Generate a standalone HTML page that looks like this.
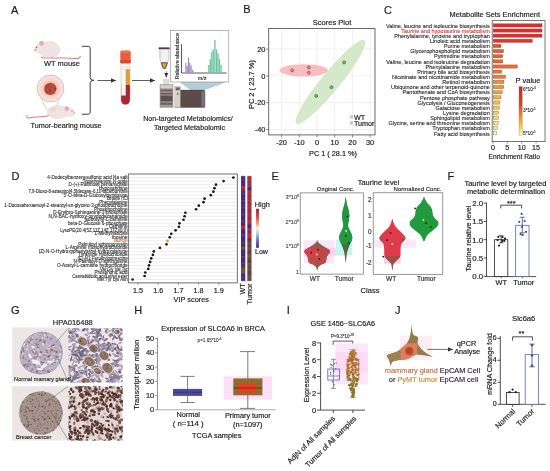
<!DOCTYPE html><html><head><meta charset="utf-8"><style>html,body{margin:0;padding:0;background:#fff;}svg{display:block;font-family:"Liberation Sans",sans-serif;filter:blur(0.3px);}</style></head><body>
<svg width="550" height="471" viewBox="0 0 550 471">
<defs><linearGradient id="pg" x1="0" y1="0" x2="0" y2="1"><stop offset="0" stop-color="#c42828"/><stop offset="0.35" stop-color="#d8402a"/><stop offset="0.6" stop-color="#e88a30"/><stop offset="0.82" stop-color="#f0d040"/><stop offset="1" stop-color="#f8f8d8"/></linearGradient><linearGradient id="hl" x1="0" y1="0" x2="0" y2="1"><stop offset="0" stop-color="#a01a2a"/><stop offset="0.2" stop-color="#d2403a"/><stop offset="0.38" stop-color="#f0a060"/><stop offset="0.5" stop-color="#f8f0d8"/><stop offset="0.62" stop-color="#a8d8e8"/><stop offset="0.8" stop-color="#6a70b8"/><stop offset="1" stop-color="#3a2a80"/></linearGradient><radialGradient id="tum" cx="0.5" cy="0.5" r="0.5"><stop offset="0.4" stop-color="#f2b8a8"/><stop offset="0.62" stop-color="#f6d2c8"/><stop offset="0.9" stop-color="#f8e4de"/><stop offset="1" stop-color="#f2dcd8"/></radialGradient><marker id="ah" markerWidth="6" markerHeight="6" refX="5" refY="3" orient="auto" markerUnits="userSpaceOnUse"><path d="M0,0.8 L5,3 L0,5.2 z" fill="#333"/></marker></defs>
<rect width="550" height="471" fill="#fff"/>
<g font-family='"Liberation Sans", sans-serif' opacity="0.995">
<text x="11.00" y="13.60" font-size="11" text-anchor="start" fill="#1a1a1a" stroke="#1a1a1a" stroke-width="0.18" >A</text>
<g>
<path d="M41,57.5 C52,59 66,57 74,58.5 C78,59 80,58 80.5,56" fill="none" stroke="#e07a84" stroke-width="1.1" />
<ellipse cx="49.5" cy="49.5" rx="10.5" ry="8" fill="#efe3e3" stroke="#e2cccc" stroke-width="0.4"/>
<ellipse cx="40" cy="48.5" rx="5.2" ry="4.6" fill="#f0e4e4" stroke="#e2cccc" stroke-width="0.4"/>
<circle cx="41.50" cy="43.30" r="2.40" fill="#e9a6ae" stroke="none" stroke-width="0.5" />
<circle cx="36.60" cy="47.50" r="0.70" fill="#8a4a50" stroke="none" stroke-width="0.5" />
<circle cx="35.30" cy="50.20" r="0.90" fill="#e58a96" stroke="none" stroke-width="0.5" />
<path d="M43,56 l-1,2.2 M52,56.5 l0,1.8" fill="none" stroke="#e8a0a8" stroke-width="0.8" />
</g>
<text x="44.00" y="66.00" font-size="7.4" text-anchor="start" fill="#1e1e1e" stroke="#1e1e1e" stroke-width="0.18" textLength="36.0" lengthAdjust="spacingAndGlyphs" >WT mouse</text>
<circle cx="50.50" cy="88.50" r="13.40" fill="url(#tum)" stroke="#c8a8a8" stroke-width="0.6" />
<circle cx="50.30" cy="88.90" r="6.10" fill="#b8483c" stroke="none" stroke-width="0.5" />
<circle cx="46.73" cy="90.00" r="1.05" fill="#c45a4c" stroke="none" stroke-width="0.5" />
<circle cx="45.89" cy="90.28" r="0.61" fill="#9a342c" stroke="none" stroke-width="0.5" />
<circle cx="46.43" cy="89.49" r="0.61" fill="#c45a4c" stroke="none" stroke-width="0.5" />
<circle cx="49.80" cy="90.32" r="0.99" fill="#9a342c" stroke="none" stroke-width="0.5" />
<circle cx="47.74" cy="86.01" r="0.74" fill="#c45a4c" stroke="none" stroke-width="0.5" />
<circle cx="48.07" cy="85.67" r="0.59" fill="#a03a30" stroke="none" stroke-width="0.5" />
<circle cx="50.92" cy="87.81" r="0.52" fill="#a03a30" stroke="none" stroke-width="0.5" />
<circle cx="46.73" cy="86.32" r="0.70" fill="#9a342c" stroke="none" stroke-width="0.5" />
<circle cx="52.28" cy="85.89" r="0.88" fill="#c45a4c" stroke="none" stroke-width="0.5" />
<circle cx="51.76" cy="88.94" r="0.89" fill="#c45a4c" stroke="none" stroke-width="0.5" />
<circle cx="55.29" cy="88.83" r="1.00" fill="#9a342c" stroke="none" stroke-width="0.5" />
<circle cx="50.19" cy="93.25" r="0.81" fill="#a03a30" stroke="none" stroke-width="0.5" />
<circle cx="54.26" cy="90.77" r="0.74" fill="#c45a4c" stroke="none" stroke-width="0.5" />
<circle cx="46.60" cy="92.10" r="1.01" fill="#a03a30" stroke="none" stroke-width="0.5" />
<path d="M41.3,98.5 L47,109.5 M59.3,98.3 L56.5,107" fill="none" stroke="#c8b0b0" stroke-width="0.6" />
<path d="M49,115.5 C42,117.5 35,116.5 30,117.8 C27.5,118.5 26.5,117.5 26.8,115.2" fill="none" stroke="#e07a84" stroke-width="1.1" />
<ellipse cx="58" cy="112" rx="11" ry="6.5" fill="#efe3e3" stroke="#e2cccc" stroke-width="0.4"/>
<ellipse cx="69.5" cy="112.3" rx="5" ry="4.2" fill="#f0e4e4" stroke="#e2cccc" stroke-width="0.4"/>
<circle cx="66.80" cy="108.50" r="2.20" fill="#e9a6ae" stroke="none" stroke-width="0.5" />
<circle cx="72.00" cy="111.00" r="0.60" fill="#8a4a50" stroke="none" stroke-width="0.5" />
<circle cx="74.50" cy="113.00" r="0.80" fill="#e58a96" stroke="none" stroke-width="0.5" />
<ellipse cx="53.5" cy="109.5" rx="3" ry="2.2" fill="#f3d2d0"/>
<text x="30.60" y="128.20" font-size="7.4" text-anchor="start" fill="#1e1e1e" stroke="#1e1e1e" stroke-width="0.18" textLength="71.0" lengthAdjust="spacingAndGlyphs" >Tumor-bearing mouse</text>
<path d="M82,46.3 L88.3,46.3 Q90.2,46.3 90.2,48.3 L90.2,77.8 Q90.2,80.3 93.8,80.3 Q90.2,80.3 90.2,82.8 L90.2,112.2 Q90.2,114.2 88.3,114.2 L82,114.2" fill="none" stroke="#3a3a3a" stroke-width="1.0" />
<line x1="97.50" y1="80.50" x2="116.00" y2="80.50" stroke="#333" stroke-width="0.8" marker-end="url(#ah)"/>
<line x1="132.00" y1="80.50" x2="155.00" y2="80.50" stroke="#333" stroke-width="0.8" marker-end="url(#ah)"/>
<rect x="120.80" y="62.00" width="9.40" height="42.60" fill="#f2eeea" stroke="#c8c0bc" stroke-width="0.4" rx="4.5"/>
<rect x="121.10" y="84.80" width="8.80" height="19.60" fill="#a82830" stroke="none" stroke-width="0.8" rx="4.3"/>
<rect x="121.10" y="84.80" width="8.80" height="8.00" fill="#a82830" stroke="none" stroke-width="0.8" />
<rect x="125.60" y="69.20" width="4.30" height="15.80" fill="#d8a032" stroke="none" stroke-width="0.8" />
<rect x="121.30" y="69.20" width="4.40" height="26.20" fill="#f8f6f4" stroke="#d8d0cc" stroke-width="0.3" />
<rect x="120.30" y="50.50" width="10.40" height="12.80" fill="#e85a3a" stroke="none" stroke-width="0.8" rx="1.5"/>
<rect x="120.30" y="60.20" width="10.40" height="3.10" fill="#d4482e" stroke="none" stroke-width="0.8" />
<rect x="121.00" y="51.00" width="9.00" height="2.50" fill="#ee7050" stroke="none" stroke-width="0.8" rx="1"/>
<rect x="158.60" y="47.40" width="11.00" height="1.90" fill="#3a3a3a" stroke="none" stroke-width="0.8" />
<path d="M159.8,49.3 L168.9,49.3 L168.9,58.5 L165.5,68.6 L163.2,68.6 L159.8,58.5 Z" fill="#f2f2f2" stroke="#9a9a9a" stroke-width="0.5" />
<path d="M161.3,62.8 L167.4,62.8 L165.3,68.3 L163.4,68.3 Z" fill="#eca040" stroke="#333" stroke-width="0.8" />
<line x1="161.00" y1="52.00" x2="161.00" y2="58.00" stroke="#bbb" stroke-width="0.4" />
<line x1="166.30" y1="71.20" x2="166.30" y2="77.50" stroke="#555" stroke-width="0.7" marker-end="url(#ah)"/>
<path d="M179.5,82 L226.5,82 L204.5,90.3 L190.5,90.3 Z" fill="#b2ccd8" stroke="none" stroke-width="0.8" />
<rect x="163.60" y="79.50" width="5.30" height="4.70" fill="#cfe2dc" stroke="#a8b4b0" stroke-width="0.3" />
<rect x="160.00" y="84.80" width="13.00" height="22.50" fill="#a29896" stroke="#6a605e" stroke-width="0.35" />
<rect x="160.40" y="85.20" width="12.20" height="3.20" fill="#d8d0cc" stroke="none" stroke-width="0.8" />
<rect x="160.60" y="89.60" width="11.80" height="1.80" fill="#6a605e" stroke="none" stroke-width="0.8" />
<rect x="160.60" y="92.80" width="11.80" height="1.80" fill="#6a605e" stroke="none" stroke-width="0.8" />
<rect x="160.60" y="95.60" width="11.80" height="5.80" fill="#5a504e" stroke="none" stroke-width="0.8" />
<rect x="160.60" y="102.60" width="11.80" height="2.20" fill="#6a605e" stroke="none" stroke-width="0.8" />
<rect x="174.80" y="86.60" width="5.90" height="19.60" fill="#d8d0cc" stroke="#8a8280" stroke-width="0.3" />
<rect x="175.70" y="87.40" width="4.10" height="2.80" fill="#6a6260" stroke="none" stroke-width="0.8" />
<path d="M177.75,92.4 l1.2,2.2 l-2.4,0 z" fill="#5a5452" stroke="none" stroke-width="0.8" />
<path d="M180.7,90.1 L203.3,90.1 Q205.0,90.1 205.0,92.1 L205.0,105.4 Q205.0,107.3 203.3,107.3 L180.7,107.3 Z" fill="#5c4a48" stroke="#3e3432" stroke-width="0.35" />
<path d="M201.5,90.4 L204.8,92 L204.8,106 L201.5,107 Z" fill="#727286" stroke="none" stroke-width="0.8" />
<line x1="174.50" y1="107.40" x2="205.20" y2="107.40" stroke="#6a605e" stroke-width="0.6" />
<rect x="170.60" y="30.40" width="58.20" height="51.60" fill="#ffffff" stroke="#8a8a8a" stroke-width="0.6" />
<text transform="translate(179.20,56.20) rotate(-90)" font-size="4.9" text-anchor="middle" fill="#1e1e1e" stroke="#1e1e1e" stroke-width="0.12" textLength="46.0" lengthAdjust="spacingAndGlyphs">Relative abundance</text>
<line x1="181.50" y1="44.20" x2="181.50" y2="73.00" stroke="#333" stroke-width="0.8" />
<line x1="181.50" y1="73.00" x2="226.70" y2="73.00" stroke="#333" stroke-width="0.8" />
<rect x="185.30" y="62.80" width="1.20" height="9.80" fill="#a088c4" stroke="none" stroke-width="0.8" />
<rect x="186.60" y="66.00" width="1.20" height="6.60" fill="#a088c4" stroke="none" stroke-width="0.8" />
<rect x="187.90" y="57.50" width="1.20" height="15.10" fill="#a088c4" stroke="none" stroke-width="0.8" />
<rect x="189.20" y="62.80" width="1.20" height="9.80" fill="#a088c4" stroke="none" stroke-width="0.8" />
<rect x="190.50" y="65.40" width="1.20" height="7.20" fill="#a088c4" stroke="none" stroke-width="0.8" />
<rect x="192.10" y="69.70" width="1.20" height="2.90" fill="#a088c4" stroke="none" stroke-width="0.8" />
<rect x="208.15" y="64.90" width="1.30" height="7.70" fill="#6cc49e" stroke="none" stroke-width="0.8" />
<rect x="209.65" y="59.10" width="1.30" height="13.50" fill="#6cc49e" stroke="none" stroke-width="0.8" />
<rect x="211.15" y="52.00" width="1.30" height="20.60" fill="#6cc49e" stroke="none" stroke-width="0.8" />
<rect x="212.55" y="49.50" width="1.30" height="23.10" fill="#6cc49e" stroke="none" stroke-width="0.8" />
<rect x="214.25" y="40.00" width="1.30" height="32.60" fill="#6cc49e" stroke="none" stroke-width="0.8" />
<rect x="215.95" y="49.50" width="1.30" height="23.10" fill="#6cc49e" stroke="none" stroke-width="0.8" />
<rect x="217.35" y="53.20" width="1.30" height="19.40" fill="#6cc49e" stroke="none" stroke-width="0.8" />
<rect x="218.85" y="59.10" width="1.30" height="13.50" fill="#6cc49e" stroke="none" stroke-width="0.8" />
<rect x="220.45" y="64.90" width="1.30" height="7.70" fill="#6cc49e" stroke="none" stroke-width="0.8" />
<text x="202.00" y="80.00" font-size="5.4" text-anchor="middle" fill="#1e1e1e" stroke="#1e1e1e" stroke-width="0.12" >m/z</text>
<text x="143.20" y="121.20" font-size="7.2" text-anchor="start" fill="#1e1e1e" stroke="#1e1e1e" stroke-width="0.18" textLength="89.5" lengthAdjust="spacingAndGlyphs" >Non-targeted Metabolomics/</text>
<text x="154.00" y="129.60" font-size="7.2" text-anchor="start" fill="#1e1e1e" stroke="#1e1e1e" stroke-width="0.18" textLength="71.0" lengthAdjust="spacingAndGlyphs" >Targeted Metabolomic</text>
<text x="243.20" y="13.40" font-size="11" text-anchor="start" fill="#1a1a1a" stroke="#1a1a1a" stroke-width="0.18" >B</text>
<text x="332.00" y="25.00" font-size="7.6" text-anchor="middle" fill="#1e1e1e" stroke="#1e1e1e" stroke-width="0.18" textLength="38.7" lengthAdjust="spacingAndGlyphs" >Scores Plot</text>
<rect x="268.70" y="28.50" width="106.30" height="106.40" fill="#fff" stroke="none" stroke-width="0.8" />
<line x1="281.60" y1="28.80" x2="281.60" y2="134.60" stroke="#e6e6e6" stroke-width="0.6" />
<line x1="299.30" y1="28.80" x2="299.30" y2="134.60" stroke="#e6e6e6" stroke-width="0.6" />
<line x1="317.00" y1="28.80" x2="317.00" y2="134.60" stroke="#e6e6e6" stroke-width="0.6" />
<line x1="334.70" y1="28.80" x2="334.70" y2="134.60" stroke="#e6e6e6" stroke-width="0.6" />
<line x1="352.40" y1="28.80" x2="352.40" y2="134.60" stroke="#e6e6e6" stroke-width="0.6" />
<line x1="370.10" y1="28.80" x2="370.10" y2="134.60" stroke="#e6e6e6" stroke-width="0.6" />
<line x1="268.90" y1="49.10" x2="374.80" y2="49.10" stroke="#e6e6e6" stroke-width="0.6" />
<line x1="268.90" y1="75.90" x2="374.80" y2="75.90" stroke="#e6e6e6" stroke-width="0.6" />
<line x1="268.90" y1="102.70" x2="374.80" y2="102.70" stroke="#e6e6e6" stroke-width="0.6" />
<line x1="268.90" y1="129.50" x2="374.80" y2="129.50" stroke="#e6e6e6" stroke-width="0.6" />
<ellipse cx="303.8" cy="70.4" rx="24.3" ry="6.2" fill="#f5bcbc" opacity="0.95"/>
<ellipse cx="330.5" cy="81.9" rx="53.8" ry="9.4" fill="#cfe6c4" opacity="0.9" transform="rotate(-50.7 330.5 81.9)"/>
<circle cx="292.10" cy="70.40" r="1.50" fill="#e58a8a" stroke="#7a3a3a" stroke-width="0.6" />
<circle cx="308.80" cy="67.40" r="1.50" fill="#e58a8a" stroke="#7a3a3a" stroke-width="0.6" />
<circle cx="308.80" cy="72.70" r="1.50" fill="#e58a8a" stroke="#7a3a3a" stroke-width="0.6" />
<circle cx="344.10" cy="62.40" r="1.50" fill="#8ab88a" stroke="#2e4a2e" stroke-width="0.6" />
<circle cx="331.50" cy="87.20" r="1.50" fill="#8ab88a" stroke="#2e4a2e" stroke-width="0.6" />
<circle cx="316.20" cy="95.90" r="1.50" fill="#8ab88a" stroke="#2e4a2e" stroke-width="0.6" />
<rect x="268.70" y="28.50" width="106.30" height="106.40" fill="none" stroke="#5a5a5a" stroke-width="0.9" />
<line x1="266.20" y1="49.10" x2="268.70" y2="49.10" stroke="#555" stroke-width="0.7" />
<text x="265.40" y="51.70" font-size="7.4" text-anchor="end" fill="#1e1e1e" stroke="#1e1e1e" stroke-width="0.18" >20</text>
<line x1="266.20" y1="75.90" x2="268.70" y2="75.90" stroke="#555" stroke-width="0.7" />
<text x="265.40" y="78.50" font-size="7.4" text-anchor="end" fill="#1e1e1e" stroke="#1e1e1e" stroke-width="0.18" >0</text>
<line x1="266.20" y1="102.70" x2="268.70" y2="102.70" stroke="#555" stroke-width="0.7" />
<text x="265.40" y="105.30" font-size="7.4" text-anchor="end" fill="#1e1e1e" stroke="#1e1e1e" stroke-width="0.18" >-20</text>
<line x1="266.20" y1="129.50" x2="268.70" y2="129.50" stroke="#555" stroke-width="0.7" />
<text x="265.40" y="132.10" font-size="7.4" text-anchor="end" fill="#1e1e1e" stroke="#1e1e1e" stroke-width="0.18" >-40</text>
<line x1="281.60" y1="134.90" x2="281.60" y2="137.40" stroke="#555" stroke-width="0.7" />
<text x="281.60" y="144.80" font-size="7.4" text-anchor="middle" fill="#1e1e1e" stroke="#1e1e1e" stroke-width="0.18" >-20</text>
<line x1="299.30" y1="134.90" x2="299.30" y2="137.40" stroke="#555" stroke-width="0.7" />
<text x="299.30" y="144.80" font-size="7.4" text-anchor="middle" fill="#1e1e1e" stroke="#1e1e1e" stroke-width="0.18" >-10</text>
<line x1="317.00" y1="134.90" x2="317.00" y2="137.40" stroke="#555" stroke-width="0.7" />
<text x="317.00" y="144.80" font-size="7.4" text-anchor="middle" fill="#1e1e1e" stroke="#1e1e1e" stroke-width="0.18" >0</text>
<line x1="334.70" y1="134.90" x2="334.70" y2="137.40" stroke="#555" stroke-width="0.7" />
<text x="334.70" y="144.80" font-size="7.4" text-anchor="middle" fill="#1e1e1e" stroke="#1e1e1e" stroke-width="0.18" >10</text>
<line x1="352.40" y1="134.90" x2="352.40" y2="137.40" stroke="#555" stroke-width="0.7" />
<text x="352.40" y="144.80" font-size="7.4" text-anchor="middle" fill="#1e1e1e" stroke="#1e1e1e" stroke-width="0.18" >20</text>
<line x1="370.10" y1="134.90" x2="370.10" y2="137.40" stroke="#555" stroke-width="0.7" />
<text x="370.10" y="144.80" font-size="7.4" text-anchor="middle" fill="#1e1e1e" stroke="#1e1e1e" stroke-width="0.18" >30</text>
<text x="333.00" y="156.20" font-size="7.4" text-anchor="middle" fill="#1e1e1e" stroke="#1e1e1e" stroke-width="0.18" textLength="48.0" lengthAdjust="spacingAndGlyphs" >PC 1 ( 28.1 %)</text>
<text transform="translate(254.30,84.60) rotate(-90)" font-size="7.4" text-anchor="middle" fill="#1e1e1e" stroke="#1e1e1e" stroke-width="0.18" textLength="49.0" lengthAdjust="spacingAndGlyphs">PC 2 ( 23.7 %)</text>
<rect x="349.80" y="115.30" width="3.20" height="3.20" fill="#f4b4b4" stroke="none" stroke-width="0.8" />
<rect x="349.80" y="121.50" width="3.20" height="3.20" fill="#a8d8b8" stroke="none" stroke-width="0.8" />
<text x="354.00" y="119.60" font-size="7.2" text-anchor="start" fill="#1e1e1e" stroke="#1e1e1e" stroke-width="0.18" >WT</text>
<text x="354.00" y="126.20" font-size="7.2" text-anchor="start" fill="#1e1e1e" stroke="#1e1e1e" stroke-width="0.18" >Tumor</text>
<text x="383.90" y="13.50" font-size="11" text-anchor="start" fill="#1a1a1a" stroke="#1a1a1a" stroke-width="0.18" >C</text>
<text x="494.80" y="17.20" font-size="7.4" text-anchor="middle" fill="#1e1e1e" stroke="#1e1e1e" stroke-width="0.18" textLength="90.4" lengthAdjust="spacingAndGlyphs" >Metabolite Sets Enrichment</text>
<rect x="492.20" y="20.60" width="52.80" height="121.00" fill="#fff" stroke="#555" stroke-width="0.8" />
<text x="489.80" y="27.60" font-size="5.5" text-anchor="end" fill="#1e1e1e" stroke="#1e1e1e" stroke-width="0.1" textLength="103.9" lengthAdjust="spacingAndGlyphs" >Valine, leucine and isoleucine biosynthesis</text>
<rect x="493.20" y="23.80" width="48.80" height="3.20" fill="#e8282a" stroke="#5a3a2a" stroke-width="0.3" />
<text x="489.80" y="32.74" font-size="5.5" text-anchor="end" fill="#e03434" stroke="#e03434" stroke-width="0.1" textLength="88.5" lengthAdjust="spacingAndGlyphs" >Taurine and hypotaurine metabolism</text>
<rect x="493.20" y="28.94" width="48.80" height="3.20" fill="#e8282a" stroke="#5a3a2a" stroke-width="0.3" />
<text x="489.80" y="37.88" font-size="5.5" text-anchor="end" fill="#1e1e1e" stroke="#1e1e1e" stroke-width="0.1" textLength="95.6" lengthAdjust="spacingAndGlyphs" >Phenylalanine, tyrosine and tryptophan</text>
<rect x="493.20" y="34.08" width="48.80" height="3.20" fill="#e8282a" stroke="#5a3a2a" stroke-width="0.3" />
<text x="489.80" y="43.02" font-size="5.5" text-anchor="end" fill="#1e1e1e" stroke="#1e1e1e" stroke-width="0.1" textLength="60.0" lengthAdjust="spacingAndGlyphs" >Linoleic acid metabolism</text>
<rect x="493.20" y="39.22" width="39.20" height="3.20" fill="#e8302a" stroke="#5a3a2a" stroke-width="0.3" />
<text x="489.80" y="48.16" font-size="5.5" text-anchor="end" fill="#1e1e1e" stroke="#1e1e1e" stroke-width="0.1" textLength="46.0" lengthAdjust="spacingAndGlyphs" >Purine metabolism</text>
<rect x="493.20" y="44.36" width="7.80" height="3.20" fill="#ea4a2a" stroke="#5a3a2a" stroke-width="0.3" />
<text x="489.80" y="53.30" font-size="5.5" text-anchor="end" fill="#1e1e1e" stroke="#1e1e1e" stroke-width="0.1" textLength="79.5" lengthAdjust="spacingAndGlyphs" >Glycerophospholipid metabolism</text>
<rect x="493.20" y="49.50" width="10.40" height="3.20" fill="#ec5a2c" stroke="#5a3a2a" stroke-width="0.3" />
<text x="489.80" y="58.44" font-size="5.5" text-anchor="end" fill="#1e1e1e" stroke="#1e1e1e" stroke-width="0.1" textLength="55.8" lengthAdjust="spacingAndGlyphs" >Pyrimidine metabolism</text>
<rect x="493.20" y="54.64" width="9.60" height="3.20" fill="#ec5e2c" stroke="#5a3a2a" stroke-width="0.3" />
<text x="489.80" y="63.58" font-size="5.5" text-anchor="end" fill="#1e1e1e" stroke="#1e1e1e" stroke-width="0.1" textLength="103.5" lengthAdjust="spacingAndGlyphs" >Valine, leucine and isoleucine degradation</text>
<rect x="493.20" y="59.78" width="9.60" height="3.20" fill="#ec602c" stroke="#5a3a2a" stroke-width="0.3" />
<text x="489.80" y="68.72" font-size="5.5" text-anchor="end" fill="#1e1e1e" stroke="#1e1e1e" stroke-width="0.1" textLength="64.2" lengthAdjust="spacingAndGlyphs" >Phenylalanine metabolism</text>
<rect x="493.20" y="64.92" width="24.10" height="3.20" fill="#ee6a2e" stroke="#5a3a2a" stroke-width="0.3" />
<text x="489.80" y="73.86" font-size="5.5" text-anchor="end" fill="#1e1e1e" stroke="#1e1e1e" stroke-width="0.1" textLength="72.6" lengthAdjust="spacingAndGlyphs" >Primary bile acid biosynthesis</text>
<rect x="493.20" y="70.06" width="8.40" height="3.20" fill="#ee702e" stroke="#5a3a2a" stroke-width="0.3" />
<text x="489.80" y="79.00" font-size="5.5" text-anchor="end" fill="#1e1e1e" stroke="#1e1e1e" stroke-width="0.1" textLength="97.7" lengthAdjust="spacingAndGlyphs" >Nicotinate and nicotinamide metabolism</text>
<rect x="493.20" y="75.20" width="12.40" height="3.20" fill="#f07c30" stroke="#5a3a2a" stroke-width="0.3" />
<text x="489.80" y="84.14" font-size="5.5" text-anchor="end" fill="#1e1e1e" stroke="#1e1e1e" stroke-width="0.1" textLength="47.5" lengthAdjust="spacingAndGlyphs" >Retinol metabolism</text>
<rect x="493.20" y="80.34" width="10.80" height="3.20" fill="#f08a34" stroke="#5a3a2a" stroke-width="0.3" />
<text x="489.80" y="89.28" font-size="5.5" text-anchor="end" fill="#1e1e1e" stroke="#1e1e1e" stroke-width="0.1" textLength="98.9" lengthAdjust="spacingAndGlyphs" >Ubiquinone and other terpenoid-quinone</text>
<rect x="493.20" y="85.48" width="10.50" height="3.20" fill="#f09638" stroke="#5a3a2a" stroke-width="0.3" />
<text x="489.80" y="94.42" font-size="5.5" text-anchor="end" fill="#1e1e1e" stroke="#1e1e1e" stroke-width="0.1" textLength="87.2" lengthAdjust="spacingAndGlyphs" >Pantothenate and CoA biosynthesis</text>
<rect x="493.20" y="90.62" width="9.20" height="3.20" fill="#f0a23c" stroke="#5a3a2a" stroke-width="0.3" />
<text x="489.80" y="99.56" font-size="5.5" text-anchor="end" fill="#1e1e1e" stroke="#1e1e1e" stroke-width="0.1" textLength="69.7" lengthAdjust="spacingAndGlyphs" >Pentose phosphate pathway</text>
<rect x="493.20" y="95.76" width="7.80" height="3.20" fill="#f2b040" stroke="#5a3a2a" stroke-width="0.3" />
<text x="489.80" y="104.70" font-size="5.5" text-anchor="end" fill="#1e1e1e" stroke="#1e1e1e" stroke-width="0.1" textLength="72.2" lengthAdjust="spacingAndGlyphs" >Glycolysis / Gluconeogenesis</text>
<rect x="493.20" y="100.90" width="6.80" height="3.20" fill="#f2bc46" stroke="#5a3a2a" stroke-width="0.3" />
<text x="489.80" y="109.84" font-size="5.5" text-anchor="end" fill="#1e1e1e" stroke="#1e1e1e" stroke-width="0.1" textLength="54.4" lengthAdjust="spacingAndGlyphs" >Galactose metabolism</text>
<rect x="493.20" y="106.04" width="6.20" height="3.20" fill="#f4c84c" stroke="#5a3a2a" stroke-width="0.3" />
<text x="489.80" y="114.98" font-size="5.5" text-anchor="end" fill="#1e1e1e" stroke="#1e1e1e" stroke-width="0.1" textLength="46.7" lengthAdjust="spacingAndGlyphs" >Lysine degradation</text>
<rect x="493.20" y="111.18" width="5.40" height="3.20" fill="#f4d456" stroke="#5a3a2a" stroke-width="0.3" />
<text x="489.80" y="120.12" font-size="5.5" text-anchor="end" fill="#1e1e1e" stroke="#1e1e1e" stroke-width="0.1" textLength="59.6" lengthAdjust="spacingAndGlyphs" >Sphingolipid metabolism</text>
<rect x="493.20" y="116.32" width="5.40" height="3.20" fill="#f5dc64" stroke="#5a3a2a" stroke-width="0.3" />
<text x="489.80" y="125.26" font-size="5.5" text-anchor="end" fill="#1e1e1e" stroke="#1e1e1e" stroke-width="0.1" textLength="101.4" lengthAdjust="spacingAndGlyphs" >Glycine, serine and threonine metabolism</text>
<rect x="493.20" y="121.46" width="5.00" height="3.20" fill="#f6e47c" stroke="#5a3a2a" stroke-width="0.3" />
<text x="489.80" y="130.40" font-size="5.5" text-anchor="end" fill="#1e1e1e" stroke="#1e1e1e" stroke-width="0.1" textLength="57.5" lengthAdjust="spacingAndGlyphs" >Tryptophan metabolism</text>
<rect x="493.20" y="126.60" width="4.10" height="3.20" fill="#f8ec9c" stroke="#5a3a2a" stroke-width="0.3" />
<text x="489.80" y="135.54" font-size="5.5" text-anchor="end" fill="#1e1e1e" stroke="#1e1e1e" stroke-width="0.1" textLength="55.8" lengthAdjust="spacingAndGlyphs" >Fatty acid biosynthesis</text>
<rect x="493.20" y="131.74" width="3.50" height="3.20" fill="#faf4c8" stroke="#5a3a2a" stroke-width="0.3" />
<line x1="493.00" y1="141.60" x2="493.00" y2="143.60" stroke="#555" stroke-width="0.6" />
<text x="493.00" y="150.10" font-size="7.2" text-anchor="middle" fill="#1e1e1e" stroke="#1e1e1e" stroke-width="0.18" >0</text>
<line x1="507.35" y1="141.60" x2="507.35" y2="143.60" stroke="#555" stroke-width="0.6" />
<text x="507.35" y="150.10" font-size="7.2" text-anchor="middle" fill="#1e1e1e" stroke="#1e1e1e" stroke-width="0.18" >5</text>
<line x1="521.70" y1="141.60" x2="521.70" y2="143.60" stroke="#555" stroke-width="0.6" />
<text x="521.70" y="150.10" font-size="7.2" text-anchor="middle" fill="#1e1e1e" stroke="#1e1e1e" stroke-width="0.18" >10</text>
<line x1="536.05" y1="141.60" x2="536.05" y2="143.60" stroke="#555" stroke-width="0.6" />
<text x="536.05" y="150.10" font-size="7.2" text-anchor="middle" fill="#1e1e1e" stroke="#1e1e1e" stroke-width="0.18" >15</text>
<text x="514.20" y="159.00" font-size="7.0" text-anchor="middle" fill="#1e1e1e" stroke="#1e1e1e" stroke-width="0.18" textLength="51.5" lengthAdjust="spacingAndGlyphs" >Enrichment Ratio</text>
<text x="528.00" y="83.00" font-size="7.8" text-anchor="middle" fill="#1e1e1e" stroke="#1e1e1e" stroke-width="0.18" textLength="25.0" lengthAdjust="spacingAndGlyphs" >P value</text>
<rect x="519.00" y="86.60" width="3.20" height="48.60" fill="url(#pg)" stroke="#777" stroke-width="0.3" />
<text x="523.00" y="90.60" font-size="4.8" text-anchor="start" fill="#1e1e1e" stroke="#1e1e1e" stroke-width="0.12" >6*10<tspan font-size="3.2" dy="-1.82">-3</tspan></text>
<text x="523.00" y="111.60" font-size="4.8" text-anchor="start" fill="#1e1e1e" stroke="#1e1e1e" stroke-width="0.12" >3*10<tspan font-size="3.2" dy="-1.82">-1</tspan></text>
<text x="523.00" y="134.60" font-size="4.8" text-anchor="start" fill="#1e1e1e" stroke="#1e1e1e" stroke-width="0.12" >5*10<tspan font-size="3.2" dy="-1.82">-1</tspan></text>
<text x="11.60" y="180.00" font-size="11" text-anchor="start" fill="#1a1a1a" stroke="#1a1a1a" stroke-width="0.18" >D</text>
<rect x="128.30" y="174.00" width="109.00" height="108.90" fill="#fff" stroke="none" stroke-width="0.8" />
<line x1="128.60" y1="177.60" x2="237.00" y2="177.60" stroke="#d8d8d8" stroke-width="0.5" />
<line x1="128.60" y1="181.11" x2="237.00" y2="181.11" stroke="#d8d8d8" stroke-width="0.5" />
<line x1="128.60" y1="184.63" x2="237.00" y2="184.63" stroke="#d8d8d8" stroke-width="0.5" />
<line x1="128.60" y1="188.14" x2="237.00" y2="188.14" stroke="#d8d8d8" stroke-width="0.5" />
<line x1="128.60" y1="191.66" x2="237.00" y2="191.66" stroke="#d8d8d8" stroke-width="0.5" />
<line x1="128.60" y1="195.17" x2="237.00" y2="195.17" stroke="#d8d8d8" stroke-width="0.5" />
<line x1="128.60" y1="198.68" x2="237.00" y2="198.68" stroke="#d8d8d8" stroke-width="0.5" />
<line x1="128.60" y1="202.20" x2="237.00" y2="202.20" stroke="#d8d8d8" stroke-width="0.5" />
<line x1="128.60" y1="205.71" x2="237.00" y2="205.71" stroke="#d8d8d8" stroke-width="0.5" />
<line x1="128.60" y1="209.23" x2="237.00" y2="209.23" stroke="#d8d8d8" stroke-width="0.5" />
<line x1="128.60" y1="212.74" x2="237.00" y2="212.74" stroke="#d8d8d8" stroke-width="0.5" />
<line x1="128.60" y1="216.25" x2="237.00" y2="216.25" stroke="#d8d8d8" stroke-width="0.5" />
<line x1="128.60" y1="219.77" x2="237.00" y2="219.77" stroke="#d8d8d8" stroke-width="0.5" />
<line x1="128.60" y1="223.28" x2="237.00" y2="223.28" stroke="#d8d8d8" stroke-width="0.5" />
<line x1="128.60" y1="226.80" x2="237.00" y2="226.80" stroke="#d8d8d8" stroke-width="0.5" />
<line x1="128.60" y1="230.31" x2="237.00" y2="230.31" stroke="#d8d8d8" stroke-width="0.5" />
<line x1="128.60" y1="233.82" x2="237.00" y2="233.82" stroke="#d8d8d8" stroke-width="0.5" />
<line x1="128.60" y1="237.34" x2="237.00" y2="237.34" stroke="#d8d8d8" stroke-width="0.5" />
<line x1="128.60" y1="240.85" x2="237.00" y2="240.85" stroke="#d8d8d8" stroke-width="0.5" />
<line x1="128.60" y1="244.37" x2="237.00" y2="244.37" stroke="#d8d8d8" stroke-width="0.5" />
<line x1="128.60" y1="247.88" x2="237.00" y2="247.88" stroke="#d8d8d8" stroke-width="0.5" />
<line x1="128.60" y1="251.39" x2="237.00" y2="251.39" stroke="#d8d8d8" stroke-width="0.5" />
<line x1="128.60" y1="254.91" x2="237.00" y2="254.91" stroke="#d8d8d8" stroke-width="0.5" />
<line x1="128.60" y1="258.42" x2="237.00" y2="258.42" stroke="#d8d8d8" stroke-width="0.5" />
<line x1="128.60" y1="261.94" x2="237.00" y2="261.94" stroke="#d8d8d8" stroke-width="0.5" />
<line x1="128.60" y1="265.45" x2="237.00" y2="265.45" stroke="#d8d8d8" stroke-width="0.5" />
<line x1="128.60" y1="268.96" x2="237.00" y2="268.96" stroke="#d8d8d8" stroke-width="0.5" />
<line x1="128.60" y1="272.48" x2="237.00" y2="272.48" stroke="#d8d8d8" stroke-width="0.5" />
<line x1="128.60" y1="275.99" x2="237.00" y2="275.99" stroke="#d8d8d8" stroke-width="0.5" />
<line x1="128.60" y1="279.51" x2="237.00" y2="279.51" stroke="#d8d8d8" stroke-width="0.5" />
<rect x="128.30" y="174.00" width="109.00" height="108.90" fill="none" stroke="#4a4a4a" stroke-width="0.8" />
<text x="127.60" y="179.15" font-size="4.5" text-anchor="end" fill="#2a2a2a" stroke="#2a2a2a" stroke-width="0.1" textLength="80.3" lengthAdjust="spacingAndGlyphs" >4-Dodecylbenzenesulfonic acid Na salt</text>
<circle cx="233.40" cy="177.60" r="1.35" fill="#1a1a1a" stroke="none" stroke-width="0.5" />
<text x="127.60" y="182.66" font-size="4.5" text-anchor="end" fill="#2a2a2a" stroke="#2a2a2a" stroke-width="0.1" textLength="44.9" lengthAdjust="spacingAndGlyphs" >Trimethylamine N-oxide</text>
<circle cx="223.60" cy="181.11" r="1.35" fill="#1a1a1a" stroke="none" stroke-width="0.5" />
<text x="127.60" y="186.18" font-size="4.5" text-anchor="end" fill="#2a2a2a" stroke="#2a2a2a" stroke-width="0.1" textLength="59.0" lengthAdjust="spacingAndGlyphs" >D-(+)-Raffinose pentahydrate</text>
<circle cx="216.00" cy="184.63" r="1.35" fill="#1a1a1a" stroke="none" stroke-width="0.5" />
<text x="127.60" y="189.69" font-size="4.5" text-anchor="end" fill="#2a2a2a" stroke="#2a2a2a" stroke-width="0.1" textLength="28.9" lengthAdjust="spacingAndGlyphs" >Hypoxanthine</text>
<circle cx="214.50" cy="188.14" r="1.35" fill="#1a1a1a" stroke="none" stroke-width="0.5" />
<text x="127.60" y="193.21" font-size="4.5" text-anchor="end" fill="#2a2a2a" stroke="#2a2a2a" stroke-width="0.1" textLength="99.2" lengthAdjust="spacingAndGlyphs" >7,9-Dioxo-8-azaspiro[4.5]decane-6,10-dicarbonitrile</text>
<circle cx="213.40" cy="191.66" r="1.35" fill="#1a1a1a" stroke="none" stroke-width="0.5" />
<text x="127.60" y="196.72" font-size="4.5" text-anchor="end" fill="#2a2a2a" stroke="#2a2a2a" stroke-width="0.1" textLength="64.2" lengthAdjust="spacingAndGlyphs" >5'-O-beta-D-Glucosylpyridoxine</text>
<circle cx="210.80" cy="195.17" r="1.35" fill="#1a1a1a" stroke="none" stroke-width="0.5" />
<text x="127.60" y="200.23" font-size="4.5" text-anchor="end" fill="#2a2a2a" stroke="#2a2a2a" stroke-width="0.1" textLength="20.6" lengthAdjust="spacingAndGlyphs" >Betaine HCl</text>
<circle cx="204.60" cy="198.68" r="1.35" fill="#1a1a1a" stroke="none" stroke-width="0.5" />
<text x="127.60" y="203.75" font-size="4.5" text-anchor="end" fill="#2a2a2a" stroke="#2a2a2a" stroke-width="0.1" textLength="28.3" lengthAdjust="spacingAndGlyphs" >Phenylalanine</text>
<circle cx="203.50" cy="202.20" r="1.35" fill="#1a1a1a" stroke="none" stroke-width="0.5" />
<text x="127.60" y="207.26" font-size="4.5" text-anchor="end" fill="#2a2a2a" stroke="#2a2a2a" stroke-width="0.1" textLength="123.3" lengthAdjust="spacingAndGlyphs" >1-Docosahexaenoyl-2-stearoyl-sn-glycero-3-phosphocholine</text>
<circle cx="198.80" cy="205.71" r="1.35" fill="#1a1a1a" stroke="none" stroke-width="0.5" />
<text x="127.60" y="210.78" font-size="4.5" text-anchor="end" fill="#2a2a2a" stroke="#2a2a2a" stroke-width="0.1" textLength="33.6" lengthAdjust="spacingAndGlyphs" >Phosphocholine</text>
<circle cx="196.10" cy="209.23" r="1.35" fill="#1a1a1a" stroke="none" stroke-width="0.5" />
<text x="127.60" y="214.29" font-size="4.5" text-anchor="end" fill="#2a2a2a" stroke="#2a2a2a" stroke-width="0.1" textLength="74.4" lengthAdjust="spacingAndGlyphs" >D-Erythro-Sphinganine-1-phosphate</text>
<circle cx="185.40" cy="212.74" r="1.35" fill="#1a1a1a" stroke="none" stroke-width="0.5" />
<text x="127.60" y="217.80" font-size="4.5" text-anchor="end" fill="#2a2a2a" stroke="#2a2a2a" stroke-width="0.1" textLength="79.1" lengthAdjust="spacingAndGlyphs" >N,N-BAC-hydroxy-oxydodecanamide</text>
<circle cx="184.60" cy="216.25" r="1.35" fill="#1a1a1a" stroke="none" stroke-width="0.5" />
<text x="127.60" y="221.32" font-size="4.5" text-anchor="end" fill="#2a2a2a" stroke="#2a2a2a" stroke-width="0.1" textLength="43.1" lengthAdjust="spacingAndGlyphs" >Isobutyryl-L-carnitine</text>
<circle cx="183.50" cy="219.77" r="1.35" fill="#1a1a1a" stroke="none" stroke-width="0.5" />
<text x="127.60" y="224.83" font-size="4.5" text-anchor="end" fill="#2a2a2a" stroke="#2a2a2a" stroke-width="0.1" textLength="59.6" lengthAdjust="spacingAndGlyphs" >beta-D-Glucose 6-phosphate</text>
<circle cx="179.50" cy="223.28" r="1.35" fill="#1a1a1a" stroke="none" stroke-width="0.5" />
<text x="127.60" y="228.35" font-size="4.5" text-anchor="end" fill="#2a2a2a" stroke="#2a2a2a" stroke-width="0.1" textLength="18.9" lengthAdjust="spacingAndGlyphs" >Carnitine</text>
<circle cx="178.90" cy="226.80" r="1.35" fill="#1a1a1a" stroke="none" stroke-width="0.5" />
<text x="127.60" y="231.86" font-size="4.5" text-anchor="end" fill="#2a2a2a" stroke="#2a2a2a" stroke-width="0.1" textLength="67.3" lengthAdjust="spacingAndGlyphs" >LysoPE(20:4(5Z,11Z,14Z,17Z)/0:0)</text>
<circle cx="175.60" cy="230.31" r="1.35" fill="#1a1a1a" stroke="none" stroke-width="0.5" />
<text x="127.60" y="235.37" font-size="4.5" text-anchor="end" fill="#2a2a2a" stroke="#2a2a2a" stroke-width="0.1" textLength="33.1" lengthAdjust="spacingAndGlyphs" >1-Methylhistidine</text>
<circle cx="171.30" cy="233.82" r="1.35" fill="#1a1a1a" stroke="none" stroke-width="0.5" />
<text x="127.60" y="238.89" font-size="4.5" text-anchor="end" fill="#2a2a2a" stroke="#2a2a2a" stroke-width="0.1" textLength="15.9" lengthAdjust="spacingAndGlyphs" >Inosine</text>
<circle cx="169.70" cy="237.34" r="1.35" fill="#1a1a1a" stroke="none" stroke-width="0.5" />
<text x="127.60" y="242.40" font-size="4.5" text-anchor="end" fill="#c8703a" stroke="#c8703a" stroke-width="0.1" textLength="14.7" lengthAdjust="spacingAndGlyphs" >Taurine</text>
<circle cx="167.50" cy="240.85" r="1.35" fill="#c8a030" stroke="none" stroke-width="0.5" />
<text x="127.60" y="245.92" font-size="4.5" text-anchor="end" fill="#2a2a2a" stroke="#2a2a2a" stroke-width="0.1" textLength="49.4" lengthAdjust="spacingAndGlyphs" >Palmitoyl sphingomyelin</text>
<circle cx="166.50" cy="244.37" r="1.35" fill="#1a1a1a" stroke="none" stroke-width="0.5" />
<text x="127.60" y="249.43" font-size="4.5" text-anchor="end" fill="#2a2a2a" stroke="#2a2a2a" stroke-width="0.1" textLength="62.1" lengthAdjust="spacingAndGlyphs" >L-Arginine monohydrochloride</text>
<circle cx="159.90" cy="247.88" r="1.35" fill="#1a1a1a" stroke="none" stroke-width="0.5" />
<text x="127.60" y="252.94" font-size="4.5" text-anchor="end" fill="#2a2a2a" stroke="#2a2a2a" stroke-width="0.1" textLength="88.9" lengthAdjust="spacingAndGlyphs" >(Z)-N-O-Hydroxyphenylethyl-hydroxylamine</text>
<circle cx="153.80" cy="251.39" r="1.35" fill="#1a1a1a" stroke="none" stroke-width="0.5" />
<text x="127.60" y="256.46" font-size="4.5" text-anchor="end" fill="#2a2a2a" stroke="#2a2a2a" stroke-width="0.1" textLength="49.4" lengthAdjust="spacingAndGlyphs" >Tyramine hydrochloride</text>
<circle cx="152.90" cy="254.91" r="1.35" fill="#1a1a1a" stroke="none" stroke-width="0.5" />
<text x="127.60" y="259.97" font-size="4.5" text-anchor="end" fill="#2a2a2a" stroke="#2a2a2a" stroke-width="0.1" textLength="50.0" lengthAdjust="spacingAndGlyphs" >(E)-N1-Feruloylputrescine</text>
<circle cx="151.20" cy="258.42" r="1.35" fill="#1a1a1a" stroke="none" stroke-width="0.5" />
<text x="127.60" y="263.49" font-size="4.5" text-anchor="end" fill="#2a2a2a" stroke="#2a2a2a" stroke-width="0.1" textLength="54.0" lengthAdjust="spacingAndGlyphs" >N-Palmitoyl-D-sphingosine</text>
<circle cx="150.10" cy="261.94" r="1.35" fill="#1a1a1a" stroke="none" stroke-width="0.5" />
<text x="127.60" y="267.00" font-size="4.5" text-anchor="end" fill="#2a2a2a" stroke="#2a2a2a" stroke-width="0.1" textLength="70.7" lengthAdjust="spacingAndGlyphs" >O-Acetyl-L-carnitine hydrochloride</text>
<circle cx="149.00" cy="265.45" r="1.35" fill="#1a1a1a" stroke="none" stroke-width="0.5" />
<text x="127.60" y="270.51" font-size="4.5" text-anchor="end" fill="#2a2a2a" stroke="#2a2a2a" stroke-width="0.1" textLength="27.6" lengthAdjust="spacingAndGlyphs" >Val Gly Val Tyr</text>
<circle cx="148.30" cy="268.96" r="1.35" fill="#1a1a1a" stroke="none" stroke-width="0.5" />
<text x="127.60" y="274.03" font-size="4.5" text-anchor="end" fill="#2a2a2a" stroke="#2a2a2a" stroke-width="0.1" textLength="33.1" lengthAdjust="spacingAndGlyphs" >Phosphonic acid</text>
<circle cx="145.30" cy="272.48" r="1.35" fill="#1a1a1a" stroke="none" stroke-width="0.5" />
<text x="127.60" y="277.54" font-size="4.5" text-anchor="end" fill="#2a2a2a" stroke="#2a2a2a" stroke-width="0.1" textLength="55.4" lengthAdjust="spacingAndGlyphs" >Cannabidiolic acid ethyl ester</text>
<circle cx="144.60" cy="275.99" r="1.35" fill="#1a1a1a" stroke="none" stroke-width="0.5" />
<text x="127.60" y="281.06" font-size="4.5" text-anchor="end" fill="#2a2a2a" stroke="#2a2a2a" stroke-width="0.1" textLength="30.3" lengthAdjust="spacingAndGlyphs" >Met Tyr Lys Asn</text>
<circle cx="132.60" cy="279.51" r="1.35" fill="#1a1a1a" stroke="none" stroke-width="0.5" />
<line x1="138.00" y1="282.90" x2="138.00" y2="284.80" stroke="#555" stroke-width="0.6" />
<text x="138.00" y="292.60" font-size="7.2" text-anchor="middle" fill="#1e1e1e" stroke="#1e1e1e" stroke-width="0.18" >1.5</text>
<line x1="158.20" y1="282.90" x2="158.20" y2="284.80" stroke="#555" stroke-width="0.6" />
<text x="158.20" y="292.60" font-size="7.2" text-anchor="middle" fill="#1e1e1e" stroke="#1e1e1e" stroke-width="0.18" >1.6</text>
<line x1="178.40" y1="282.90" x2="178.40" y2="284.80" stroke="#555" stroke-width="0.6" />
<text x="178.40" y="292.60" font-size="7.2" text-anchor="middle" fill="#1e1e1e" stroke="#1e1e1e" stroke-width="0.18" >1.7</text>
<line x1="198.60" y1="282.90" x2="198.60" y2="284.80" stroke="#555" stroke-width="0.6" />
<text x="198.60" y="292.60" font-size="7.2" text-anchor="middle" fill="#1e1e1e" stroke="#1e1e1e" stroke-width="0.18" >1.8</text>
<line x1="218.80" y1="282.90" x2="218.80" y2="284.80" stroke="#555" stroke-width="0.6" />
<text x="218.80" y="292.60" font-size="7.2" text-anchor="middle" fill="#1e1e1e" stroke="#1e1e1e" stroke-width="0.18" >1.9</text>
<text x="191.30" y="302.00" font-size="7.4" text-anchor="middle" fill="#1e1e1e" stroke="#1e1e1e" stroke-width="0.18" textLength="35.5" lengthAdjust="spacingAndGlyphs" >VIP scores</text>
<rect x="241.00" y="176.20" width="4.30" height="3.54" fill="#48288a" stroke="none" stroke-width="0.8" />
<rect x="247.30" y="176.20" width="4.20" height="3.54" fill="#b22a3a" stroke="none" stroke-width="0.8" />
<rect x="241.00" y="179.69" width="4.30" height="3.54" fill="#48288a" stroke="none" stroke-width="0.8" />
<rect x="247.30" y="179.69" width="4.20" height="3.54" fill="#b22a3a" stroke="none" stroke-width="0.8" />
<rect x="241.00" y="183.17" width="4.30" height="3.54" fill="#48288a" stroke="none" stroke-width="0.8" />
<rect x="247.30" y="183.17" width="4.20" height="3.54" fill="#b22a3a" stroke="none" stroke-width="0.8" />
<rect x="241.00" y="186.66" width="4.30" height="3.54" fill="#b22a3a" stroke="none" stroke-width="0.8" />
<rect x="247.30" y="186.66" width="4.20" height="3.54" fill="#48288a" stroke="none" stroke-width="0.8" />
<rect x="241.00" y="190.15" width="4.30" height="3.54" fill="#48288a" stroke="none" stroke-width="0.8" />
<rect x="247.30" y="190.15" width="4.20" height="3.54" fill="#b22a3a" stroke="none" stroke-width="0.8" />
<rect x="241.00" y="193.63" width="4.30" height="3.54" fill="#48288a" stroke="none" stroke-width="0.8" />
<rect x="247.30" y="193.63" width="4.20" height="3.54" fill="#b22a3a" stroke="none" stroke-width="0.8" />
<rect x="241.00" y="197.12" width="4.30" height="3.54" fill="#48288a" stroke="none" stroke-width="0.8" />
<rect x="247.30" y="197.12" width="4.20" height="3.54" fill="#b22a3a" stroke="none" stroke-width="0.8" />
<rect x="241.00" y="200.61" width="4.30" height="3.54" fill="#48288a" stroke="none" stroke-width="0.8" />
<rect x="247.30" y="200.61" width="4.20" height="3.54" fill="#b22a3a" stroke="none" stroke-width="0.8" />
<rect x="241.00" y="204.09" width="4.30" height="3.54" fill="#48288a" stroke="none" stroke-width="0.8" />
<rect x="247.30" y="204.09" width="4.20" height="3.54" fill="#b22a3a" stroke="none" stroke-width="0.8" />
<rect x="241.00" y="207.58" width="4.30" height="3.54" fill="#48288a" stroke="none" stroke-width="0.8" />
<rect x="247.30" y="207.58" width="4.20" height="3.54" fill="#b22a3a" stroke="none" stroke-width="0.8" />
<rect x="241.00" y="211.07" width="4.30" height="3.54" fill="#48288a" stroke="none" stroke-width="0.8" />
<rect x="247.30" y="211.07" width="4.20" height="3.54" fill="#b22a3a" stroke="none" stroke-width="0.8" />
<rect x="241.00" y="214.55" width="4.30" height="3.54" fill="#48288a" stroke="none" stroke-width="0.8" />
<rect x="247.30" y="214.55" width="4.20" height="3.54" fill="#b22a3a" stroke="none" stroke-width="0.8" />
<rect x="241.00" y="218.04" width="4.30" height="3.54" fill="#48288a" stroke="none" stroke-width="0.8" />
<rect x="247.30" y="218.04" width="4.20" height="3.54" fill="#b22a3a" stroke="none" stroke-width="0.8" />
<rect x="241.00" y="221.53" width="4.30" height="3.54" fill="#48288a" stroke="none" stroke-width="0.8" />
<rect x="247.30" y="221.53" width="4.20" height="3.54" fill="#b22a3a" stroke="none" stroke-width="0.8" />
<rect x="241.00" y="225.01" width="4.30" height="3.54" fill="#b22a3a" stroke="none" stroke-width="0.8" />
<rect x="247.30" y="225.01" width="4.20" height="3.54" fill="#48288a" stroke="none" stroke-width="0.8" />
<rect x="241.00" y="228.50" width="4.30" height="3.54" fill="#48288a" stroke="none" stroke-width="0.8" />
<rect x="247.30" y="228.50" width="4.20" height="3.54" fill="#b22a3a" stroke="none" stroke-width="0.8" />
<rect x="241.00" y="231.99" width="4.30" height="3.54" fill="#48288a" stroke="none" stroke-width="0.8" />
<rect x="247.30" y="231.99" width="4.20" height="3.54" fill="#b22a3a" stroke="none" stroke-width="0.8" />
<rect x="241.00" y="235.47" width="4.30" height="3.54" fill="#48288a" stroke="none" stroke-width="0.8" />
<rect x="247.30" y="235.47" width="4.20" height="3.54" fill="#b22a3a" stroke="none" stroke-width="0.8" />
<rect x="241.00" y="238.96" width="4.30" height="3.54" fill="#48288a" stroke="none" stroke-width="0.8" />
<rect x="247.30" y="238.96" width="4.20" height="3.54" fill="#5a3a5a" stroke="none" stroke-width="0.8" />
<rect x="241.00" y="242.45" width="4.30" height="3.54" fill="#48288a" stroke="none" stroke-width="0.8" />
<rect x="247.30" y="242.45" width="4.20" height="3.54" fill="#6e4c2e" stroke="none" stroke-width="0.8" />
<rect x="241.00" y="245.93" width="4.30" height="3.54" fill="#6e4c2e" stroke="none" stroke-width="0.8" />
<rect x="247.30" y="245.93" width="4.20" height="3.54" fill="#6e4c2e" stroke="none" stroke-width="0.8" />
<rect x="241.00" y="249.42" width="4.30" height="3.54" fill="#48288a" stroke="none" stroke-width="0.8" />
<rect x="247.30" y="249.42" width="4.20" height="3.54" fill="#5a3a5a" stroke="none" stroke-width="0.8" />
<rect x="241.00" y="252.91" width="4.30" height="3.54" fill="#48288a" stroke="none" stroke-width="0.8" />
<rect x="247.30" y="252.91" width="4.20" height="3.54" fill="#6e4c2e" stroke="none" stroke-width="0.8" />
<rect x="241.00" y="256.39" width="4.30" height="3.54" fill="#48288a" stroke="none" stroke-width="0.8" />
<rect x="247.30" y="256.39" width="4.20" height="3.54" fill="#6e4c2e" stroke="none" stroke-width="0.8" />
<rect x="241.00" y="259.88" width="4.30" height="3.54" fill="#48288a" stroke="none" stroke-width="0.8" />
<rect x="247.30" y="259.88" width="4.20" height="3.54" fill="#5a3a5a" stroke="none" stroke-width="0.8" />
<rect x="241.00" y="263.37" width="4.30" height="3.54" fill="#48288a" stroke="none" stroke-width="0.8" />
<rect x="247.30" y="263.37" width="4.20" height="3.54" fill="#6e4c2e" stroke="none" stroke-width="0.8" />
<rect x="241.00" y="266.85" width="4.30" height="3.54" fill="#6e4c2e" stroke="none" stroke-width="0.8" />
<rect x="247.30" y="266.85" width="4.20" height="3.54" fill="#6e4c2e" stroke="none" stroke-width="0.8" />
<rect x="241.00" y="270.34" width="4.30" height="3.54" fill="#6e4c2e" stroke="none" stroke-width="0.8" />
<rect x="247.30" y="270.34" width="4.20" height="3.54" fill="#5a3a5a" stroke="none" stroke-width="0.8" />
<rect x="241.00" y="273.83" width="4.30" height="3.54" fill="#48288a" stroke="none" stroke-width="0.8" />
<rect x="247.30" y="273.83" width="4.20" height="3.54" fill="#6e4c2e" stroke="none" stroke-width="0.8" />
<rect x="241.00" y="277.31" width="4.30" height="3.54" fill="#48288a" stroke="none" stroke-width="0.8" />
<rect x="247.30" y="277.31" width="4.20" height="3.54" fill="#6e4c2e" stroke="none" stroke-width="0.8" />
<line x1="241.00" y1="176.20" x2="245.30" y2="176.20" stroke="#26143a" stroke-width="0.45" opacity="0.7"/>
<line x1="247.30" y1="176.20" x2="251.50" y2="176.20" stroke="#26143a" stroke-width="0.45" opacity="0.7"/>
<line x1="241.00" y1="179.69" x2="245.30" y2="179.69" stroke="#26143a" stroke-width="0.45" opacity="0.7"/>
<line x1="247.30" y1="179.69" x2="251.50" y2="179.69" stroke="#26143a" stroke-width="0.45" opacity="0.7"/>
<line x1="241.00" y1="183.17" x2="245.30" y2="183.17" stroke="#26143a" stroke-width="0.45" opacity="0.7"/>
<line x1="247.30" y1="183.17" x2="251.50" y2="183.17" stroke="#26143a" stroke-width="0.45" opacity="0.7"/>
<line x1="241.00" y1="186.66" x2="245.30" y2="186.66" stroke="#26143a" stroke-width="0.45" opacity="0.7"/>
<line x1="247.30" y1="186.66" x2="251.50" y2="186.66" stroke="#26143a" stroke-width="0.45" opacity="0.7"/>
<line x1="241.00" y1="190.15" x2="245.30" y2="190.15" stroke="#26143a" stroke-width="0.45" opacity="0.7"/>
<line x1="247.30" y1="190.15" x2="251.50" y2="190.15" stroke="#26143a" stroke-width="0.45" opacity="0.7"/>
<line x1="241.00" y1="193.63" x2="245.30" y2="193.63" stroke="#26143a" stroke-width="0.45" opacity="0.7"/>
<line x1="247.30" y1="193.63" x2="251.50" y2="193.63" stroke="#26143a" stroke-width="0.45" opacity="0.7"/>
<line x1="241.00" y1="197.12" x2="245.30" y2="197.12" stroke="#26143a" stroke-width="0.45" opacity="0.7"/>
<line x1="247.30" y1="197.12" x2="251.50" y2="197.12" stroke="#26143a" stroke-width="0.45" opacity="0.7"/>
<line x1="241.00" y1="200.61" x2="245.30" y2="200.61" stroke="#26143a" stroke-width="0.45" opacity="0.7"/>
<line x1="247.30" y1="200.61" x2="251.50" y2="200.61" stroke="#26143a" stroke-width="0.45" opacity="0.7"/>
<line x1="241.00" y1="204.09" x2="245.30" y2="204.09" stroke="#26143a" stroke-width="0.45" opacity="0.7"/>
<line x1="247.30" y1="204.09" x2="251.50" y2="204.09" stroke="#26143a" stroke-width="0.45" opacity="0.7"/>
<line x1="241.00" y1="207.58" x2="245.30" y2="207.58" stroke="#26143a" stroke-width="0.45" opacity="0.7"/>
<line x1="247.30" y1="207.58" x2="251.50" y2="207.58" stroke="#26143a" stroke-width="0.45" opacity="0.7"/>
<line x1="241.00" y1="211.07" x2="245.30" y2="211.07" stroke="#26143a" stroke-width="0.45" opacity="0.7"/>
<line x1="247.30" y1="211.07" x2="251.50" y2="211.07" stroke="#26143a" stroke-width="0.45" opacity="0.7"/>
<line x1="241.00" y1="214.55" x2="245.30" y2="214.55" stroke="#26143a" stroke-width="0.45" opacity="0.7"/>
<line x1="247.30" y1="214.55" x2="251.50" y2="214.55" stroke="#26143a" stroke-width="0.45" opacity="0.7"/>
<line x1="241.00" y1="218.04" x2="245.30" y2="218.04" stroke="#26143a" stroke-width="0.45" opacity="0.7"/>
<line x1="247.30" y1="218.04" x2="251.50" y2="218.04" stroke="#26143a" stroke-width="0.45" opacity="0.7"/>
<line x1="241.00" y1="221.53" x2="245.30" y2="221.53" stroke="#26143a" stroke-width="0.45" opacity="0.7"/>
<line x1="247.30" y1="221.53" x2="251.50" y2="221.53" stroke="#26143a" stroke-width="0.45" opacity="0.7"/>
<line x1="241.00" y1="225.01" x2="245.30" y2="225.01" stroke="#26143a" stroke-width="0.45" opacity="0.7"/>
<line x1="247.30" y1="225.01" x2="251.50" y2="225.01" stroke="#26143a" stroke-width="0.45" opacity="0.7"/>
<line x1="241.00" y1="228.50" x2="245.30" y2="228.50" stroke="#26143a" stroke-width="0.45" opacity="0.7"/>
<line x1="247.30" y1="228.50" x2="251.50" y2="228.50" stroke="#26143a" stroke-width="0.45" opacity="0.7"/>
<line x1="241.00" y1="231.99" x2="245.30" y2="231.99" stroke="#26143a" stroke-width="0.45" opacity="0.7"/>
<line x1="247.30" y1="231.99" x2="251.50" y2="231.99" stroke="#26143a" stroke-width="0.45" opacity="0.7"/>
<line x1="241.00" y1="235.47" x2="245.30" y2="235.47" stroke="#26143a" stroke-width="0.45" opacity="0.7"/>
<line x1="247.30" y1="235.47" x2="251.50" y2="235.47" stroke="#26143a" stroke-width="0.45" opacity="0.7"/>
<line x1="241.00" y1="238.96" x2="245.30" y2="238.96" stroke="#26143a" stroke-width="0.45" opacity="0.7"/>
<line x1="247.30" y1="238.96" x2="251.50" y2="238.96" stroke="#26143a" stroke-width="0.45" opacity="0.7"/>
<line x1="241.00" y1="242.45" x2="245.30" y2="242.45" stroke="#26143a" stroke-width="0.45" opacity="0.7"/>
<line x1="247.30" y1="242.45" x2="251.50" y2="242.45" stroke="#26143a" stroke-width="0.45" opacity="0.7"/>
<line x1="241.00" y1="245.93" x2="245.30" y2="245.93" stroke="#26143a" stroke-width="0.45" opacity="0.7"/>
<line x1="247.30" y1="245.93" x2="251.50" y2="245.93" stroke="#26143a" stroke-width="0.45" opacity="0.7"/>
<line x1="241.00" y1="249.42" x2="245.30" y2="249.42" stroke="#26143a" stroke-width="0.45" opacity="0.7"/>
<line x1="247.30" y1="249.42" x2="251.50" y2="249.42" stroke="#26143a" stroke-width="0.45" opacity="0.7"/>
<line x1="241.00" y1="252.91" x2="245.30" y2="252.91" stroke="#26143a" stroke-width="0.45" opacity="0.7"/>
<line x1="247.30" y1="252.91" x2="251.50" y2="252.91" stroke="#26143a" stroke-width="0.45" opacity="0.7"/>
<line x1="241.00" y1="256.39" x2="245.30" y2="256.39" stroke="#26143a" stroke-width="0.45" opacity="0.7"/>
<line x1="247.30" y1="256.39" x2="251.50" y2="256.39" stroke="#26143a" stroke-width="0.45" opacity="0.7"/>
<line x1="241.00" y1="259.88" x2="245.30" y2="259.88" stroke="#26143a" stroke-width="0.45" opacity="0.7"/>
<line x1="247.30" y1="259.88" x2="251.50" y2="259.88" stroke="#26143a" stroke-width="0.45" opacity="0.7"/>
<line x1="241.00" y1="263.37" x2="245.30" y2="263.37" stroke="#26143a" stroke-width="0.45" opacity="0.7"/>
<line x1="247.30" y1="263.37" x2="251.50" y2="263.37" stroke="#26143a" stroke-width="0.45" opacity="0.7"/>
<line x1="241.00" y1="266.85" x2="245.30" y2="266.85" stroke="#26143a" stroke-width="0.45" opacity="0.7"/>
<line x1="247.30" y1="266.85" x2="251.50" y2="266.85" stroke="#26143a" stroke-width="0.45" opacity="0.7"/>
<line x1="241.00" y1="270.34" x2="245.30" y2="270.34" stroke="#26143a" stroke-width="0.45" opacity="0.7"/>
<line x1="247.30" y1="270.34" x2="251.50" y2="270.34" stroke="#26143a" stroke-width="0.45" opacity="0.7"/>
<line x1="241.00" y1="273.83" x2="245.30" y2="273.83" stroke="#26143a" stroke-width="0.45" opacity="0.7"/>
<line x1="247.30" y1="273.83" x2="251.50" y2="273.83" stroke="#26143a" stroke-width="0.45" opacity="0.7"/>
<line x1="241.00" y1="277.31" x2="245.30" y2="277.31" stroke="#26143a" stroke-width="0.45" opacity="0.7"/>
<line x1="247.30" y1="277.31" x2="251.50" y2="277.31" stroke="#26143a" stroke-width="0.45" opacity="0.7"/>
<line x1="241.00" y1="280.80" x2="245.30" y2="280.80" stroke="#26143a" stroke-width="0.45" opacity="0.7"/>
<line x1="247.30" y1="280.80" x2="251.50" y2="280.80" stroke="#26143a" stroke-width="0.45" opacity="0.7"/>
<text transform="translate(245.20,289.00) rotate(-90)" font-size="6.8" text-anchor="middle" fill="#1e1e1e" stroke="#1e1e1e" stroke-width="0.18" textLength="11.0" lengthAdjust="spacingAndGlyphs">WT</text>
<text transform="translate(251.60,294.00) rotate(-90)" font-size="6.8" text-anchor="middle" fill="#1e1e1e" stroke="#1e1e1e" stroke-width="0.18" textLength="21.0" lengthAdjust="spacingAndGlyphs">Tumor</text>
<text x="254.80" y="206.60" font-size="6.6" text-anchor="start" fill="#1e1e1e" stroke="#1e1e1e" stroke-width="0.18" textLength="14.9" lengthAdjust="spacingAndGlyphs" >High</text>
<rect x="256.10" y="208.80" width="2.80" height="39.00" fill="url(#hl)" stroke="none" stroke-width="0.8" />
<text x="255.00" y="254.00" font-size="6.6" text-anchor="start" fill="#1e1e1e" stroke="#1e1e1e" stroke-width="0.18" textLength="13.0" lengthAdjust="spacingAndGlyphs" >Low</text>
<text x="271.40" y="180.10" font-size="11" text-anchor="start" fill="#1a1a1a" stroke="#1a1a1a" stroke-width="0.18" >E</text>
<text x="378.60" y="184.90" font-size="7.4" text-anchor="middle" fill="#1e1e1e" stroke="#1e1e1e" stroke-width="0.18" textLength="41.6" lengthAdjust="spacingAndGlyphs" >Taurine level</text>
<text x="335.60" y="190.80" font-size="5.9" text-anchor="middle" fill="#1e1e1e" stroke="#1e1e1e" stroke-width="0.12" textLength="37.7" lengthAdjust="spacingAndGlyphs" >Original Conc.</text>
<text x="417.50" y="191.20" font-size="5.9" text-anchor="middle" fill="#1e1e1e" stroke="#1e1e1e" stroke-width="0.12" textLength="47.9" lengthAdjust="spacingAndGlyphs" >Normalized Conc.</text>
<text x="299.00" y="198.90" font-size="5.6" text-anchor="end" fill="#444" stroke="#444" stroke-width="0.12" >3*10<tspan font-size="3.47" dy="-2.13">8</tspan></text>
<text x="299.00" y="223.80" font-size="5.6" text-anchor="end" fill="#444" stroke="#444" stroke-width="0.12" >2*10<tspan font-size="3.47" dy="-2.13">8</tspan></text>
<text x="299.00" y="248.30" font-size="5.6" text-anchor="end" fill="#444" stroke="#444" stroke-width="0.12" >1*10<tspan font-size="3.47" dy="-2.13">8</tspan></text>
<text x="299.00" y="273.90" font-size="5.6" text-anchor="end" fill="#444" stroke="#444" stroke-width="0.12" >1</text>
<text x="371.60" y="202.30" font-size="6.4" text-anchor="end" fill="#333" stroke="#333" stroke-width="0.18" >2</text>
<text x="371.60" y="218.00" font-size="6.4" text-anchor="end" fill="#333" stroke="#333" stroke-width="0.18" >1</text>
<text x="371.60" y="233.90" font-size="6.4" text-anchor="end" fill="#333" stroke="#333" stroke-width="0.18" >0</text>
<text x="371.60" y="248.40" font-size="6.4" text-anchor="end" fill="#333" stroke="#333" stroke-width="0.18" >-1</text>
<text x="371.60" y="264.80" font-size="6.4" text-anchor="end" fill="#333" stroke="#333" stroke-width="0.18" >-2</text>
<rect x="303.80" y="240.20" width="30.80" height="23.20" fill="#fde6f8" stroke="none" stroke-width="0.8" />
<rect x="303.80" y="247.80" width="32.00" height="8.10" fill="#fbd2f2" stroke="none" stroke-width="0.8" />
<rect x="336.00" y="240.00" width="16.00" height="15.50" fill="#c6f6f0" stroke="none" stroke-width="0.8" />
<rect x="373.70" y="239.50" width="42.30" height="8.20" fill="#fde6f8" stroke="none" stroke-width="0.8" />
<rect x="384.10" y="256.70" width="16.50" height="7.00" fill="#f8ccf0" stroke="none" stroke-width="0.8" />
<clipPath id="cwl"><path d="M317.21,239.80 C317.48,239.80 317.40,241.22 318.00,242.00 C318.60,242.78 319.55,243.60 320.80,244.50 C322.05,245.40 324.17,246.55 325.50,247.40 C326.83,248.25 328.02,248.93 328.80,249.60 C329.58,250.27 330.13,250.73 330.20,251.40 C330.27,252.07 329.70,252.85 329.20,253.60 C328.70,254.35 327.67,255.08 327.20,255.90 C326.73,256.72 326.57,257.68 326.40,258.50 C326.23,259.32 326.43,260.05 326.20,260.80 C325.97,261.55 325.90,262.30 325.00,263.00 C324.10,263.70 321.93,264.25 320.80,265.00 C319.67,265.75 318.80,266.57 318.20,267.50 C317.60,268.43 317.54,270.60 317.21,270.60 C316.88,270.60 316.80,268.43 316.20,267.50 C315.60,266.57 314.73,265.75 313.60,265.00 C312.47,264.25 310.30,263.70 309.40,263.00 C308.50,262.30 308.43,261.55 308.20,260.80 C307.97,260.05 308.17,259.32 308.00,258.50 C307.83,257.68 307.67,256.72 307.20,255.90 C306.73,255.08 305.70,254.35 305.20,253.60 C304.70,252.85 304.13,252.07 304.20,251.40 C304.27,250.73 304.82,250.27 305.60,249.60 C306.38,248.93 307.57,248.25 308.90,247.40 C310.23,246.55 312.35,245.40 313.60,244.50 C314.85,243.60 315.80,242.78 316.40,242.00 C317.00,241.22 316.94,239.80 317.21,239.80 Z"/></clipPath>
<path d="M317.21,239.80 C317.48,239.80 317.40,241.22 318.00,242.00 C318.60,242.78 319.55,243.60 320.80,244.50 C322.05,245.40 324.17,246.55 325.50,247.40 C326.83,248.25 328.02,248.93 328.80,249.60 C329.58,250.27 330.13,250.73 330.20,251.40 C330.27,252.07 329.70,252.85 329.20,253.60 C328.70,254.35 327.67,255.08 327.20,255.90 C326.73,256.72 326.57,257.68 326.40,258.50 C326.23,259.32 326.43,260.05 326.20,260.80 C325.97,261.55 325.90,262.30 325.00,263.00 C324.10,263.70 321.93,264.25 320.80,265.00 C319.67,265.75 318.80,266.57 318.20,267.50 C317.60,268.43 317.54,270.60 317.21,270.60 C316.88,270.60 316.80,268.43 316.20,267.50 C315.60,266.57 314.73,265.75 313.60,265.00 C312.47,264.25 310.30,263.70 309.40,263.00 C308.50,262.30 308.43,261.55 308.20,260.80 C307.97,260.05 308.17,259.32 308.00,258.50 C307.83,257.68 307.67,256.72 307.20,255.90 C306.73,255.08 305.70,254.35 305.20,253.60 C304.70,252.85 304.13,252.07 304.20,251.40 C304.27,250.73 304.82,250.27 305.60,249.60 C306.38,248.93 307.57,248.25 308.90,247.40 C310.23,246.55 312.35,245.40 313.60,244.50 C314.85,243.60 315.80,242.78 316.40,242.00 C317.00,241.22 316.94,239.80 317.21,239.80 Z" fill="#8c5e4a" stroke="none" stroke-width="0.8" />
<g clip-path="url(#cwl)">
<rect x="300.00" y="247.80" width="20.50" height="8.40" fill="#dc3a4a" stroke="none" stroke-width="0.8" />
<rect x="320.50" y="247.80" width="12.00" height="8.40" fill="#b84a46" stroke="none" stroke-width="0.8" />
<rect x="300.00" y="256.20" width="34.00" height="7.60" fill="#c04848" stroke="none" stroke-width="0.8" />
</g>
<clipPath id="ctl"><path d="M345.71,196.70 C345.88,196.70 346.00,198.70 346.20,200.00 C346.40,201.30 346.55,203.00 346.90,204.50 C347.25,206.00 347.88,207.17 348.30,209.00 C348.72,210.83 349.33,213.50 349.40,215.50 C349.47,217.50 348.93,219.30 348.70,221.00 C348.47,222.70 347.87,224.20 348.00,225.70 C348.13,227.20 348.92,228.62 349.50,230.00 C350.08,231.38 351.03,232.75 351.50,234.00 C351.97,235.25 352.30,236.33 352.30,237.50 C352.30,238.67 351.97,239.75 351.50,241.00 C351.03,242.25 350.13,243.50 349.50,245.00 C348.87,246.50 348.17,248.33 347.70,250.00 C347.23,251.67 347.03,252.90 346.70,255.00 C346.37,257.10 346.04,262.60 345.71,262.60 C345.38,262.60 345.03,257.10 344.70,255.00 C344.37,252.90 344.17,251.67 343.70,250.00 C343.23,248.33 342.53,246.50 341.90,245.00 C341.27,243.50 340.37,242.25 339.90,241.00 C339.43,239.75 339.10,238.67 339.10,237.50 C339.10,236.33 339.43,235.25 339.90,234.00 C340.37,232.75 341.32,231.38 341.90,230.00 C342.48,228.62 343.27,227.20 343.40,225.70 C343.53,224.20 342.93,222.70 342.70,221.00 C342.47,219.30 341.93,217.50 342.00,215.50 C342.07,213.50 342.68,210.83 343.10,209.00 C343.52,207.17 344.15,206.00 344.50,204.50 C344.85,203.00 345.00,201.30 345.20,200.00 C345.40,198.70 345.54,196.70 345.71,196.70 Z"/></clipPath>
<path d="M345.71,196.70 C345.88,196.70 346.00,198.70 346.20,200.00 C346.40,201.30 346.55,203.00 346.90,204.50 C347.25,206.00 347.88,207.17 348.30,209.00 C348.72,210.83 349.33,213.50 349.40,215.50 C349.47,217.50 348.93,219.30 348.70,221.00 C348.47,222.70 347.87,224.20 348.00,225.70 C348.13,227.20 348.92,228.62 349.50,230.00 C350.08,231.38 351.03,232.75 351.50,234.00 C351.97,235.25 352.30,236.33 352.30,237.50 C352.30,238.67 351.97,239.75 351.50,241.00 C351.03,242.25 350.13,243.50 349.50,245.00 C348.87,246.50 348.17,248.33 347.70,250.00 C347.23,251.67 347.03,252.90 346.70,255.00 C346.37,257.10 346.04,262.60 345.71,262.60 C345.38,262.60 345.03,257.10 344.70,255.00 C344.37,252.90 344.17,251.67 343.70,250.00 C343.23,248.33 342.53,246.50 341.90,245.00 C341.27,243.50 340.37,242.25 339.90,241.00 C339.43,239.75 339.10,238.67 339.10,237.50 C339.10,236.33 339.43,235.25 339.90,234.00 C340.37,232.75 341.32,231.38 341.90,230.00 C342.48,228.62 343.27,227.20 343.40,225.70 C343.53,224.20 342.93,222.70 342.70,221.00 C342.47,219.30 341.93,217.50 342.00,215.50 C342.07,213.50 342.68,210.83 343.10,209.00 C343.52,207.17 344.15,206.00 344.50,204.50 C344.85,203.00 345.00,201.30 345.20,200.00 C345.40,198.70 345.54,196.70 345.71,196.70 Z" fill="#6a5a48" stroke="none" stroke-width="0.8" />
<g clip-path="url(#ctl)">
<rect x="330.00" y="190.00" width="30.00" height="54.00" fill="#1f9a3c" stroke="none" stroke-width="0.8" />
<rect x="330.00" y="244.00" width="30.00" height="7.00" fill="#4e6a40" stroke="none" stroke-width="0.8" />
</g>
<clipPath id="cwr"><path d="M392.41,219.10 C392.74,219.10 393.07,221.10 393.40,222.00 C393.73,222.90 394.03,223.72 394.40,224.50 C394.77,225.28 394.85,225.78 395.60,226.70 C396.35,227.62 397.68,228.78 398.90,230.00 C400.12,231.22 401.80,232.73 402.90,234.00 C404.00,235.27 405.22,236.60 405.50,237.60 C405.78,238.60 405.15,239.18 404.60,240.00 C404.05,240.82 402.80,241.67 402.20,242.50 C401.60,243.33 401.27,243.75 401.00,245.00 C400.73,246.25 400.70,248.17 400.60,250.00 C400.50,251.83 400.73,254.58 400.40,256.00 C400.07,257.42 399.33,257.67 398.60,258.50 C397.87,259.33 396.87,260.03 396.00,261.00 C395.13,261.97 394.00,262.80 393.40,264.30 C392.80,265.80 392.74,270.00 392.41,270.00 C392.08,270.00 392.00,265.80 391.40,264.30 C390.80,262.80 389.67,261.97 388.80,261.00 C387.93,260.03 386.93,259.33 386.20,258.50 C385.47,257.67 384.73,257.42 384.40,256.00 C384.07,254.58 384.30,251.83 384.20,250.00 C384.10,248.17 384.07,246.25 383.80,245.00 C383.53,243.75 383.20,243.33 382.60,242.50 C382.00,241.67 380.75,240.82 380.20,240.00 C379.65,239.18 379.02,238.60 379.30,237.60 C379.58,236.60 380.80,235.27 381.90,234.00 C383.00,232.73 384.68,231.22 385.90,230.00 C387.12,228.78 388.45,227.62 389.20,226.70 C389.95,225.78 390.03,225.28 390.40,224.50 C390.77,223.72 391.06,222.90 391.40,222.00 C391.73,221.10 392.08,219.10 392.41,219.10 Z"/></clipPath>
<path d="M392.41,219.10 C392.74,219.10 393.07,221.10 393.40,222.00 C393.73,222.90 394.03,223.72 394.40,224.50 C394.77,225.28 394.85,225.78 395.60,226.70 C396.35,227.62 397.68,228.78 398.90,230.00 C400.12,231.22 401.80,232.73 402.90,234.00 C404.00,235.27 405.22,236.60 405.50,237.60 C405.78,238.60 405.15,239.18 404.60,240.00 C404.05,240.82 402.80,241.67 402.20,242.50 C401.60,243.33 401.27,243.75 401.00,245.00 C400.73,246.25 400.70,248.17 400.60,250.00 C400.50,251.83 400.73,254.58 400.40,256.00 C400.07,257.42 399.33,257.67 398.60,258.50 C397.87,259.33 396.87,260.03 396.00,261.00 C395.13,261.97 394.00,262.80 393.40,264.30 C392.80,265.80 392.74,270.00 392.41,270.00 C392.08,270.00 392.00,265.80 391.40,264.30 C390.80,262.80 389.67,261.97 388.80,261.00 C387.93,260.03 386.93,259.33 386.20,258.50 C385.47,257.67 384.73,257.42 384.40,256.00 C384.07,254.58 384.30,251.83 384.20,250.00 C384.10,248.17 384.07,246.25 383.80,245.00 C383.53,243.75 383.20,243.33 382.60,242.50 C382.00,241.67 380.75,240.82 380.20,240.00 C379.65,239.18 379.02,238.60 379.30,237.60 C379.58,236.60 380.80,235.27 381.90,234.00 C383.00,232.73 384.68,231.22 385.90,230.00 C387.12,228.78 388.45,227.62 389.20,226.70 C389.95,225.78 390.03,225.28 390.40,224.50 C390.77,223.72 391.06,222.90 391.40,222.00 C391.73,221.10 392.08,219.10 392.41,219.10 Z" fill="#e2384a" stroke="none" stroke-width="0.8" />
<g clip-path="url(#cwr)">
<rect x="376.00" y="238.50" width="6.80" height="8.00" fill="#8a5a44" stroke="none" stroke-width="0.8" />
<rect x="401.30" y="238.50" width="6.00" height="8.00" fill="#8a5a44" stroke="none" stroke-width="0.8" />
<rect x="376.00" y="256.40" width="32.00" height="16.00" fill="#905446" stroke="none" stroke-width="0.8" />
</g>
<path d="M424.01,196.60 C424.34,196.60 424.38,197.85 425.00,199.00 C425.62,200.15 426.78,202.25 427.70,203.50 C428.62,204.75 429.78,205.55 430.50,206.50 C431.22,207.45 431.65,208.28 432.00,209.20 C432.35,210.12 432.45,211.05 432.60,212.00 C432.75,212.95 432.57,213.90 432.90,214.90 C433.23,215.90 433.82,216.98 434.60,218.00 C435.38,219.02 436.97,220.08 437.60,221.00 C438.23,221.92 438.40,222.67 438.40,223.50 C438.40,224.33 438.25,225.08 437.60,226.00 C436.95,226.92 435.87,227.78 434.50,229.00 C433.13,230.22 430.73,232.05 429.40,233.30 C428.07,234.55 427.40,235.17 426.50,236.50 C425.60,237.83 424.84,241.30 424.01,241.30 C423.18,241.30 422.40,237.83 421.50,236.50 C420.60,235.17 419.93,234.55 418.60,233.30 C417.27,232.05 414.87,230.22 413.50,229.00 C412.13,227.78 411.05,226.92 410.40,226.00 C409.75,225.08 409.60,224.33 409.60,223.50 C409.60,222.67 409.77,221.92 410.40,221.00 C411.03,220.08 412.62,219.02 413.40,218.00 C414.18,216.98 414.77,215.90 415.10,214.90 C415.43,213.90 415.25,212.95 415.40,212.00 C415.55,211.05 415.65,210.12 416.00,209.20 C416.35,208.28 416.78,207.45 417.50,206.50 C418.22,205.55 419.38,204.75 420.30,203.50 C421.22,202.25 422.38,200.15 423.00,199.00 C423.62,197.85 423.68,196.60 424.01,196.60 Z" fill="#1f9a3c" stroke="none" stroke-width="0.8" />
<circle cx="311.30" cy="252.70" r="0.85" fill="#141414" stroke="none" stroke-width="0.5" />
<circle cx="318.00" cy="249.70" r="0.85" fill="#141414" stroke="none" stroke-width="0.5" />
<circle cx="319.40" cy="258.80" r="0.85" fill="#141414" stroke="none" stroke-width="0.5" />
<circle cx="347.30" cy="216.40" r="0.85" fill="#141414" stroke="none" stroke-width="0.5" />
<circle cx="345.70" cy="235.90" r="0.85" fill="#141414" stroke="none" stroke-width="0.5" />
<circle cx="348.60" cy="243.20" r="0.85" fill="#141414" stroke="none" stroke-width="0.5" />
<circle cx="390.50" cy="232.80" r="0.85" fill="#141414" stroke="none" stroke-width="0.5" />
<circle cx="387.00" cy="240.10" r="0.85" fill="#141414" stroke="none" stroke-width="0.5" />
<circle cx="383.20" cy="256.70" r="0.85" fill="#141414" stroke="none" stroke-width="0.5" />
<circle cx="415.10" cy="208.40" r="0.85" fill="#141414" stroke="none" stroke-width="0.5" />
<circle cx="425.90" cy="223.20" r="0.85" fill="#141414" stroke="none" stroke-width="0.5" />
<circle cx="430.80" cy="227.00" r="0.85" fill="#141414" stroke="none" stroke-width="0.5" />
<circle cx="316.70" cy="254.40" r="1.00" fill="#ffd070" stroke="none" stroke-width="0.5" />
<circle cx="346.10" cy="231.10" r="1.00" fill="#f0f080" stroke="none" stroke-width="0.5" />
<circle cx="392.40" cy="243.90" r="1.00" fill="#ffd8b0" stroke="none" stroke-width="0.5" />
<circle cx="423.30" cy="219.90" r="1.00" fill="#c0f080" stroke="none" stroke-width="0.5" />
<rect x="300.20" y="192.90" width="63.10" height="81.20" fill="none" stroke="#6a6a6a" stroke-width="0.7" />
<rect x="373.20" y="192.80" width="69.60" height="81.50" fill="none" stroke="#6a6a6a" stroke-width="0.7" />
<text x="315.00" y="280.80" font-size="6.6" text-anchor="middle" fill="#333" stroke="#333" stroke-width="0.18" >WT</text>
<text x="344.20" y="280.80" font-size="6.6" text-anchor="middle" fill="#333" stroke="#333" stroke-width="0.18" >Tumor</text>
<text x="391.20" y="280.80" font-size="6.6" text-anchor="middle" fill="#333" stroke="#333" stroke-width="0.18" >WT</text>
<text x="426.30" y="280.80" font-size="6.6" text-anchor="middle" fill="#333" stroke="#333" stroke-width="0.18" >Tumor</text>
<text x="370.00" y="293.00" font-size="7.6" text-anchor="middle" fill="#1e1e1e" stroke="#1e1e1e" stroke-width="0.18" >Class</text>
<text x="447.60" y="179.60" font-size="11" text-anchor="start" fill="#1a1a1a" stroke="#1a1a1a" stroke-width="0.18" >F</text>
<text x="505.40" y="185.50" font-size="7.5" text-anchor="middle" fill="#1e1e1e" stroke="#1e1e1e" stroke-width="0.18" textLength="82.0" lengthAdjust="spacingAndGlyphs" >Taurine level by targeted</text>
<text x="506.00" y="194.00" font-size="7.5" text-anchor="middle" fill="#1e1e1e" stroke="#1e1e1e" stroke-width="0.18" textLength="78.0" lengthAdjust="spacingAndGlyphs" >metabolic determination</text>
<line x1="486.50" y1="202.60" x2="486.50" y2="276.60" stroke="#222" stroke-width="0.8" />
<line x1="485.50" y1="276.60" x2="536.20" y2="276.60" stroke="#222" stroke-width="0.8" />
<line x1="501.20" y1="276.60" x2="501.20" y2="278.20" stroke="#222" stroke-width="0.7" />
<line x1="522.30" y1="276.60" x2="522.30" y2="278.20" stroke="#222" stroke-width="0.7" />
<line x1="483.60" y1="276.30" x2="486.50" y2="276.30" stroke="#222" stroke-width="0.8" />
<text x="483.20" y="279.10" font-size="7.8" text-anchor="end" fill="#1e1e1e" stroke="#1e1e1e" stroke-width="0.18" >0.0</text>
<line x1="483.60" y1="258.00" x2="486.50" y2="258.00" stroke="#222" stroke-width="0.8" />
<text x="483.20" y="260.80" font-size="7.8" text-anchor="end" fill="#1e1e1e" stroke="#1e1e1e" stroke-width="0.18" >0.5</text>
<line x1="483.60" y1="239.70" x2="486.50" y2="239.70" stroke="#222" stroke-width="0.8" />
<text x="483.20" y="242.50" font-size="7.8" text-anchor="end" fill="#1e1e1e" stroke="#1e1e1e" stroke-width="0.18" >1.0</text>
<line x1="483.60" y1="221.40" x2="486.50" y2="221.40" stroke="#222" stroke-width="0.8" />
<text x="483.20" y="224.20" font-size="7.8" text-anchor="end" fill="#1e1e1e" stroke="#1e1e1e" stroke-width="0.18" >1.5</text>
<line x1="483.60" y1="203.10" x2="486.50" y2="203.10" stroke="#222" stroke-width="0.8" />
<text x="483.20" y="205.90" font-size="7.8" text-anchor="end" fill="#1e1e1e" stroke="#1e1e1e" stroke-width="0.18" >2.0</text>
<rect x="494.60" y="239.70" width="13.20" height="36.90" fill="#fff" stroke="#222" stroke-width="0.8" />
<rect x="515.70" y="225.30" width="13.30" height="51.30" fill="#fff" stroke="#5060a8" stroke-width="0.8" />
<path d="M501.2,235.8 L501.2,242.8 M499,235.8 L503.4,235.8 M499,242.8 L503.4,242.8" fill="none" stroke="#222" stroke-width="0.8" />
<path d="M522.3,217.3 L522.3,232.8 M519.8,217.3 L524.8,217.3 M519.8,232.8 L524.8,232.8" fill="none" stroke="#3a4a9a" stroke-width="0.8" />
<circle cx="498.30" cy="236.80" r="1.10" fill="#1a1a1a" stroke="none" stroke-width="0.5" />
<circle cx="502.50" cy="237.00" r="1.10" fill="#1a1a1a" stroke="none" stroke-width="0.5" />
<circle cx="497.60" cy="240.00" r="1.10" fill="#1a1a1a" stroke="none" stroke-width="0.5" />
<circle cx="505.00" cy="238.50" r="1.10" fill="#1a1a1a" stroke="none" stroke-width="0.5" />
<circle cx="499.00" cy="245.60" r="1.10" fill="#1a1a1a" stroke="none" stroke-width="0.5" />
<circle cx="502.30" cy="241.20" r="1.10" fill="#1a1a1a" stroke="none" stroke-width="0.5" />
<circle cx="504.30" cy="240.80" r="1.10" fill="#1a1a1a" stroke="none" stroke-width="0.5" />
<circle cx="521.60" cy="213.80" r="1.10" fill="#3a4aa8" stroke="none" stroke-width="0.5" />
<circle cx="519.20" cy="221.80" r="1.10" fill="#3a4aa8" stroke="none" stroke-width="0.5" />
<circle cx="524.60" cy="221.00" r="1.10" fill="#3a4aa8" stroke="none" stroke-width="0.5" />
<circle cx="522.00" cy="227.00" r="1.10" fill="#3a4aa8" stroke="none" stroke-width="0.5" />
<circle cx="526.00" cy="231.80" r="1.10" fill="#3a4aa8" stroke="none" stroke-width="0.5" />
<circle cx="520.60" cy="234.20" r="1.10" fill="#3a4aa8" stroke="none" stroke-width="0.5" />
<circle cx="522.60" cy="234.90" r="1.10" fill="#3a4aa8" stroke="none" stroke-width="0.5" />
<path d="M500.8,208.4 L500.8,205.2 L521.6,205.2 L521.6,208.4" fill="none" stroke="#222" stroke-width="0.8" />
<text x="511.20" y="205.60" font-size="7.4" text-anchor="middle" fill="#1e1e1e" stroke="#1e1e1e" stroke-width="0.18" >***</text>
<text x="501.20" y="284.60" font-size="7.4" text-anchor="middle" fill="#1e1e1e" stroke="#1e1e1e" stroke-width="0.18" >WT</text>
<text x="523.70" y="284.60" font-size="7.4" text-anchor="middle" fill="#1e1e1e" stroke="#1e1e1e" stroke-width="0.18" >Tumor</text>
<text transform="translate(470.80,238.50) rotate(-90)" font-size="7.2" text-anchor="middle" fill="#1e1e1e" stroke="#1e1e1e" stroke-width="0.18" textLength="65.8" lengthAdjust="spacingAndGlyphs">Taurine relative level</text>
<text x="11.00" y="313.60" font-size="11" text-anchor="start" fill="#1a1a1a" stroke="#1a1a1a" stroke-width="0.18" >G</text>
<text x="72.80" y="325.30" font-size="7.4" text-anchor="middle" fill="#1e1e1e" stroke="#1e1e1e" stroke-width="0.18" textLength="40.0" lengthAdjust="spacingAndGlyphs" >HPA016488</text>
<g id="ihc">
<rect x="12.20" y="327.40" width="56.30" height="55.20" fill="#ece7e6" stroke="none" stroke-width="0.8" />
<rect x="12.20" y="386.20" width="56.30" height="54.30" fill="#ebe5e3" stroke="none" stroke-width="0.8" />
<clipPath id="core1"><path d="M41,332 C53,332 62,340 62.3,352 C62.6,364 54,374 41,374 C30,374 22,368 20.5,360 C19,350 24,334 41,332 Z"/></clipPath>
<g clip-path="url(#core1)">
<rect x="18.00" y="330.00" width="46.00" height="46.00" fill="#bcb0c0" stroke="none" stroke-width="0.8" />
<ellipse cx="29.5" cy="354.9" rx="1.0" ry="0.8" fill="#9a8aa0" transform="rotate(105 29.5 354.9)"/>
<ellipse cx="45.6" cy="371.0" rx="1.2" ry="0.7" fill="#8e7e92" transform="rotate(179 45.6 371.0)"/>
<ellipse cx="39.7" cy="367.8" rx="1.2" ry="0.8" fill="#8e7e92" transform="rotate(42 39.7 367.8)"/>
<ellipse cx="25.7" cy="371.7" rx="1.1" ry="0.4" fill="#d8d0dc" transform="rotate(29 25.7 371.7)"/>
<ellipse cx="61.1" cy="332.9" rx="1.5" ry="0.9" fill="#cabece" transform="rotate(85 61.1 332.9)"/>
<ellipse cx="50.6" cy="369.7" rx="1.5" ry="1.0" fill="#7a6a80" transform="rotate(131 50.6 369.7)"/>
<ellipse cx="44.4" cy="373.4" rx="0.8" ry="0.6" fill="#d8d0dc" transform="rotate(24 44.4 373.4)"/>
<ellipse cx="28.5" cy="373.5" rx="1.1" ry="0.8" fill="#cabece" transform="rotate(76 28.5 373.5)"/>
<ellipse cx="55.7" cy="356.3" rx="1.2" ry="0.6" fill="#8e7e92" transform="rotate(163 55.7 356.3)"/>
<ellipse cx="49.0" cy="371.9" rx="1.6" ry="1.0" fill="#9a8aa0" transform="rotate(125 49.0 371.9)"/>
<ellipse cx="49.7" cy="345.4" rx="1.3" ry="0.7" fill="#d8d0dc" transform="rotate(128 49.7 345.4)"/>
<ellipse cx="28.3" cy="367.6" rx="1.3" ry="0.6" fill="#d8d0dc" transform="rotate(87 28.3 367.6)"/>
<ellipse cx="47.1" cy="352.3" rx="1.0" ry="0.4" fill="#8e7e92" transform="rotate(4 47.1 352.3)"/>
<ellipse cx="37.8" cy="349.3" rx="0.7" ry="0.8" fill="#d8d0dc" transform="rotate(68 37.8 349.3)"/>
<ellipse cx="44.8" cy="355.2" rx="1.7" ry="0.6" fill="#8e7e92" transform="rotate(180 44.8 355.2)"/>
<ellipse cx="32.6" cy="334.4" rx="1.3" ry="0.4" fill="#8e7e92" transform="rotate(175 32.6 334.4)"/>
<ellipse cx="31.8" cy="342.6" rx="1.4" ry="1.0" fill="#cabece" transform="rotate(56 31.8 342.6)"/>
<ellipse cx="61.2" cy="370.5" rx="1.1" ry="0.7" fill="#e8e2ea" transform="rotate(70 61.2 370.5)"/>
<ellipse cx="57.1" cy="361.0" rx="0.7" ry="1.0" fill="#e8e2ea" transform="rotate(49 57.1 361.0)"/>
<ellipse cx="46.9" cy="362.5" rx="1.7" ry="0.7" fill="#cabece" transform="rotate(94 46.9 362.5)"/>
<ellipse cx="43.1" cy="331.5" rx="1.1" ry="0.7" fill="#d8d0dc" transform="rotate(68 43.1 331.5)"/>
<ellipse cx="44.9" cy="336.9" rx="1.4" ry="0.6" fill="#cabece" transform="rotate(122 44.9 336.9)"/>
<ellipse cx="34.5" cy="362.1" rx="1.5" ry="0.4" fill="#d8d0dc" transform="rotate(172 34.5 362.1)"/>
<ellipse cx="19.9" cy="347.2" rx="1.4" ry="0.6" fill="#e8e2ea" transform="rotate(58 19.9 347.2)"/>
<ellipse cx="35.0" cy="344.8" rx="1.0" ry="0.8" fill="#cabece" transform="rotate(142 35.0 344.8)"/>
<ellipse cx="23.6" cy="366.8" rx="1.8" ry="0.8" fill="#8e7e92" transform="rotate(56 23.6 366.8)"/>
<ellipse cx="28.8" cy="366.4" rx="0.9" ry="0.5" fill="#7a6a80" transform="rotate(117 28.8 366.4)"/>
<ellipse cx="23.3" cy="357.4" rx="1.7" ry="0.8" fill="#8e7e92" transform="rotate(79 23.3 357.4)"/>
<ellipse cx="56.6" cy="338.4" rx="1.0" ry="0.8" fill="#e8e2ea" transform="rotate(81 56.6 338.4)"/>
<ellipse cx="28.9" cy="336.3" rx="1.2" ry="0.5" fill="#e8e2ea" transform="rotate(33 28.9 336.3)"/>
<ellipse cx="31.3" cy="366.5" rx="1.4" ry="0.9" fill="#cabece" transform="rotate(106 31.3 366.5)"/>
<ellipse cx="37.5" cy="353.8" rx="1.6" ry="0.7" fill="#9a8aa0" transform="rotate(75 37.5 353.8)"/>
<ellipse cx="37.5" cy="349.0" rx="1.7" ry="0.5" fill="#d8d0dc" transform="rotate(86 37.5 349.0)"/>
<ellipse cx="55.6" cy="358.4" rx="1.2" ry="0.7" fill="#9a8aa0" transform="rotate(40 55.6 358.4)"/>
<ellipse cx="51.8" cy="367.8" rx="1.4" ry="0.7" fill="#cabece" transform="rotate(98 51.8 367.8)"/>
<ellipse cx="58.1" cy="368.9" rx="1.6" ry="1.0" fill="#d8d0dc" transform="rotate(146 58.1 368.9)"/>
<ellipse cx="21.0" cy="370.8" rx="1.4" ry="1.0" fill="#7a6a80" transform="rotate(104 21.0 370.8)"/>
<ellipse cx="19.6" cy="363.8" rx="0.8" ry="0.6" fill="#9a8aa0" transform="rotate(4 19.6 363.8)"/>
<ellipse cx="42.6" cy="333.3" rx="1.7" ry="0.5" fill="#8e7e92" transform="rotate(45 42.6 333.3)"/>
<ellipse cx="56.9" cy="352.0" rx="1.5" ry="0.6" fill="#8e7e92" transform="rotate(22 56.9 352.0)"/>
<ellipse cx="58.1" cy="336.2" rx="0.9" ry="0.6" fill="#8e7e92" transform="rotate(148 58.1 336.2)"/>
<ellipse cx="19.3" cy="358.7" rx="1.6" ry="0.4" fill="#cabece" transform="rotate(45 19.3 358.7)"/>
<ellipse cx="46.2" cy="353.9" rx="0.7" ry="0.6" fill="#d8d0dc" transform="rotate(154 46.2 353.9)"/>
<ellipse cx="53.1" cy="333.0" rx="0.7" ry="0.7" fill="#d8d0dc" transform="rotate(154 53.1 333.0)"/>
<ellipse cx="22.8" cy="353.1" rx="1.0" ry="0.6" fill="#cabece" transform="rotate(69 22.8 353.1)"/>
<ellipse cx="36.1" cy="344.4" rx="0.9" ry="1.0" fill="#7a6a80" transform="rotate(22 36.1 344.4)"/>
<ellipse cx="43.4" cy="362.5" rx="1.1" ry="0.4" fill="#8e7e92" transform="rotate(8 43.4 362.5)"/>
<ellipse cx="39.3" cy="359.6" rx="1.2" ry="0.8" fill="#d8d0dc" transform="rotate(112 39.3 359.6)"/>
<ellipse cx="38.0" cy="347.4" rx="1.2" ry="0.8" fill="#7a6a80" transform="rotate(171 38.0 347.4)"/>
<ellipse cx="37.4" cy="331.8" rx="0.9" ry="0.6" fill="#e8e2ea" transform="rotate(13 37.4 331.8)"/>
<ellipse cx="37.7" cy="349.7" rx="1.7" ry="1.0" fill="#cabece" transform="rotate(174 37.7 349.7)"/>
<ellipse cx="43.6" cy="369.3" rx="0.7" ry="0.8" fill="#9a8aa0" transform="rotate(119 43.6 369.3)"/>
<ellipse cx="58.0" cy="365.9" rx="1.4" ry="0.8" fill="#e8e2ea" transform="rotate(96 58.0 365.9)"/>
<ellipse cx="54.7" cy="362.5" rx="1.2" ry="0.5" fill="#7a6a80" transform="rotate(8 54.7 362.5)"/>
<ellipse cx="23.0" cy="335.4" rx="1.7" ry="0.5" fill="#d8d0dc" transform="rotate(61 23.0 335.4)"/>
<ellipse cx="56.5" cy="332.1" rx="0.7" ry="0.7" fill="#9a8aa0" transform="rotate(171 56.5 332.1)"/>
<ellipse cx="44.5" cy="366.1" rx="0.6" ry="0.9" fill="#e8e2ea" transform="rotate(95 44.5 366.1)"/>
<ellipse cx="29.5" cy="355.4" rx="0.7" ry="0.7" fill="#e8e2ea" transform="rotate(58 29.5 355.4)"/>
<ellipse cx="43.8" cy="367.4" rx="0.9" ry="0.5" fill="#8e7e92" transform="rotate(82 43.8 367.4)"/>
<ellipse cx="49.8" cy="372.5" rx="0.9" ry="0.8" fill="#cabece" transform="rotate(100 49.8 372.5)"/>
<ellipse cx="61.5" cy="347.5" rx="0.9" ry="1.0" fill="#9a8aa0" transform="rotate(174 61.5 347.5)"/>
<ellipse cx="37.3" cy="356.0" rx="1.3" ry="1.0" fill="#9a8aa0" transform="rotate(87 37.3 356.0)"/>
<ellipse cx="47.3" cy="370.5" rx="0.8" ry="0.5" fill="#9a8aa0" transform="rotate(87 47.3 370.5)"/>
<ellipse cx="49.7" cy="372.8" rx="1.3" ry="0.9" fill="#8e7e92" transform="rotate(48 49.7 372.8)"/>
<ellipse cx="27.8" cy="356.8" rx="1.0" ry="0.5" fill="#9a8aa0" transform="rotate(97 27.8 356.8)"/>
<ellipse cx="53.3" cy="360.5" rx="1.6" ry="0.8" fill="#e8e2ea" transform="rotate(105 53.3 360.5)"/>
<ellipse cx="30.8" cy="340.6" rx="0.6" ry="0.7" fill="#7a6a80" transform="rotate(36 30.8 340.6)"/>
<ellipse cx="44.1" cy="341.5" rx="1.2" ry="0.9" fill="#7a6a80" transform="rotate(178 44.1 341.5)"/>
<ellipse cx="40.1" cy="357.4" rx="1.2" ry="0.9" fill="#9a8aa0" transform="rotate(100 40.1 357.4)"/>
<ellipse cx="40.2" cy="362.7" rx="1.6" ry="0.6" fill="#9a8aa0" transform="rotate(159 40.2 362.7)"/>
<ellipse cx="21.0" cy="371.1" rx="1.7" ry="0.8" fill="#9a8aa0" transform="rotate(12 21.0 371.1)"/>
<ellipse cx="28.6" cy="342.2" rx="1.7" ry="0.9" fill="#8e7e92" transform="rotate(34 28.6 342.2)"/>
<ellipse cx="50.0" cy="368.8" rx="1.7" ry="0.6" fill="#d8d0dc" transform="rotate(56 50.0 368.8)"/>
<ellipse cx="37.6" cy="363.1" rx="0.7" ry="0.5" fill="#cabece" transform="rotate(7 37.6 363.1)"/>
<ellipse cx="38.9" cy="363.3" rx="1.0" ry="0.4" fill="#cabece" transform="rotate(79 38.9 363.3)"/>
<ellipse cx="40.4" cy="340.2" rx="1.3" ry="1.0" fill="#7a6a80" transform="rotate(23 40.4 340.2)"/>
<ellipse cx="33.0" cy="369.9" rx="0.7" ry="0.7" fill="#7a6a80" transform="rotate(160 33.0 369.9)"/>
<ellipse cx="59.0" cy="335.3" rx="1.7" ry="0.6" fill="#cabece" transform="rotate(136 59.0 335.3)"/>
<ellipse cx="32.0" cy="360.7" rx="1.4" ry="0.9" fill="#cabece" transform="rotate(19 32.0 360.7)"/>
<ellipse cx="60.6" cy="345.9" rx="1.3" ry="0.7" fill="#9a8aa0" transform="rotate(89 60.6 345.9)"/>
<ellipse cx="34.5" cy="362.6" rx="1.4" ry="0.7" fill="#8e7e92" transform="rotate(116 34.5 362.6)"/>
<ellipse cx="51.1" cy="337.6" rx="1.0" ry="1.0" fill="#7a6a80" transform="rotate(22 51.1 337.6)"/>
<ellipse cx="60.0" cy="337.2" rx="1.0" ry="0.8" fill="#e8e2ea" transform="rotate(76 60.0 337.2)"/>
<ellipse cx="32.2" cy="339.2" rx="1.2" ry="0.9" fill="#9a8aa0" transform="rotate(12 32.2 339.2)"/>
<ellipse cx="50.5" cy="364.2" rx="1.3" ry="0.8" fill="#cabece" transform="rotate(18 50.5 364.2)"/>
<ellipse cx="30.9" cy="333.4" rx="0.8" ry="0.7" fill="#cabece" transform="rotate(44 30.9 333.4)"/>
<ellipse cx="52.8" cy="346.6" rx="1.0" ry="0.6" fill="#e8e2ea" transform="rotate(146 52.8 346.6)"/>
<ellipse cx="22.0" cy="352.9" rx="1.8" ry="0.5" fill="#e8e2ea" transform="rotate(18 22.0 352.9)"/>
<ellipse cx="24.0" cy="365.3" rx="1.5" ry="0.5" fill="#8e7e92" transform="rotate(102 24.0 365.3)"/>
<ellipse cx="48.5" cy="348.2" rx="1.8" ry="0.5" fill="#e8e2ea" transform="rotate(26 48.5 348.2)"/>
<ellipse cx="36.5" cy="339.5" rx="1.2" ry="0.7" fill="#8e7e92" transform="rotate(156 36.5 339.5)"/>
<ellipse cx="35.3" cy="343.9" rx="1.6" ry="0.7" fill="#7a6a80" transform="rotate(171 35.3 343.9)"/>
<ellipse cx="35.9" cy="355.3" rx="1.3" ry="0.8" fill="#e8e2ea" transform="rotate(124 35.9 355.3)"/>
<ellipse cx="32.2" cy="368.8" rx="1.2" ry="0.8" fill="#9a8aa0" transform="rotate(114 32.2 368.8)"/>
<ellipse cx="23.7" cy="364.3" rx="0.9" ry="0.5" fill="#9a8aa0" transform="rotate(83 23.7 364.3)"/>
<ellipse cx="27.5" cy="354.3" rx="0.6" ry="0.7" fill="#9a8aa0" transform="rotate(170 27.5 354.3)"/>
<ellipse cx="23.9" cy="343.5" rx="1.4" ry="0.5" fill="#7a6a80" transform="rotate(143 23.9 343.5)"/>
<ellipse cx="46.4" cy="333.2" rx="1.0" ry="0.5" fill="#d8d0dc" transform="rotate(90 46.4 333.2)"/>
<ellipse cx="19.8" cy="345.9" rx="1.0" ry="0.6" fill="#9a8aa0" transform="rotate(24 19.8 345.9)"/>
<ellipse cx="56.8" cy="357.4" rx="1.7" ry="0.8" fill="#9a8aa0" transform="rotate(179 56.8 357.4)"/>
<ellipse cx="62.9" cy="340.0" rx="0.7" ry="0.5" fill="#9a8aa0" transform="rotate(136 62.9 340.0)"/>
<ellipse cx="40.3" cy="335.8" rx="0.7" ry="0.4" fill="#8e7e92" transform="rotate(127 40.3 335.8)"/>
<ellipse cx="36.2" cy="351.8" rx="0.7" ry="0.9" fill="#8e7e92" transform="rotate(117 36.2 351.8)"/>
<ellipse cx="32.4" cy="351.4" rx="1.5" ry="0.6" fill="#8e7e92" transform="rotate(82 32.4 351.4)"/>
<ellipse cx="20.6" cy="342.3" rx="1.6" ry="0.7" fill="#cabece" transform="rotate(107 20.6 342.3)"/>
<ellipse cx="28.8" cy="331.1" rx="0.9" ry="0.9" fill="#8e7e92" transform="rotate(154 28.8 331.1)"/>
<ellipse cx="42.5" cy="338.0" rx="0.6" ry="0.8" fill="#e8e2ea" transform="rotate(30 42.5 338.0)"/>
<ellipse cx="20.2" cy="335.8" rx="0.8" ry="0.7" fill="#d8d0dc" transform="rotate(151 20.2 335.8)"/>
<ellipse cx="36.7" cy="345.0" rx="0.6" ry="0.8" fill="#8e7e92" transform="rotate(73 36.7 345.0)"/>
<ellipse cx="36.5" cy="332.2" rx="1.8" ry="0.5" fill="#d8d0dc" transform="rotate(70 36.5 332.2)"/>
<ellipse cx="27.4" cy="345.7" rx="0.7" ry="0.9" fill="#e8e2ea" transform="rotate(9 27.4 345.7)"/>
<ellipse cx="51.0" cy="343.1" rx="1.5" ry="0.7" fill="#cabece" transform="rotate(88 51.0 343.1)"/>
<ellipse cx="43.7" cy="332.3" rx="1.0" ry="1.0" fill="#cabece" transform="rotate(17 43.7 332.3)"/>
<ellipse cx="49.0" cy="373.6" rx="1.3" ry="0.4" fill="#d8d0dc" transform="rotate(123 49.0 373.6)"/>
<ellipse cx="19.8" cy="353.1" rx="1.2" ry="0.5" fill="#e8e2ea" transform="rotate(162 19.8 353.1)"/>
<ellipse cx="27.8" cy="373.8" rx="1.2" ry="0.9" fill="#cabece" transform="rotate(169 27.8 373.8)"/>
<ellipse cx="20.5" cy="344.4" rx="1.3" ry="1.0" fill="#d8d0dc" transform="rotate(171 20.5 344.4)"/>
<ellipse cx="27.1" cy="349.2" rx="1.2" ry="0.7" fill="#e8e2ea" transform="rotate(122 27.1 349.2)"/>
<ellipse cx="59.9" cy="338.7" rx="1.5" ry="0.8" fill="#e8e2ea" transform="rotate(65 59.9 338.7)"/>
<ellipse cx="27.1" cy="366.3" rx="1.1" ry="0.7" fill="#9a8aa0" transform="rotate(87 27.1 366.3)"/>
<ellipse cx="30.9" cy="338.5" rx="1.5" ry="0.8" fill="#9a8aa0" transform="rotate(125 30.9 338.5)"/>
<ellipse cx="60.8" cy="332.9" rx="0.8" ry="0.9" fill="#7a6a80" transform="rotate(17 60.8 332.9)"/>
<ellipse cx="49.4" cy="360.1" rx="1.0" ry="0.8" fill="#9a8aa0" transform="rotate(10 49.4 360.1)"/>
<ellipse cx="45.9" cy="333.1" rx="1.2" ry="0.9" fill="#9a8aa0" transform="rotate(60 45.9 333.1)"/>
<ellipse cx="35.3" cy="334.2" rx="1.1" ry="1.0" fill="#d8d0dc" transform="rotate(61 35.3 334.2)"/>
<ellipse cx="32.7" cy="350.8" rx="1.6" ry="0.5" fill="#9a8aa0" transform="rotate(9 32.7 350.8)"/>
<ellipse cx="25.7" cy="359.4" rx="1.3" ry="0.4" fill="#8e7e92" transform="rotate(52 25.7 359.4)"/>
<ellipse cx="28.2" cy="368.4" rx="1.2" ry="0.7" fill="#e8e2ea" transform="rotate(57 28.2 368.4)"/>
<ellipse cx="57.8" cy="365.4" rx="1.2" ry="0.8" fill="#d8d0dc" transform="rotate(149 57.8 365.4)"/>
<ellipse cx="24.0" cy="332.1" rx="1.8" ry="0.5" fill="#cabece" transform="rotate(15 24.0 332.1)"/>
<ellipse cx="39.5" cy="340.8" rx="1.6" ry="0.8" fill="#9a8aa0" transform="rotate(87 39.5 340.8)"/>
<ellipse cx="48.4" cy="361.8" rx="1.1" ry="0.8" fill="#d8d0dc" transform="rotate(53 48.4 361.8)"/>
<ellipse cx="60.6" cy="350.5" rx="1.1" ry="0.5" fill="#d8d0dc" transform="rotate(84 60.6 350.5)"/>
<ellipse cx="51.0" cy="334.4" rx="1.0" ry="0.7" fill="#d8d0dc" transform="rotate(166 51.0 334.4)"/>
<ellipse cx="49.2" cy="347.0" rx="1.5" ry="0.4" fill="#e8e2ea" transform="rotate(39 49.2 347.0)"/>
<ellipse cx="34.4" cy="374.8" rx="1.0" ry="0.7" fill="#d8d0dc" transform="rotate(45 34.4 374.8)"/>
<ellipse cx="33.2" cy="364.0" rx="0.8" ry="0.5" fill="#9a8aa0" transform="rotate(110 33.2 364.0)"/>
<ellipse cx="60.0" cy="354.6" rx="1.1" ry="1.0" fill="#e8e2ea" transform="rotate(171 60.0 354.6)"/>
<ellipse cx="40.3" cy="365.0" rx="1.1" ry="1.0" fill="#d8d0dc" transform="rotate(53 40.3 365.0)"/>
<ellipse cx="60.1" cy="339.1" rx="0.7" ry="0.8" fill="#cabece" transform="rotate(91 60.1 339.1)"/>
<ellipse cx="21.7" cy="351.8" rx="0.8" ry="0.5" fill="#7a6a80" transform="rotate(78 21.7 351.8)"/>
<ellipse cx="34.2" cy="363.7" rx="1.5" ry="0.6" fill="#d8d0dc" transform="rotate(80 34.2 363.7)"/>
<ellipse cx="59.0" cy="350.5" rx="0.8" ry="0.7" fill="#9a8aa0" transform="rotate(51 59.0 350.5)"/>
<ellipse cx="35.5" cy="366.5" rx="1.4" ry="1.0" fill="#7a6a80" transform="rotate(56 35.5 366.5)"/>
<ellipse cx="39.4" cy="354.1" rx="1.3" ry="0.6" fill="#cabece" transform="rotate(51 39.4 354.1)"/>
<ellipse cx="39.4" cy="370.0" rx="1.6" ry="0.6" fill="#8e7e92" transform="rotate(167 39.4 370.0)"/>
<ellipse cx="41.9" cy="331.6" rx="1.4" ry="0.5" fill="#d8d0dc" transform="rotate(30 41.9 331.6)"/>
<ellipse cx="21.2" cy="340.0" rx="1.5" ry="0.7" fill="#cabece" transform="rotate(176 21.2 340.0)"/>
<ellipse cx="20.5" cy="339.1" rx="0.6" ry="0.7" fill="#cabece" transform="rotate(150 20.5 339.1)"/>
<ellipse cx="45.6" cy="366.7" rx="1.1" ry="0.6" fill="#9a8aa0" transform="rotate(144 45.6 366.7)"/>
<ellipse cx="37.4" cy="342.5" rx="0.7" ry="0.7" fill="#9a8aa0" transform="rotate(179 37.4 342.5)"/>
<ellipse cx="26.3" cy="364.5" rx="1.3" ry="1.0" fill="#9a8aa0" transform="rotate(136 26.3 364.5)"/>
<ellipse cx="53.7" cy="353.4" rx="1.6" ry="0.7" fill="#cabece" transform="rotate(3 53.7 353.4)"/>
<ellipse cx="21.0" cy="352.4" rx="0.7" ry="0.9" fill="#7a6a80" transform="rotate(84 21.0 352.4)"/>
<ellipse cx="48.3" cy="371.9" rx="1.6" ry="0.8" fill="#7a6a80" transform="rotate(67 48.3 371.9)"/>
<ellipse cx="46.8" cy="343.9" rx="0.7" ry="0.5" fill="#e8e2ea" transform="rotate(18 46.8 343.9)"/>
<ellipse cx="53.1" cy="350.5" rx="0.9" ry="0.6" fill="#cabece" transform="rotate(173 53.1 350.5)"/>
<ellipse cx="25.8" cy="344.9" rx="1.2" ry="0.6" fill="#8e7e92" transform="rotate(149 25.8 344.9)"/>
<ellipse cx="60.0" cy="357.9" rx="0.6" ry="0.7" fill="#e8e2ea" transform="rotate(21 60.0 357.9)"/>
<ellipse cx="24.5" cy="365.6" rx="1.5" ry="0.6" fill="#7a6a80" transform="rotate(120 24.5 365.6)"/>
<ellipse cx="35.3" cy="353.7" rx="1.7" ry="1.0" fill="#9a8aa0" transform="rotate(81 35.3 353.7)"/>
<ellipse cx="32.7" cy="346.2" rx="1.4" ry="1.0" fill="#7a6a80" transform="rotate(57 32.7 346.2)"/>
<ellipse cx="30.9" cy="372.8" rx="1.7" ry="0.6" fill="#7a6a80" transform="rotate(100 30.9 372.8)"/>
<ellipse cx="20.6" cy="349.4" rx="1.1" ry="0.9" fill="#7a6a80" transform="rotate(41 20.6 349.4)"/>
<ellipse cx="27.8" cy="334.5" rx="1.2" ry="0.8" fill="#d8d0dc" transform="rotate(114 27.8 334.5)"/>
<ellipse cx="55.0" cy="331.2" rx="0.9" ry="1.0" fill="#d8d0dc" transform="rotate(78 55.0 331.2)"/>
<ellipse cx="62.3" cy="351.3" rx="0.9" ry="0.7" fill="#8e7e92" transform="rotate(42 62.3 351.3)"/>
<ellipse cx="61.1" cy="337.3" rx="1.7" ry="0.5" fill="#7a6a80" transform="rotate(121 61.1 337.3)"/>
<ellipse cx="47.5" cy="337.3" rx="0.7" ry="0.9" fill="#8e7e92" transform="rotate(56 47.5 337.3)"/>
<ellipse cx="47.5" cy="336.8" rx="0.8" ry="0.7" fill="#8e7e92" transform="rotate(96 47.5 336.8)"/>
<ellipse cx="35.8" cy="335.7" rx="1.1" ry="1.0" fill="#cabece" transform="rotate(19 35.8 335.7)"/>
<ellipse cx="24.1" cy="344.0" rx="1.1" ry="1.0" fill="#e8e2ea" transform="rotate(14 24.1 344.0)"/>
<ellipse cx="27.4" cy="372.3" rx="1.8" ry="1.0" fill="#8e7e92" transform="rotate(12 27.4 372.3)"/>
<ellipse cx="43.0" cy="370.4" rx="0.7" ry="0.9" fill="#7a6a80" transform="rotate(4 43.0 370.4)"/>
<ellipse cx="34.2" cy="363.9" rx="1.5" ry="0.7" fill="#7a6a80" transform="rotate(97 34.2 363.9)"/>
<ellipse cx="32.4" cy="337.6" rx="1.1" ry="0.6" fill="#e8e2ea" transform="rotate(53 32.4 337.6)"/>
<ellipse cx="52.0" cy="363.9" rx="1.0" ry="0.9" fill="#8e7e92" transform="rotate(57 52.0 363.9)"/>
<ellipse cx="56.0" cy="336.7" rx="1.3" ry="0.4" fill="#e8e2ea" transform="rotate(157 56.0 336.7)"/>
<ellipse cx="24.0" cy="331.6" rx="1.6" ry="0.9" fill="#e8e2ea" transform="rotate(123 24.0 331.6)"/>
<ellipse cx="42.1" cy="364.7" rx="0.7" ry="0.7" fill="#7a6a80" transform="rotate(59 42.1 364.7)"/>
<ellipse cx="45.0" cy="340.6" rx="1.1" ry="0.7" fill="#9a8aa0" transform="rotate(57 45.0 340.6)"/>
<ellipse cx="34.8" cy="357.4" rx="1.8" ry="1.0" fill="#9a8aa0" transform="rotate(150 34.8 357.4)"/>
<ellipse cx="31.6" cy="374.0" rx="0.9" ry="0.5" fill="#e8e2ea" transform="rotate(40 31.6 374.0)"/>
<ellipse cx="62.8" cy="363.1" rx="0.9" ry="0.7" fill="#cabece" transform="rotate(82 62.8 363.1)"/>
<ellipse cx="40.0" cy="354.4" rx="1.6" ry="1.0" fill="#e8e2ea" transform="rotate(94 40.0 354.4)"/>
<ellipse cx="62.8" cy="333.3" rx="1.1" ry="0.7" fill="#e8e2ea" transform="rotate(140 62.8 333.3)"/>
<ellipse cx="21.6" cy="368.6" rx="1.1" ry="1.0" fill="#cabece" transform="rotate(93 21.6 368.6)"/>
<ellipse cx="21.4" cy="352.7" rx="0.7" ry="0.8" fill="#7a6a80" transform="rotate(128 21.4 352.7)"/>
<ellipse cx="34.9" cy="344.2" rx="1.2" ry="0.6" fill="#cabece" transform="rotate(163 34.9 344.2)"/>
<ellipse cx="49.2" cy="335.6" rx="1.2" ry="0.6" fill="#d8d0dc" transform="rotate(67 49.2 335.6)"/>
<ellipse cx="46.0" cy="337.1" rx="0.7" ry="0.6" fill="#cabece" transform="rotate(35 46.0 337.1)"/>
<ellipse cx="20.2" cy="363.3" rx="1.0" ry="0.7" fill="#cabece" transform="rotate(149 20.2 363.3)"/>
<ellipse cx="55.9" cy="371.2" rx="1.1" ry="0.8" fill="#d8d0dc" transform="rotate(92 55.9 371.2)"/>
<ellipse cx="59.8" cy="340.9" rx="0.8" ry="0.6" fill="#e8e2ea" transform="rotate(34 59.8 340.9)"/>
<ellipse cx="55.2" cy="357.3" rx="0.7" ry="0.4" fill="#cabece" transform="rotate(69 55.2 357.3)"/>
<ellipse cx="40.6" cy="374.4" rx="1.2" ry="0.5" fill="#8e7e92" transform="rotate(92 40.6 374.4)"/>
<ellipse cx="38.0" cy="358.7" rx="1.4" ry="0.7" fill="#d8d0dc" transform="rotate(115 38.0 358.7)"/>
<ellipse cx="51.8" cy="369.6" rx="0.7" ry="0.9" fill="#9a8aa0" transform="rotate(179 51.8 369.6)"/>
<ellipse cx="21.9" cy="331.4" rx="1.2" ry="0.7" fill="#d8d0dc" transform="rotate(149 21.9 331.4)"/>
<ellipse cx="33.6" cy="349.4" rx="1.3" ry="0.9" fill="#8e7e92" transform="rotate(117 33.6 349.4)"/>
<ellipse cx="61.2" cy="333.3" rx="1.2" ry="0.9" fill="#e8e2ea" transform="rotate(94 61.2 333.3)"/>
<ellipse cx="44.3" cy="334.8" rx="0.9" ry="0.7" fill="#e8e2ea" transform="rotate(71 44.3 334.8)"/>
<ellipse cx="34.1" cy="351.1" rx="1.8" ry="0.5" fill="#e8e2ea" transform="rotate(54 34.1 351.1)"/>
<ellipse cx="58.6" cy="336.8" rx="1.2" ry="0.8" fill="#cabece" transform="rotate(57 58.6 336.8)"/>
<ellipse cx="56.8" cy="356.7" rx="1.5" ry="0.7" fill="#7a6a80" transform="rotate(11 56.8 356.7)"/>
<ellipse cx="38.0" cy="344.7" rx="0.8" ry="0.9" fill="#8e7e92" transform="rotate(33 38.0 344.7)"/>
<ellipse cx="23.6" cy="351.1" rx="1.7" ry="0.7" fill="#8e7e92" transform="rotate(57 23.6 351.1)"/>
<ellipse cx="52.2" cy="345.4" rx="0.9" ry="0.9" fill="#9a8aa0" transform="rotate(150 52.2 345.4)"/>
<ellipse cx="21.5" cy="348.7" rx="1.1" ry="0.5" fill="#cabece" transform="rotate(62 21.5 348.7)"/>
<ellipse cx="21.3" cy="373.5" rx="1.5" ry="0.5" fill="#cabece" transform="rotate(80 21.3 373.5)"/>
<ellipse cx="43.9" cy="341.8" rx="1.4" ry="0.5" fill="#9a8aa0" transform="rotate(66 43.9 341.8)"/>
<ellipse cx="29.2" cy="361.1" rx="1.2" ry="0.8" fill="#7a6a80" transform="rotate(108 29.2 361.1)"/>
<ellipse cx="46.6" cy="350.5" rx="0.7" ry="0.9" fill="#7a6a80" transform="rotate(88 46.6 350.5)"/>
<ellipse cx="44.5" cy="342.8" rx="1.7" ry="0.8" fill="#8e7e92" transform="rotate(70 44.5 342.8)"/>
<ellipse cx="41.0" cy="352.4" rx="1.1" ry="0.8" fill="#8e7e92" transform="rotate(21 41.0 352.4)"/>
<ellipse cx="37.4" cy="369.0" rx="0.8" ry="0.6" fill="#cabece" transform="rotate(95 37.4 369.0)"/>
<ellipse cx="56.4" cy="352.0" rx="1.2" ry="0.9" fill="#7a6a80" transform="rotate(67 56.4 352.0)"/>
<ellipse cx="20.8" cy="346.3" rx="1.4" ry="0.8" fill="#9a8aa0" transform="rotate(137 20.8 346.3)"/>
<ellipse cx="43.3" cy="344.3" rx="1.7" ry="0.9" fill="#e8e2ea" transform="rotate(58 43.3 344.3)"/>
<ellipse cx="37.0" cy="371.6" rx="1.4" ry="1.0" fill="#7a6a80" transform="rotate(122 37.0 371.6)"/>
<ellipse cx="51.3" cy="346.4" rx="1.2" ry="0.7" fill="#8e7e92" transform="rotate(53 51.3 346.4)"/>
<ellipse cx="27.3" cy="367.7" rx="1.5" ry="0.6" fill="#8e7e92" transform="rotate(58 27.3 367.7)"/>
<ellipse cx="50.9" cy="338.6" rx="1.1" ry="0.5" fill="#7a6a80" transform="rotate(100 50.9 338.6)"/>
<ellipse cx="35.1" cy="362.8" rx="1.3" ry="0.8" fill="#8e7e92" transform="rotate(91 35.1 362.8)"/>
<ellipse cx="26.4" cy="335.4" rx="1.2" ry="1.0" fill="#e8e2ea" transform="rotate(93 26.4 335.4)"/>
<ellipse cx="36.5" cy="333.9" rx="0.9" ry="0.6" fill="#cabece" transform="rotate(21 36.5 333.9)"/>
<ellipse cx="60.7" cy="352.0" rx="1.1" ry="0.6" fill="#9a8aa0" transform="rotate(33 60.7 352.0)"/>
<ellipse cx="44.1" cy="353.5" rx="0.8" ry="0.5" fill="#cabece" transform="rotate(142 44.1 353.5)"/>
<ellipse cx="51.3" cy="370.7" rx="0.7" ry="0.8" fill="#d8d0dc" transform="rotate(41 51.3 370.7)"/>
<ellipse cx="39.1" cy="373.9" rx="1.0" ry="0.9" fill="#8e7e92" transform="rotate(8 39.1 373.9)"/>
<ellipse cx="40.6" cy="374.8" rx="0.8" ry="0.9" fill="#7a6a80" transform="rotate(134 40.6 374.8)"/>
<ellipse cx="41.2" cy="361.2" rx="1.1" ry="0.9" fill="#cabece" transform="rotate(53 41.2 361.2)"/>
<ellipse cx="31.0" cy="370.6" rx="0.8" ry="0.4" fill="#7a6a80" transform="rotate(115 31.0 370.6)"/>
<ellipse cx="28.3" cy="364.4" rx="1.2" ry="1.0" fill="#9a8aa0" transform="rotate(131 28.3 364.4)"/>
<ellipse cx="35.4" cy="332.9" rx="1.3" ry="0.8" fill="#cabece" transform="rotate(36 35.4 332.9)"/>
<ellipse cx="26.0" cy="374.1" rx="1.5" ry="0.7" fill="#9a8aa0" transform="rotate(52 26.0 374.1)"/>
<ellipse cx="24.1" cy="345.8" rx="1.6" ry="0.8" fill="#cabece" transform="rotate(25 24.1 345.8)"/>
<ellipse cx="46.5" cy="369.9" rx="0.8" ry="0.4" fill="#d8d0dc" transform="rotate(113 46.5 369.9)"/>
<ellipse cx="41.8" cy="362.2" rx="1.3" ry="0.8" fill="#7a6a80" transform="rotate(47 41.8 362.2)"/>
<ellipse cx="49.8" cy="331.1" rx="0.9" ry="0.8" fill="#8e7e92" transform="rotate(1 49.8 331.1)"/>
<ellipse cx="33.8" cy="363.0" rx="1.6" ry="0.6" fill="#d8d0dc" transform="rotate(144 33.8 363.0)"/>
<ellipse cx="36.1" cy="366.4" rx="1.1" ry="0.8" fill="#cabece" transform="rotate(113 36.1 366.4)"/>
<ellipse cx="38.4" cy="341.4" rx="0.6" ry="0.5" fill="#8e7e92" transform="rotate(75 38.4 341.4)"/>
<ellipse cx="23.2" cy="344.9" rx="1.3" ry="0.7" fill="#e8e2ea" transform="rotate(44 23.2 344.9)"/>
<ellipse cx="23.2" cy="348.9" rx="1.3" ry="0.5" fill="#7a6a80" transform="rotate(102 23.2 348.9)"/>
<ellipse cx="30.7" cy="364.5" rx="1.3" ry="0.8" fill="#9a8aa0" transform="rotate(38 30.7 364.5)"/>
<ellipse cx="44.8" cy="359.0" rx="1.6" ry="0.5" fill="#7a6a80" transform="rotate(90 44.8 359.0)"/>
<ellipse cx="23.4" cy="371.8" rx="1.3" ry="0.8" fill="#7a6a80" transform="rotate(93 23.4 371.8)"/>
<ellipse cx="32.6" cy="354.0" rx="0.9" ry="0.7" fill="#cabece" transform="rotate(22 32.6 354.0)"/>
<ellipse cx="41.0" cy="352.1" rx="0.9" ry="1.0" fill="#7a6a80" transform="rotate(4 41.0 352.1)"/>
<ellipse cx="20.0" cy="358.3" rx="0.7" ry="0.7" fill="#7a6a80" transform="rotate(163 20.0 358.3)"/>
<ellipse cx="21.1" cy="360.7" rx="1.0" ry="0.7" fill="#cabece" transform="rotate(140 21.1 360.7)"/>
<ellipse cx="54.3" cy="344.6" rx="1.3" ry="0.6" fill="#9a8aa0" transform="rotate(8 54.3 344.6)"/>
<ellipse cx="61.4" cy="339.4" rx="0.7" ry="0.8" fill="#e8e2ea" transform="rotate(135 61.4 339.4)"/>
<ellipse cx="50.8" cy="337.1" rx="0.8" ry="1.0" fill="#cabece" transform="rotate(92 50.8 337.1)"/>
<ellipse cx="61.3" cy="331.3" rx="0.7" ry="0.8" fill="#d8d0dc" transform="rotate(76 61.3 331.3)"/>
<ellipse cx="50.3" cy="355.7" rx="1.1" ry="0.7" fill="#e8e2ea" transform="rotate(169 50.3 355.7)"/>
<ellipse cx="33.2" cy="352.2" rx="1.4" ry="0.9" fill="#9a8aa0" transform="rotate(46 33.2 352.2)"/>
<ellipse cx="34.7" cy="359.6" rx="1.5" ry="1.0" fill="#7a6a80" transform="rotate(136 34.7 359.6)"/>
<ellipse cx="50.7" cy="357.4" rx="1.4" ry="1.0" fill="#d8d0dc" transform="rotate(110 50.7 357.4)"/>
<ellipse cx="36" cy="362" rx="4.5" ry="2.2" fill="#f0ecf2" transform="rotate(20 36 362)"/>
<ellipse cx="44" cy="366" rx="3.5" ry="1.8" fill="#f0ecf2" transform="rotate(-30 44 366)"/>
<ellipse cx="30" cy="356" rx="2.5" ry="1.4" fill="#f0ecf2" transform="rotate(60 30 356)"/>
<ellipse cx="50" cy="362" rx="2.8" ry="1.5" fill="#f0ecf2" transform="rotate(10 50 362)"/>
<ellipse cx="40" cy="369" rx="3" ry="1.2" fill="#f0ecf2" transform="rotate(0 40 369)"/>
<ellipse cx="33" cy="347" rx="2" ry="1.2" fill="#f0ecf2" transform="rotate(40 33 347)"/>
<circle cx="48.93" cy="347.36" r="0.67" fill="#8a6e60" stroke="none" stroke-width="0.5" />
<circle cx="54.31" cy="350.88" r="0.90" fill="#9a7e6e" stroke="none" stroke-width="0.5" />
<circle cx="51.52" cy="349.42" r="0.90" fill="#8a6e60" stroke="none" stroke-width="0.5" />
<circle cx="49.92" cy="355.62" r="0.88" fill="#7a6052" stroke="none" stroke-width="0.5" />
<circle cx="50.13" cy="351.84" r="0.70" fill="#8a6e60" stroke="none" stroke-width="0.5" />
<circle cx="53.13" cy="345.40" r="0.89" fill="#8a6e60" stroke="none" stroke-width="0.5" />
<circle cx="51.84" cy="350.21" r="0.93" fill="#7a6052" stroke="none" stroke-width="0.5" />
<circle cx="51.02" cy="350.63" r="0.74" fill="#9a7e6e" stroke="none" stroke-width="0.5" />
<circle cx="47.47" cy="352.28" r="0.71" fill="#8a6e60" stroke="none" stroke-width="0.5" />
<circle cx="48.56" cy="356.58" r="1.16" fill="#7a6052" stroke="none" stroke-width="0.5" />
</g>
<path d="M41,332 C53,332 62,340 62.3,352 C62.6,364 54,374 41,374 C30,374 22,368 20.5,360 C19,350 24,334 41,332 Z" fill="none" stroke="#9a8a9e" stroke-width="0.6"/>
<clipPath id="core2"><circle cx="40.9" cy="413.0" r="21.8"/></clipPath>
<g clip-path="url(#core2)">
<rect x="18.00" y="390.00" width="46.00" height="46.00" fill="#a6928c" stroke="none" stroke-width="0.8" />
<circle cx="23.29" cy="426.93" r="0.53" fill="#7a5e56" stroke="none" stroke-width="0.5" />
<circle cx="58.57" cy="396.37" r="0.62" fill="#5e443c" stroke="none" stroke-width="0.5" />
<circle cx="43.17" cy="396.66" r="0.54" fill="#b0a09a" stroke="none" stroke-width="0.5" />
<circle cx="25.94" cy="421.38" r="0.63" fill="#a8948e" stroke="none" stroke-width="0.5" />
<circle cx="32.89" cy="410.49" r="0.77" fill="#5e443c" stroke="none" stroke-width="0.5" />
<circle cx="43.19" cy="416.99" r="0.50" fill="#7a5e56" stroke="none" stroke-width="0.5" />
<circle cx="35.96" cy="433.94" r="0.48" fill="#6a4e46" stroke="none" stroke-width="0.5" />
<circle cx="28.10" cy="408.14" r="0.73" fill="#5e443c" stroke="none" stroke-width="0.5" />
<circle cx="29.09" cy="430.65" r="0.50" fill="#5e443c" stroke="none" stroke-width="0.5" />
<circle cx="53.05" cy="427.66" r="0.44" fill="#8e7670" stroke="none" stroke-width="0.5" />
<circle cx="36.53" cy="413.33" r="0.48" fill="#b0a09a" stroke="none" stroke-width="0.5" />
<circle cx="60.09" cy="424.14" r="0.72" fill="#6a4e46" stroke="none" stroke-width="0.5" />
<circle cx="53.81" cy="406.13" r="0.48" fill="#5e443c" stroke="none" stroke-width="0.5" />
<circle cx="61.61" cy="430.83" r="0.76" fill="#7a5e56" stroke="none" stroke-width="0.5" />
<circle cx="53.38" cy="410.99" r="0.46" fill="#7a5e56" stroke="none" stroke-width="0.5" />
<circle cx="58.80" cy="402.68" r="0.48" fill="#7a5e56" stroke="none" stroke-width="0.5" />
<circle cx="27.82" cy="431.59" r="0.49" fill="#8e7670" stroke="none" stroke-width="0.5" />
<circle cx="22.90" cy="409.56" r="0.70" fill="#8e7670" stroke="none" stroke-width="0.5" />
<circle cx="34.18" cy="419.79" r="0.62" fill="#5e443c" stroke="none" stroke-width="0.5" />
<circle cx="51.88" cy="417.75" r="0.40" fill="#b0a09a" stroke="none" stroke-width="0.5" />
<circle cx="57.34" cy="406.13" r="0.43" fill="#5e443c" stroke="none" stroke-width="0.5" />
<circle cx="21.09" cy="425.29" r="0.62" fill="#6a4e46" stroke="none" stroke-width="0.5" />
<circle cx="36.90" cy="405.71" r="0.48" fill="#a8948e" stroke="none" stroke-width="0.5" />
<circle cx="38.46" cy="422.12" r="0.80" fill="#b0a09a" stroke="none" stroke-width="0.5" />
<circle cx="40.24" cy="396.29" r="0.43" fill="#a8948e" stroke="none" stroke-width="0.5" />
<circle cx="31.24" cy="428.29" r="0.44" fill="#a8948e" stroke="none" stroke-width="0.5" />
<circle cx="35.51" cy="406.91" r="0.51" fill="#6a4e46" stroke="none" stroke-width="0.5" />
<circle cx="60.09" cy="405.52" r="0.60" fill="#7a5e56" stroke="none" stroke-width="0.5" />
<circle cx="38.87" cy="411.79" r="0.67" fill="#b0a09a" stroke="none" stroke-width="0.5" />
<circle cx="29.28" cy="414.39" r="0.65" fill="#b0a09a" stroke="none" stroke-width="0.5" />
<circle cx="26.70" cy="425.99" r="0.47" fill="#6a4e46" stroke="none" stroke-width="0.5" />
<circle cx="34.96" cy="391.19" r="0.45" fill="#5e443c" stroke="none" stroke-width="0.5" />
<circle cx="57.59" cy="434.11" r="0.37" fill="#a8948e" stroke="none" stroke-width="0.5" />
<circle cx="26.26" cy="419.20" r="0.58" fill="#5e443c" stroke="none" stroke-width="0.5" />
<circle cx="51.74" cy="426.01" r="0.80" fill="#8e7670" stroke="none" stroke-width="0.5" />
<circle cx="38.10" cy="419.69" r="0.68" fill="#6a4e46" stroke="none" stroke-width="0.5" />
<circle cx="58.21" cy="395.01" r="0.39" fill="#6a4e46" stroke="none" stroke-width="0.5" />
<circle cx="31.34" cy="420.15" r="0.36" fill="#b0a09a" stroke="none" stroke-width="0.5" />
<circle cx="21.17" cy="410.37" r="0.41" fill="#8e7670" stroke="none" stroke-width="0.5" />
<circle cx="28.43" cy="422.01" r="0.68" fill="#7a5e56" stroke="none" stroke-width="0.5" />
<circle cx="32.36" cy="405.15" r="0.78" fill="#b0a09a" stroke="none" stroke-width="0.5" />
<circle cx="49.89" cy="419.42" r="0.36" fill="#7a5e56" stroke="none" stroke-width="0.5" />
<circle cx="38.14" cy="421.86" r="0.51" fill="#7a5e56" stroke="none" stroke-width="0.5" />
<circle cx="41.97" cy="420.45" r="0.41" fill="#8e7670" stroke="none" stroke-width="0.5" />
<circle cx="59.24" cy="404.33" r="0.63" fill="#6a4e46" stroke="none" stroke-width="0.5" />
<circle cx="29.31" cy="398.26" r="0.75" fill="#a8948e" stroke="none" stroke-width="0.5" />
<circle cx="54.49" cy="401.62" r="0.76" fill="#7a5e56" stroke="none" stroke-width="0.5" />
<circle cx="33.00" cy="405.80" r="0.69" fill="#b0a09a" stroke="none" stroke-width="0.5" />
<circle cx="32.02" cy="394.24" r="0.77" fill="#8e7670" stroke="none" stroke-width="0.5" />
<circle cx="32.34" cy="411.04" r="0.78" fill="#7a5e56" stroke="none" stroke-width="0.5" />
<circle cx="37.95" cy="400.53" r="0.40" fill="#5e443c" stroke="none" stroke-width="0.5" />
<circle cx="19.33" cy="423.30" r="0.55" fill="#6a4e46" stroke="none" stroke-width="0.5" />
<circle cx="47.59" cy="411.16" r="0.65" fill="#7a5e56" stroke="none" stroke-width="0.5" />
<circle cx="30.08" cy="430.13" r="0.59" fill="#8e7670" stroke="none" stroke-width="0.5" />
<circle cx="40.61" cy="427.58" r="0.44" fill="#5e443c" stroke="none" stroke-width="0.5" />
<circle cx="22.84" cy="421.40" r="0.72" fill="#a8948e" stroke="none" stroke-width="0.5" />
<circle cx="36.41" cy="398.23" r="0.73" fill="#8e7670" stroke="none" stroke-width="0.5" />
<circle cx="24.85" cy="415.70" r="0.61" fill="#6a4e46" stroke="none" stroke-width="0.5" />
<circle cx="62.62" cy="432.22" r="0.63" fill="#b0a09a" stroke="none" stroke-width="0.5" />
<circle cx="39.02" cy="415.88" r="0.48" fill="#8e7670" stroke="none" stroke-width="0.5" />
<circle cx="27.45" cy="413.74" r="0.40" fill="#5e443c" stroke="none" stroke-width="0.5" />
<circle cx="38.34" cy="412.51" r="0.37" fill="#8e7670" stroke="none" stroke-width="0.5" />
<circle cx="33.03" cy="403.91" r="0.63" fill="#7a5e56" stroke="none" stroke-width="0.5" />
<circle cx="43.84" cy="404.67" r="0.79" fill="#a8948e" stroke="none" stroke-width="0.5" />
<circle cx="34.10" cy="393.83" r="0.60" fill="#5e443c" stroke="none" stroke-width="0.5" />
<circle cx="57.71" cy="394.26" r="0.72" fill="#b0a09a" stroke="none" stroke-width="0.5" />
<circle cx="20.66" cy="397.95" r="0.39" fill="#5e443c" stroke="none" stroke-width="0.5" />
<circle cx="44.55" cy="401.49" r="0.67" fill="#8e7670" stroke="none" stroke-width="0.5" />
<circle cx="42.67" cy="391.50" r="0.60" fill="#8e7670" stroke="none" stroke-width="0.5" />
<circle cx="62.88" cy="397.24" r="0.48" fill="#b0a09a" stroke="none" stroke-width="0.5" />
<circle cx="34.38" cy="425.52" r="0.51" fill="#a8948e" stroke="none" stroke-width="0.5" />
<circle cx="25.56" cy="409.86" r="0.67" fill="#6a4e46" stroke="none" stroke-width="0.5" />
<circle cx="39.39" cy="408.73" r="0.36" fill="#8e7670" stroke="none" stroke-width="0.5" />
<circle cx="49.74" cy="418.18" r="0.79" fill="#5e443c" stroke="none" stroke-width="0.5" />
<circle cx="37.44" cy="407.06" r="0.35" fill="#6a4e46" stroke="none" stroke-width="0.5" />
<circle cx="36.92" cy="392.93" r="0.66" fill="#a8948e" stroke="none" stroke-width="0.5" />
<circle cx="52.42" cy="421.22" r="0.73" fill="#6a4e46" stroke="none" stroke-width="0.5" />
<circle cx="60.72" cy="432.44" r="0.43" fill="#8e7670" stroke="none" stroke-width="0.5" />
<circle cx="34.32" cy="409.18" r="0.36" fill="#b0a09a" stroke="none" stroke-width="0.5" />
<circle cx="49.62" cy="406.69" r="0.58" fill="#8e7670" stroke="none" stroke-width="0.5" />
<circle cx="60.84" cy="407.86" r="0.66" fill="#5e443c" stroke="none" stroke-width="0.5" />
<circle cx="46.04" cy="401.05" r="0.75" fill="#6a4e46" stroke="none" stroke-width="0.5" />
<circle cx="29.77" cy="397.91" r="0.47" fill="#b0a09a" stroke="none" stroke-width="0.5" />
<circle cx="44.09" cy="411.86" r="0.78" fill="#7a5e56" stroke="none" stroke-width="0.5" />
<circle cx="44.81" cy="429.34" r="0.75" fill="#b0a09a" stroke="none" stroke-width="0.5" />
<circle cx="52.05" cy="408.81" r="0.47" fill="#a8948e" stroke="none" stroke-width="0.5" />
<circle cx="52.42" cy="408.25" r="0.44" fill="#8e7670" stroke="none" stroke-width="0.5" />
<circle cx="23.66" cy="429.40" r="0.65" fill="#5e443c" stroke="none" stroke-width="0.5" />
<circle cx="55.33" cy="406.69" r="0.49" fill="#8e7670" stroke="none" stroke-width="0.5" />
<circle cx="48.15" cy="407.64" r="0.60" fill="#a8948e" stroke="none" stroke-width="0.5" />
<circle cx="25.77" cy="406.14" r="0.38" fill="#5e443c" stroke="none" stroke-width="0.5" />
<circle cx="57.95" cy="424.38" r="0.48" fill="#b0a09a" stroke="none" stroke-width="0.5" />
<circle cx="27.50" cy="421.55" r="0.53" fill="#b0a09a" stroke="none" stroke-width="0.5" />
<circle cx="47.67" cy="400.51" r="0.46" fill="#7a5e56" stroke="none" stroke-width="0.5" />
<circle cx="30.59" cy="401.85" r="0.76" fill="#6a4e46" stroke="none" stroke-width="0.5" />
<circle cx="62.24" cy="395.89" r="0.61" fill="#6a4e46" stroke="none" stroke-width="0.5" />
<circle cx="47.91" cy="416.50" r="0.73" fill="#6a4e46" stroke="none" stroke-width="0.5" />
<circle cx="60.99" cy="427.42" r="0.60" fill="#5e443c" stroke="none" stroke-width="0.5" />
<circle cx="32.72" cy="406.70" r="0.68" fill="#b0a09a" stroke="none" stroke-width="0.5" />
<circle cx="30.34" cy="431.99" r="0.71" fill="#a8948e" stroke="none" stroke-width="0.5" />
<circle cx="52.84" cy="420.59" r="0.47" fill="#b0a09a" stroke="none" stroke-width="0.5" />
<circle cx="26.11" cy="428.75" r="0.69" fill="#a8948e" stroke="none" stroke-width="0.5" />
<circle cx="22.66" cy="427.06" r="0.36" fill="#7a5e56" stroke="none" stroke-width="0.5" />
<circle cx="48.58" cy="429.33" r="0.60" fill="#a8948e" stroke="none" stroke-width="0.5" />
<circle cx="58.03" cy="418.47" r="0.49" fill="#5e443c" stroke="none" stroke-width="0.5" />
<circle cx="34.64" cy="430.47" r="0.53" fill="#6a4e46" stroke="none" stroke-width="0.5" />
<circle cx="39.43" cy="399.56" r="0.66" fill="#a8948e" stroke="none" stroke-width="0.5" />
<circle cx="52.93" cy="396.07" r="0.59" fill="#b0a09a" stroke="none" stroke-width="0.5" />
<circle cx="44.96" cy="406.32" r="0.69" fill="#b0a09a" stroke="none" stroke-width="0.5" />
<circle cx="44.49" cy="418.58" r="0.50" fill="#a8948e" stroke="none" stroke-width="0.5" />
<circle cx="21.16" cy="394.31" r="0.61" fill="#b0a09a" stroke="none" stroke-width="0.5" />
<circle cx="27.64" cy="400.91" r="0.71" fill="#b0a09a" stroke="none" stroke-width="0.5" />
<circle cx="34.61" cy="414.47" r="0.39" fill="#a8948e" stroke="none" stroke-width="0.5" />
<circle cx="62.00" cy="411.04" r="0.75" fill="#5e443c" stroke="none" stroke-width="0.5" />
<circle cx="28.12" cy="425.57" r="0.54" fill="#b0a09a" stroke="none" stroke-width="0.5" />
<circle cx="23.79" cy="394.88" r="0.38" fill="#8e7670" stroke="none" stroke-width="0.5" />
<circle cx="32.34" cy="427.64" r="0.44" fill="#a8948e" stroke="none" stroke-width="0.5" />
<circle cx="27.10" cy="421.33" r="0.38" fill="#a8948e" stroke="none" stroke-width="0.5" />
<circle cx="41.00" cy="397.76" r="0.46" fill="#8e7670" stroke="none" stroke-width="0.5" />
<circle cx="40.34" cy="408.80" r="0.65" fill="#b0a09a" stroke="none" stroke-width="0.5" />
<circle cx="46.37" cy="427.18" r="0.51" fill="#6a4e46" stroke="none" stroke-width="0.5" />
<circle cx="47.19" cy="398.02" r="0.63" fill="#a8948e" stroke="none" stroke-width="0.5" />
<circle cx="23.85" cy="425.42" r="0.75" fill="#b0a09a" stroke="none" stroke-width="0.5" />
<circle cx="55.85" cy="415.42" r="0.74" fill="#8e7670" stroke="none" stroke-width="0.5" />
<circle cx="28.31" cy="425.14" r="0.77" fill="#5e443c" stroke="none" stroke-width="0.5" />
<circle cx="22.94" cy="401.99" r="0.56" fill="#6a4e46" stroke="none" stroke-width="0.5" />
<circle cx="36.85" cy="428.55" r="0.63" fill="#7a5e56" stroke="none" stroke-width="0.5" />
<circle cx="58.28" cy="400.95" r="0.75" fill="#7a5e56" stroke="none" stroke-width="0.5" />
<circle cx="30.77" cy="396.52" r="0.71" fill="#a8948e" stroke="none" stroke-width="0.5" />
<circle cx="20.17" cy="407.98" r="0.72" fill="#7a5e56" stroke="none" stroke-width="0.5" />
<circle cx="37.43" cy="423.77" r="0.39" fill="#a8948e" stroke="none" stroke-width="0.5" />
<circle cx="20.31" cy="433.67" r="0.46" fill="#7a5e56" stroke="none" stroke-width="0.5" />
<circle cx="54.99" cy="432.99" r="0.56" fill="#8e7670" stroke="none" stroke-width="0.5" />
<circle cx="39.20" cy="394.37" r="0.76" fill="#5e443c" stroke="none" stroke-width="0.5" />
<circle cx="45.06" cy="393.72" r="0.77" fill="#5e443c" stroke="none" stroke-width="0.5" />
<circle cx="20.55" cy="398.90" r="0.40" fill="#5e443c" stroke="none" stroke-width="0.5" />
<circle cx="49.23" cy="418.32" r="0.56" fill="#6a4e46" stroke="none" stroke-width="0.5" />
<circle cx="56.58" cy="427.18" r="0.67" fill="#a8948e" stroke="none" stroke-width="0.5" />
<circle cx="21.21" cy="406.12" r="0.73" fill="#5e443c" stroke="none" stroke-width="0.5" />
<circle cx="27.98" cy="423.56" r="0.49" fill="#7a5e56" stroke="none" stroke-width="0.5" />
<circle cx="32.18" cy="423.87" r="0.52" fill="#a8948e" stroke="none" stroke-width="0.5" />
<circle cx="30.28" cy="421.30" r="0.45" fill="#8e7670" stroke="none" stroke-width="0.5" />
<circle cx="41.40" cy="394.95" r="0.49" fill="#6a4e46" stroke="none" stroke-width="0.5" />
<circle cx="46.03" cy="432.55" r="0.59" fill="#5e443c" stroke="none" stroke-width="0.5" />
<circle cx="49.03" cy="399.59" r="0.58" fill="#7a5e56" stroke="none" stroke-width="0.5" />
<circle cx="36.31" cy="432.98" r="0.64" fill="#5e443c" stroke="none" stroke-width="0.5" />
<circle cx="53.98" cy="426.74" r="0.41" fill="#8e7670" stroke="none" stroke-width="0.5" />
<circle cx="49.12" cy="420.11" r="0.60" fill="#b0a09a" stroke="none" stroke-width="0.5" />
<circle cx="26.59" cy="433.93" r="0.52" fill="#8e7670" stroke="none" stroke-width="0.5" />
<circle cx="37.23" cy="426.50" r="0.68" fill="#7a5e56" stroke="none" stroke-width="0.5" />
<circle cx="43.73" cy="434.35" r="0.59" fill="#5e443c" stroke="none" stroke-width="0.5" />
<circle cx="22.45" cy="427.22" r="0.63" fill="#5e443c" stroke="none" stroke-width="0.5" />
<circle cx="57.70" cy="394.51" r="0.79" fill="#7a5e56" stroke="none" stroke-width="0.5" />
<circle cx="37.60" cy="422.12" r="0.48" fill="#b0a09a" stroke="none" stroke-width="0.5" />
<circle cx="38.98" cy="416.07" r="0.62" fill="#a8948e" stroke="none" stroke-width="0.5" />
<circle cx="26.14" cy="395.76" r="0.52" fill="#a8948e" stroke="none" stroke-width="0.5" />
<circle cx="28.31" cy="410.25" r="0.36" fill="#7a5e56" stroke="none" stroke-width="0.5" />
<circle cx="62.28" cy="420.86" r="0.48" fill="#b0a09a" stroke="none" stroke-width="0.5" />
<circle cx="45.06" cy="399.26" r="0.37" fill="#a8948e" stroke="none" stroke-width="0.5" />
<circle cx="37.09" cy="408.10" r="0.71" fill="#a8948e" stroke="none" stroke-width="0.5" />
<circle cx="53.50" cy="397.77" r="0.35" fill="#a8948e" stroke="none" stroke-width="0.5" />
<circle cx="38.81" cy="401.75" r="0.73" fill="#8e7670" stroke="none" stroke-width="0.5" />
<circle cx="26.77" cy="407.42" r="0.65" fill="#5e443c" stroke="none" stroke-width="0.5" />
<circle cx="58.97" cy="431.05" r="0.76" fill="#8e7670" stroke="none" stroke-width="0.5" />
<circle cx="46.64" cy="418.53" r="0.49" fill="#8e7670" stroke="none" stroke-width="0.5" />
<circle cx="21.18" cy="428.11" r="0.48" fill="#5e443c" stroke="none" stroke-width="0.5" />
<circle cx="52.07" cy="400.00" r="0.67" fill="#6a4e46" stroke="none" stroke-width="0.5" />
<circle cx="57.72" cy="432.45" r="0.35" fill="#b0a09a" stroke="none" stroke-width="0.5" />
<circle cx="54.98" cy="416.56" r="0.38" fill="#8e7670" stroke="none" stroke-width="0.5" />
<circle cx="36.52" cy="407.57" r="0.36" fill="#a8948e" stroke="none" stroke-width="0.5" />
<circle cx="59.65" cy="430.50" r="0.41" fill="#a8948e" stroke="none" stroke-width="0.5" />
<circle cx="29.89" cy="410.14" r="0.58" fill="#6a4e46" stroke="none" stroke-width="0.5" />
<circle cx="22.24" cy="396.11" r="0.74" fill="#b0a09a" stroke="none" stroke-width="0.5" />
<circle cx="49.41" cy="404.77" r="0.71" fill="#6a4e46" stroke="none" stroke-width="0.5" />
<circle cx="37.18" cy="432.67" r="0.50" fill="#a8948e" stroke="none" stroke-width="0.5" />
<circle cx="47.79" cy="421.92" r="0.52" fill="#5e443c" stroke="none" stroke-width="0.5" />
<circle cx="26.54" cy="432.77" r="0.51" fill="#7a5e56" stroke="none" stroke-width="0.5" />
<circle cx="33.65" cy="395.46" r="0.74" fill="#a8948e" stroke="none" stroke-width="0.5" />
<circle cx="22.72" cy="427.84" r="0.51" fill="#6a4e46" stroke="none" stroke-width="0.5" />
<circle cx="57.45" cy="396.75" r="0.60" fill="#7a5e56" stroke="none" stroke-width="0.5" />
<circle cx="39.41" cy="403.78" r="0.39" fill="#6a4e46" stroke="none" stroke-width="0.5" />
<circle cx="27.43" cy="427.12" r="0.75" fill="#7a5e56" stroke="none" stroke-width="0.5" />
<circle cx="29.61" cy="404.92" r="0.64" fill="#b0a09a" stroke="none" stroke-width="0.5" />
<circle cx="26.52" cy="418.54" r="0.72" fill="#7a5e56" stroke="none" stroke-width="0.5" />
<circle cx="42.11" cy="421.94" r="0.74" fill="#b0a09a" stroke="none" stroke-width="0.5" />
<circle cx="34.12" cy="434.48" r="0.71" fill="#b0a09a" stroke="none" stroke-width="0.5" />
<circle cx="22.33" cy="428.48" r="0.53" fill="#6a4e46" stroke="none" stroke-width="0.5" />
<circle cx="29.82" cy="403.37" r="0.49" fill="#5e443c" stroke="none" stroke-width="0.5" />
<circle cx="38.98" cy="430.67" r="0.50" fill="#5e443c" stroke="none" stroke-width="0.5" />
<circle cx="33.81" cy="416.29" r="0.61" fill="#6a4e46" stroke="none" stroke-width="0.5" />
<circle cx="56.78" cy="422.11" r="0.44" fill="#8e7670" stroke="none" stroke-width="0.5" />
<circle cx="30.46" cy="432.14" r="0.45" fill="#a8948e" stroke="none" stroke-width="0.5" />
<circle cx="32.43" cy="399.70" r="0.76" fill="#5e443c" stroke="none" stroke-width="0.5" />
<circle cx="54.67" cy="411.96" r="0.40" fill="#a8948e" stroke="none" stroke-width="0.5" />
<circle cx="48.74" cy="405.92" r="0.42" fill="#5e443c" stroke="none" stroke-width="0.5" />
<circle cx="21.70" cy="417.87" r="0.35" fill="#b0a09a" stroke="none" stroke-width="0.5" />
<circle cx="32.39" cy="430.47" r="0.43" fill="#a8948e" stroke="none" stroke-width="0.5" />
<circle cx="48.80" cy="434.64" r="0.49" fill="#5e443c" stroke="none" stroke-width="0.5" />
<circle cx="45.19" cy="413.69" r="0.66" fill="#5e443c" stroke="none" stroke-width="0.5" />
<circle cx="37.68" cy="422.24" r="0.71" fill="#b0a09a" stroke="none" stroke-width="0.5" />
<circle cx="56.59" cy="416.17" r="0.47" fill="#6a4e46" stroke="none" stroke-width="0.5" />
<circle cx="56.20" cy="413.67" r="0.57" fill="#5e443c" stroke="none" stroke-width="0.5" />
<circle cx="56.78" cy="403.42" r="0.48" fill="#8e7670" stroke="none" stroke-width="0.5" />
<circle cx="22.41" cy="391.76" r="0.65" fill="#6a4e46" stroke="none" stroke-width="0.5" />
<circle cx="53.70" cy="432.70" r="0.67" fill="#b0a09a" stroke="none" stroke-width="0.5" />
<circle cx="56.46" cy="410.93" r="0.47" fill="#7a5e56" stroke="none" stroke-width="0.5" />
<circle cx="37.85" cy="433.51" r="0.53" fill="#6a4e46" stroke="none" stroke-width="0.5" />
<circle cx="35.57" cy="413.26" r="0.47" fill="#8e7670" stroke="none" stroke-width="0.5" />
<circle cx="60.87" cy="397.91" r="0.73" fill="#6a4e46" stroke="none" stroke-width="0.5" />
<circle cx="28.75" cy="394.45" r="0.41" fill="#b0a09a" stroke="none" stroke-width="0.5" />
<circle cx="45.74" cy="394.30" r="0.35" fill="#a8948e" stroke="none" stroke-width="0.5" />
<circle cx="61.23" cy="433.53" r="0.69" fill="#b0a09a" stroke="none" stroke-width="0.5" />
<circle cx="23.05" cy="424.78" r="0.64" fill="#7a5e56" stroke="none" stroke-width="0.5" />
<circle cx="34.27" cy="400.35" r="0.46" fill="#8e7670" stroke="none" stroke-width="0.5" />
<circle cx="54.78" cy="417.11" r="0.62" fill="#8e7670" stroke="none" stroke-width="0.5" />
<circle cx="45.99" cy="421.13" r="0.36" fill="#a8948e" stroke="none" stroke-width="0.5" />
<circle cx="39.36" cy="406.05" r="0.78" fill="#6a4e46" stroke="none" stroke-width="0.5" />
<circle cx="34.42" cy="392.08" r="0.55" fill="#a8948e" stroke="none" stroke-width="0.5" />
<circle cx="32.77" cy="417.13" r="0.36" fill="#7a5e56" stroke="none" stroke-width="0.5" />
<circle cx="30.21" cy="424.52" r="0.59" fill="#5e443c" stroke="none" stroke-width="0.5" />
<circle cx="38.57" cy="403.93" r="0.57" fill="#7a5e56" stroke="none" stroke-width="0.5" />
<circle cx="31.31" cy="393.32" r="0.54" fill="#b0a09a" stroke="none" stroke-width="0.5" />
<circle cx="60.38" cy="419.69" r="0.42" fill="#b0a09a" stroke="none" stroke-width="0.5" />
<circle cx="39.96" cy="415.52" r="0.38" fill="#6a4e46" stroke="none" stroke-width="0.5" />
<circle cx="19.98" cy="412.54" r="0.54" fill="#8e7670" stroke="none" stroke-width="0.5" />
<circle cx="44.61" cy="422.66" r="0.66" fill="#a8948e" stroke="none" stroke-width="0.5" />
<circle cx="30.97" cy="410.99" r="0.64" fill="#6a4e46" stroke="none" stroke-width="0.5" />
<circle cx="55.80" cy="409.65" r="0.39" fill="#7a5e56" stroke="none" stroke-width="0.5" />
<circle cx="29.95" cy="427.26" r="0.51" fill="#b0a09a" stroke="none" stroke-width="0.5" />
<circle cx="62.91" cy="413.10" r="0.69" fill="#5e443c" stroke="none" stroke-width="0.5" />
<circle cx="34.45" cy="405.19" r="0.45" fill="#7a5e56" stroke="none" stroke-width="0.5" />
<circle cx="19.81" cy="410.84" r="0.49" fill="#8e7670" stroke="none" stroke-width="0.5" />
<circle cx="32.54" cy="434.06" r="0.77" fill="#b0a09a" stroke="none" stroke-width="0.5" />
<circle cx="44.52" cy="396.44" r="0.72" fill="#b0a09a" stroke="none" stroke-width="0.5" />
<circle cx="57.53" cy="430.97" r="0.70" fill="#8e7670" stroke="none" stroke-width="0.5" />
<circle cx="44.68" cy="399.41" r="0.43" fill="#a8948e" stroke="none" stroke-width="0.5" />
<circle cx="47.72" cy="428.81" r="0.74" fill="#5e443c" stroke="none" stroke-width="0.5" />
<circle cx="58.82" cy="420.42" r="0.49" fill="#5e443c" stroke="none" stroke-width="0.5" />
<circle cx="34.54" cy="428.87" r="0.73" fill="#8e7670" stroke="none" stroke-width="0.5" />
<circle cx="44.33" cy="419.20" r="0.69" fill="#5e443c" stroke="none" stroke-width="0.5" />
<circle cx="54.54" cy="396.60" r="0.76" fill="#8e7670" stroke="none" stroke-width="0.5" />
<circle cx="59.23" cy="423.25" r="0.54" fill="#5e443c" stroke="none" stroke-width="0.5" />
<circle cx="39.41" cy="421.65" r="0.39" fill="#6a4e46" stroke="none" stroke-width="0.5" />
<circle cx="37.88" cy="410.35" r="0.68" fill="#7a5e56" stroke="none" stroke-width="0.5" />
<circle cx="42.11" cy="406.70" r="0.77" fill="#5e443c" stroke="none" stroke-width="0.5" />
<circle cx="20.38" cy="402.26" r="0.72" fill="#6a4e46" stroke="none" stroke-width="0.5" />
<circle cx="21.20" cy="393.09" r="0.48" fill="#a8948e" stroke="none" stroke-width="0.5" />
<circle cx="42.32" cy="416.85" r="0.67" fill="#5e443c" stroke="none" stroke-width="0.5" />
<circle cx="19.19" cy="427.79" r="0.74" fill="#b0a09a" stroke="none" stroke-width="0.5" />
<circle cx="32.64" cy="418.51" r="0.49" fill="#8e7670" stroke="none" stroke-width="0.5" />
<circle cx="43.78" cy="401.21" r="0.71" fill="#a8948e" stroke="none" stroke-width="0.5" />
<circle cx="55.63" cy="425.19" r="0.44" fill="#a8948e" stroke="none" stroke-width="0.5" />
<circle cx="60.47" cy="401.43" r="0.44" fill="#b0a09a" stroke="none" stroke-width="0.5" />
<circle cx="24.71" cy="425.12" r="0.77" fill="#5e443c" stroke="none" stroke-width="0.5" />
<circle cx="51.26" cy="411.10" r="0.65" fill="#b0a09a" stroke="none" stroke-width="0.5" />
<circle cx="41.37" cy="411.79" r="0.41" fill="#8e7670" stroke="none" stroke-width="0.5" />
<circle cx="35.64" cy="411.58" r="0.46" fill="#a8948e" stroke="none" stroke-width="0.5" />
<circle cx="22.98" cy="402.42" r="0.80" fill="#8e7670" stroke="none" stroke-width="0.5" />
<circle cx="35.51" cy="392.01" r="0.55" fill="#a8948e" stroke="none" stroke-width="0.5" />
<circle cx="60.60" cy="420.53" r="0.67" fill="#6a4e46" stroke="none" stroke-width="0.5" />
<circle cx="55.08" cy="422.28" r="0.69" fill="#8e7670" stroke="none" stroke-width="0.5" />
<circle cx="37.89" cy="392.47" r="0.49" fill="#6a4e46" stroke="none" stroke-width="0.5" />
<circle cx="45.69" cy="418.65" r="0.51" fill="#b0a09a" stroke="none" stroke-width="0.5" />
<circle cx="48.94" cy="415.63" r="0.74" fill="#8e7670" stroke="none" stroke-width="0.5" />
<circle cx="45.00" cy="432.49" r="0.38" fill="#5e443c" stroke="none" stroke-width="0.5" />
<circle cx="43.37" cy="407.55" r="0.59" fill="#a8948e" stroke="none" stroke-width="0.5" />
<circle cx="47.89" cy="426.80" r="0.35" fill="#5e443c" stroke="none" stroke-width="0.5" />
<circle cx="33.62" cy="418.66" r="0.53" fill="#8e7670" stroke="none" stroke-width="0.5" />
<circle cx="25.07" cy="407.10" r="0.62" fill="#8e7670" stroke="none" stroke-width="0.5" />
<circle cx="42.25" cy="395.93" r="0.58" fill="#7a5e56" stroke="none" stroke-width="0.5" />
<circle cx="29.87" cy="427.27" r="0.39" fill="#7a5e56" stroke="none" stroke-width="0.5" />
<circle cx="47.17" cy="426.26" r="0.49" fill="#b0a09a" stroke="none" stroke-width="0.5" />
<circle cx="42.31" cy="392.01" r="0.39" fill="#7a5e56" stroke="none" stroke-width="0.5" />
<circle cx="57.17" cy="422.87" r="0.58" fill="#7a5e56" stroke="none" stroke-width="0.5" />
<circle cx="45.75" cy="433.11" r="0.37" fill="#8e7670" stroke="none" stroke-width="0.5" />
<circle cx="28.04" cy="417.86" r="0.73" fill="#8e7670" stroke="none" stroke-width="0.5" />
<circle cx="45.39" cy="407.04" r="0.68" fill="#7a5e56" stroke="none" stroke-width="0.5" />
<circle cx="36.63" cy="423.77" r="0.72" fill="#a8948e" stroke="none" stroke-width="0.5" />
<circle cx="27.69" cy="400.60" r="0.56" fill="#6a4e46" stroke="none" stroke-width="0.5" />
<circle cx="35.36" cy="407.31" r="0.73" fill="#6a4e46" stroke="none" stroke-width="0.5" />
<circle cx="34.04" cy="395.77" r="0.59" fill="#a8948e" stroke="none" stroke-width="0.5" />
<circle cx="27.36" cy="416.74" r="0.60" fill="#5e443c" stroke="none" stroke-width="0.5" />
<circle cx="37.66" cy="433.80" r="0.65" fill="#8e7670" stroke="none" stroke-width="0.5" />
<circle cx="45.26" cy="433.39" r="0.52" fill="#5e443c" stroke="none" stroke-width="0.5" />
<circle cx="52.08" cy="415.00" r="0.57" fill="#7a5e56" stroke="none" stroke-width="0.5" />
<circle cx="59.07" cy="391.85" r="0.55" fill="#7a5e56" stroke="none" stroke-width="0.5" />
<circle cx="58.60" cy="395.35" r="0.79" fill="#5e443c" stroke="none" stroke-width="0.5" />
<circle cx="40.57" cy="402.30" r="0.62" fill="#b0a09a" stroke="none" stroke-width="0.5" />
<circle cx="43.82" cy="395.28" r="0.57" fill="#7a5e56" stroke="none" stroke-width="0.5" />
<circle cx="40.21" cy="423.91" r="0.79" fill="#7a5e56" stroke="none" stroke-width="0.5" />
<circle cx="55.71" cy="403.69" r="0.72" fill="#7a5e56" stroke="none" stroke-width="0.5" />
<circle cx="19.96" cy="429.83" r="0.46" fill="#a8948e" stroke="none" stroke-width="0.5" />
<circle cx="35.09" cy="418.55" r="0.55" fill="#7a5e56" stroke="none" stroke-width="0.5" />
<circle cx="25.66" cy="414.09" r="0.67" fill="#b0a09a" stroke="none" stroke-width="0.5" />
<circle cx="58.68" cy="402.61" r="0.58" fill="#6a4e46" stroke="none" stroke-width="0.5" />
<circle cx="55.73" cy="417.72" r="0.52" fill="#5e443c" stroke="none" stroke-width="0.5" />
<circle cx="28.91" cy="426.16" r="0.53" fill="#6a4e46" stroke="none" stroke-width="0.5" />
<circle cx="20.76" cy="421.29" r="0.71" fill="#8e7670" stroke="none" stroke-width="0.5" />
<circle cx="49.46" cy="417.90" r="0.37" fill="#5e443c" stroke="none" stroke-width="0.5" />
<circle cx="57.10" cy="414.96" r="0.40" fill="#5e443c" stroke="none" stroke-width="0.5" />
<circle cx="45.68" cy="423.73" r="0.45" fill="#8e7670" stroke="none" stroke-width="0.5" />
<circle cx="23.66" cy="430.38" r="0.47" fill="#6a4e46" stroke="none" stroke-width="0.5" />
<circle cx="56.07" cy="392.75" r="0.45" fill="#7a5e56" stroke="none" stroke-width="0.5" />
<circle cx="42.16" cy="394.18" r="0.64" fill="#6a4e46" stroke="none" stroke-width="0.5" />
<circle cx="20.35" cy="410.27" r="0.47" fill="#b0a09a" stroke="none" stroke-width="0.5" />
<circle cx="25.37" cy="432.38" r="0.51" fill="#a8948e" stroke="none" stroke-width="0.5" />
<circle cx="48.61" cy="411.07" r="0.68" fill="#7a5e56" stroke="none" stroke-width="0.5" />
<circle cx="57.00" cy="407.16" r="0.53" fill="#a8948e" stroke="none" stroke-width="0.5" />
<circle cx="21.26" cy="411.06" r="0.78" fill="#7a5e56" stroke="none" stroke-width="0.5" />
<circle cx="35.23" cy="396.65" r="0.47" fill="#b0a09a" stroke="none" stroke-width="0.5" />
<circle cx="26.94" cy="430.24" r="0.47" fill="#8e7670" stroke="none" stroke-width="0.5" />
<circle cx="25.14" cy="412.26" r="0.79" fill="#7a5e56" stroke="none" stroke-width="0.5" />
<circle cx="46.65" cy="402.84" r="0.59" fill="#8e7670" stroke="none" stroke-width="0.5" />
<circle cx="26.40" cy="426.89" r="0.63" fill="#7a5e56" stroke="none" stroke-width="0.5" />
<circle cx="19.93" cy="403.97" r="0.75" fill="#7a5e56" stroke="none" stroke-width="0.5" />
<circle cx="27.88" cy="413.37" r="0.56" fill="#b0a09a" stroke="none" stroke-width="0.5" />
<circle cx="30.41" cy="394.43" r="0.80" fill="#5e443c" stroke="none" stroke-width="0.5" />
<circle cx="53.02" cy="434.40" r="0.79" fill="#b0a09a" stroke="none" stroke-width="0.5" />
<circle cx="51.01" cy="396.16" r="0.45" fill="#8e7670" stroke="none" stroke-width="0.5" />
<circle cx="22.94" cy="393.85" r="0.78" fill="#7a5e56" stroke="none" stroke-width="0.5" />
<circle cx="45.55" cy="431.64" r="0.45" fill="#b0a09a" stroke="none" stroke-width="0.5" />
<circle cx="62.69" cy="421.26" r="0.76" fill="#7a5e56" stroke="none" stroke-width="0.5" />
<circle cx="26.43" cy="394.28" r="0.48" fill="#b0a09a" stroke="none" stroke-width="0.5" />
<circle cx="38.89" cy="432.41" r="0.79" fill="#b0a09a" stroke="none" stroke-width="0.5" />
<circle cx="58.48" cy="428.32" r="0.72" fill="#5e443c" stroke="none" stroke-width="0.5" />
<circle cx="43.97" cy="405.78" r="0.73" fill="#7a5e56" stroke="none" stroke-width="0.5" />
<circle cx="32.36" cy="413.54" r="0.60" fill="#6a4e46" stroke="none" stroke-width="0.5" />
<circle cx="34.37" cy="391.14" r="0.53" fill="#6a4e46" stroke="none" stroke-width="0.5" />
<circle cx="26.69" cy="418.56" r="0.41" fill="#5e443c" stroke="none" stroke-width="0.5" />
<circle cx="22.54" cy="432.33" r="0.43" fill="#b0a09a" stroke="none" stroke-width="0.5" />
<circle cx="44.82" cy="408.08" r="0.69" fill="#6a4e46" stroke="none" stroke-width="0.5" />
<circle cx="31.28" cy="424.47" r="0.69" fill="#7a5e56" stroke="none" stroke-width="0.5" />
<circle cx="50.23" cy="404.16" r="0.62" fill="#6a4e46" stroke="none" stroke-width="0.5" />
<circle cx="49.39" cy="402.92" r="0.64" fill="#8e7670" stroke="none" stroke-width="0.5" />
<circle cx="39.17" cy="424.84" r="0.43" fill="#7a5e56" stroke="none" stroke-width="0.5" />
<circle cx="26.84" cy="399.43" r="0.53" fill="#a8948e" stroke="none" stroke-width="0.5" />
<circle cx="48.40" cy="396.11" r="0.59" fill="#a8948e" stroke="none" stroke-width="0.5" />
<circle cx="32.48" cy="397.99" r="0.69" fill="#b0a09a" stroke="none" stroke-width="0.5" />
<circle cx="29.11" cy="431.04" r="0.56" fill="#7a5e56" stroke="none" stroke-width="0.5" />
<circle cx="27.90" cy="416.74" r="0.43" fill="#a8948e" stroke="none" stroke-width="0.5" />
<circle cx="31.21" cy="404.43" r="0.46" fill="#5e443c" stroke="none" stroke-width="0.5" />
<circle cx="27.71" cy="421.57" r="0.72" fill="#7a5e56" stroke="none" stroke-width="0.5" />
<circle cx="52.28" cy="432.04" r="0.77" fill="#a8948e" stroke="none" stroke-width="0.5" />
<circle cx="43.03" cy="404.97" r="0.45" fill="#a8948e" stroke="none" stroke-width="0.5" />
<circle cx="36.57" cy="399.47" r="0.69" fill="#8e7670" stroke="none" stroke-width="0.5" />
<circle cx="25.82" cy="393.18" r="0.48" fill="#5e443c" stroke="none" stroke-width="0.5" />
<circle cx="53.48" cy="430.53" r="0.79" fill="#6a4e46" stroke="none" stroke-width="0.5" />
<circle cx="23.94" cy="434.43" r="0.45" fill="#8e7670" stroke="none" stroke-width="0.5" />
<circle cx="45.84" cy="399.34" r="0.45" fill="#6a4e46" stroke="none" stroke-width="0.5" />
<circle cx="47.15" cy="404.52" r="0.71" fill="#b0a09a" stroke="none" stroke-width="0.5" />
<circle cx="54.07" cy="433.70" r="0.42" fill="#8e7670" stroke="none" stroke-width="0.5" />
<circle cx="32.48" cy="406.07" r="0.69" fill="#5e443c" stroke="none" stroke-width="0.5" />
<circle cx="41.26" cy="421.08" r="0.45" fill="#b0a09a" stroke="none" stroke-width="0.5" />
<circle cx="30.37" cy="398.59" r="0.57" fill="#8e7670" stroke="none" stroke-width="0.5" />
<circle cx="43.86" cy="420.18" r="0.52" fill="#8e7670" stroke="none" stroke-width="0.5" />
<circle cx="52.34" cy="410.46" r="0.69" fill="#8e7670" stroke="none" stroke-width="0.5" />
<circle cx="35.09" cy="430.89" r="0.37" fill="#a8948e" stroke="none" stroke-width="0.5" />
<circle cx="50.59" cy="424.03" r="0.49" fill="#7a5e56" stroke="none" stroke-width="0.5" />
<circle cx="48.99" cy="398.45" r="0.76" fill="#8e7670" stroke="none" stroke-width="0.5" />
<circle cx="52.78" cy="428.88" r="0.37" fill="#6a4e46" stroke="none" stroke-width="0.5" />
<circle cx="26.55" cy="433.41" r="0.79" fill="#b0a09a" stroke="none" stroke-width="0.5" />
<circle cx="25.25" cy="424.46" r="0.49" fill="#b0a09a" stroke="none" stroke-width="0.5" />
<circle cx="52.29" cy="433.51" r="0.71" fill="#5e443c" stroke="none" stroke-width="0.5" />
<circle cx="54.24" cy="433.78" r="0.38" fill="#b0a09a" stroke="none" stroke-width="0.5" />
<circle cx="37.74" cy="421.81" r="0.49" fill="#7a5e56" stroke="none" stroke-width="0.5" />
<circle cx="55.41" cy="403.27" r="0.37" fill="#a8948e" stroke="none" stroke-width="0.5" />
<circle cx="54.89" cy="416.96" r="0.48" fill="#6a4e46" stroke="none" stroke-width="0.5" />
<circle cx="57.48" cy="433.14" r="0.69" fill="#b0a09a" stroke="none" stroke-width="0.5" />
<circle cx="45.39" cy="419.00" r="0.77" fill="#5e443c" stroke="none" stroke-width="0.5" />
<circle cx="24.20" cy="396.33" r="0.67" fill="#7a5e56" stroke="none" stroke-width="0.5" />
<circle cx="33.89" cy="419.36" r="0.54" fill="#5e443c" stroke="none" stroke-width="0.5" />
<circle cx="57.85" cy="424.61" r="0.59" fill="#6a4e46" stroke="none" stroke-width="0.5" />
<circle cx="58.66" cy="417.98" r="0.75" fill="#7a5e56" stroke="none" stroke-width="0.5" />
<circle cx="23.77" cy="415.13" r="0.71" fill="#7a5e56" stroke="none" stroke-width="0.5" />
<circle cx="28.63" cy="394.57" r="0.77" fill="#7a5e56" stroke="none" stroke-width="0.5" />
<circle cx="20.42" cy="427.60" r="0.66" fill="#5e443c" stroke="none" stroke-width="0.5" />
<circle cx="30.40" cy="403.46" r="0.65" fill="#8e7670" stroke="none" stroke-width="0.5" />
<circle cx="19.98" cy="396.96" r="0.57" fill="#a8948e" stroke="none" stroke-width="0.5" />
<circle cx="21.62" cy="426.40" r="0.65" fill="#b0a09a" stroke="none" stroke-width="0.5" />
<circle cx="34.51" cy="421.31" r="0.56" fill="#8e7670" stroke="none" stroke-width="0.5" />
<circle cx="37.91" cy="425.84" r="0.55" fill="#8e7670" stroke="none" stroke-width="0.5" />
<circle cx="29.97" cy="402.93" r="0.66" fill="#b0a09a" stroke="none" stroke-width="0.5" />
<circle cx="43.57" cy="391.49" r="0.51" fill="#6a4e46" stroke="none" stroke-width="0.5" />
<circle cx="33.08" cy="395.29" r="0.42" fill="#5e443c" stroke="none" stroke-width="0.5" />
<circle cx="57.39" cy="407.51" r="0.60" fill="#b0a09a" stroke="none" stroke-width="0.5" />
<circle cx="24.91" cy="415.66" r="0.78" fill="#8e7670" stroke="none" stroke-width="0.5" />
<circle cx="21.73" cy="426.94" r="0.54" fill="#8e7670" stroke="none" stroke-width="0.5" />
<circle cx="29.60" cy="432.13" r="0.57" fill="#8e7670" stroke="none" stroke-width="0.5" />
<circle cx="29.25" cy="410.82" r="0.69" fill="#7a5e56" stroke="none" stroke-width="0.5" />
<circle cx="54.67" cy="427.04" r="0.55" fill="#6a4e46" stroke="none" stroke-width="0.5" />
<circle cx="43.93" cy="393.06" r="0.65" fill="#b0a09a" stroke="none" stroke-width="0.5" />
<circle cx="35.44" cy="420.82" r="0.71" fill="#6a4e46" stroke="none" stroke-width="0.5" />
<circle cx="46.15" cy="396.19" r="0.79" fill="#a8948e" stroke="none" stroke-width="0.5" />
<circle cx="57.90" cy="410.36" r="0.62" fill="#6a4e46" stroke="none" stroke-width="0.5" />
<circle cx="56.55" cy="401.82" r="0.66" fill="#8e7670" stroke="none" stroke-width="0.5" />
<circle cx="21.18" cy="398.88" r="0.53" fill="#6a4e46" stroke="none" stroke-width="0.5" />
<circle cx="39.75" cy="429.09" r="0.43" fill="#5e443c" stroke="none" stroke-width="0.5" />
<circle cx="30.72" cy="420.72" r="0.80" fill="#a8948e" stroke="none" stroke-width="0.5" />
<circle cx="35.22" cy="405.08" r="0.66" fill="#a8948e" stroke="none" stroke-width="0.5" />
<circle cx="43.90" cy="424.00" r="0.59" fill="#6a4e46" stroke="none" stroke-width="0.5" />
<circle cx="37.80" cy="408.37" r="0.55" fill="#7a5e56" stroke="none" stroke-width="0.5" />
<circle cx="60.54" cy="415.96" r="0.57" fill="#6a4e46" stroke="none" stroke-width="0.5" />
<circle cx="48.73" cy="407.23" r="0.41" fill="#b0a09a" stroke="none" stroke-width="0.5" />
<circle cx="26.37" cy="411.71" r="0.67" fill="#5e443c" stroke="none" stroke-width="0.5" />
<circle cx="43.83" cy="410.30" r="0.51" fill="#a8948e" stroke="none" stroke-width="0.5" />
<circle cx="19.31" cy="393.76" r="0.52" fill="#8e7670" stroke="none" stroke-width="0.5" />
<circle cx="45.62" cy="397.60" r="0.59" fill="#b0a09a" stroke="none" stroke-width="0.5" />
<circle cx="27.59" cy="424.63" r="0.45" fill="#5e443c" stroke="none" stroke-width="0.5" />
<circle cx="44.82" cy="428.54" r="0.73" fill="#8e7670" stroke="none" stroke-width="0.5" />
<circle cx="41.69" cy="425.37" r="0.65" fill="#7a5e56" stroke="none" stroke-width="0.5" />
<circle cx="58.97" cy="429.91" r="0.58" fill="#7a5e56" stroke="none" stroke-width="0.5" />
<circle cx="29.32" cy="398.64" r="0.61" fill="#8e7670" stroke="none" stroke-width="0.5" />
<circle cx="62.20" cy="413.42" r="0.72" fill="#7a5e56" stroke="none" stroke-width="0.5" />
<circle cx="50.47" cy="395.01" r="0.49" fill="#a8948e" stroke="none" stroke-width="0.5" />
<circle cx="52.07" cy="422.24" r="0.41" fill="#7a5e56" stroke="none" stroke-width="0.5" />
<circle cx="50.53" cy="422.48" r="0.49" fill="#8e7670" stroke="none" stroke-width="0.5" />
<circle cx="38.44" cy="419.02" r="0.79" fill="#6a4e46" stroke="none" stroke-width="0.5" />
<circle cx="26.74" cy="396.72" r="0.44" fill="#6a4e46" stroke="none" stroke-width="0.5" />
<circle cx="41.22" cy="395.56" r="0.55" fill="#6a4e46" stroke="none" stroke-width="0.5" />
<circle cx="35.23" cy="412.85" r="0.55" fill="#8e7670" stroke="none" stroke-width="0.5" />
</g>
<clipPath id="z1"><rect x="68.5" y="328.2" width="54" height="54.4"/></clipPath>
<g clip-path="url(#z1)">
<rect x="68.50" y="328.20" width="54.00" height="54.40" fill="#f0e6ea" stroke="none" stroke-width="0.8" />
<ellipse cx="76.5" cy="327.9" rx="1.8" ry="0.9" fill="#a59cb0" transform="rotate(40 76.5 327.9)"/>
<ellipse cx="76.2" cy="350.9" rx="3.2" ry="0.8" fill="#6a6078" transform="rotate(-24 76.2 350.9)"/>
<ellipse cx="97.4" cy="345.4" rx="2.5" ry="0.9" fill="#8a7f98" transform="rotate(35 97.4 345.4)"/>
<ellipse cx="77.0" cy="335.5" rx="2.4" ry="1.1" fill="#776c88" transform="rotate(43 77.0 335.5)"/>
<ellipse cx="118.1" cy="380.4" rx="3.1" ry="0.7" fill="#a59cb0" transform="rotate(67 118.1 380.4)"/>
<ellipse cx="83.5" cy="343.7" rx="2.6" ry="1.2" fill="#b2aabc" transform="rotate(28 83.5 343.7)"/>
<ellipse cx="81.7" cy="346.2" rx="2.4" ry="0.7" fill="#8a7f98" transform="rotate(-65 81.7 346.2)"/>
<ellipse cx="86.3" cy="355.5" rx="1.4" ry="0.8" fill="#776c88" transform="rotate(-14 86.3 355.5)"/>
<ellipse cx="67.5" cy="371.0" rx="2.0" ry="0.7" fill="#6a6078" transform="rotate(65 67.5 371.0)"/>
<ellipse cx="81.1" cy="358.2" rx="3.4" ry="1.0" fill="#a59cb0" transform="rotate(29 81.1 358.2)"/>
<ellipse cx="87.8" cy="342.8" rx="2.9" ry="0.7" fill="#b2aabc" transform="rotate(77 87.8 342.8)"/>
<ellipse cx="67.7" cy="361.0" rx="2.9" ry="0.6" fill="#b2aabc" transform="rotate(-67 67.7 361.0)"/>
<ellipse cx="99.6" cy="364.6" rx="1.5" ry="0.6" fill="#a59cb0" transform="rotate(33 99.6 364.6)"/>
<ellipse cx="104.8" cy="354.4" rx="1.6" ry="0.7" fill="#b2aabc" transform="rotate(-36 104.8 354.4)"/>
<ellipse cx="92.3" cy="375.9" rx="2.5" ry="1.0" fill="#b2aabc" transform="rotate(-47 92.3 375.9)"/>
<ellipse cx="89.4" cy="364.6" rx="1.6" ry="1.2" fill="#a59cb0" transform="rotate(52 89.4 364.6)"/>
<ellipse cx="117.9" cy="353.2" rx="1.7" ry="1.2" fill="#6a6078" transform="rotate(9 117.9 353.2)"/>
<ellipse cx="93.1" cy="381.2" rx="2.7" ry="0.9" fill="#6a6078" transform="rotate(72 93.1 381.2)"/>
<ellipse cx="87.6" cy="338.6" rx="2.8" ry="0.6" fill="#a59cb0" transform="rotate(75 87.6 338.6)"/>
<ellipse cx="96.0" cy="336.9" rx="3.6" ry="0.8" fill="#8a7f98" transform="rotate(-78 96.0 336.9)"/>
<ellipse cx="90.7" cy="356.2" rx="3.6" ry="0.8" fill="#776c88" transform="rotate(-32 90.7 356.2)"/>
<ellipse cx="91.6" cy="369.9" rx="3.2" ry="0.7" fill="#b2aabc" transform="rotate(15 91.6 369.9)"/>
<ellipse cx="115.2" cy="326.9" rx="2.8" ry="0.9" fill="#6a6078" transform="rotate(-34 115.2 326.9)"/>
<ellipse cx="108.3" cy="381.6" rx="2.4" ry="1.3" fill="#8c8298" transform="rotate(11 108.3 381.6)"/>
<ellipse cx="98.8" cy="367.4" rx="1.8" ry="0.9" fill="#8c8298" transform="rotate(6 98.8 367.4)"/>
<ellipse cx="86.0" cy="329.4" rx="3.2" ry="0.8" fill="#a59cb0" transform="rotate(46 86.0 329.4)"/>
<ellipse cx="110.1" cy="380.1" rx="1.9" ry="0.6" fill="#6a6078" transform="rotate(-40 110.1 380.1)"/>
<ellipse cx="97.1" cy="341.5" rx="2.2" ry="0.6" fill="#8a7f98" transform="rotate(36 97.1 341.5)"/>
<ellipse cx="89.5" cy="374.3" rx="1.8" ry="1.1" fill="#6a6078" transform="rotate(53 89.5 374.3)"/>
<ellipse cx="102.2" cy="368.5" rx="2.3" ry="0.9" fill="#6a6078" transform="rotate(-29 102.2 368.5)"/>
<ellipse cx="70.6" cy="332.8" rx="3.4" ry="0.8" fill="#8a7f98" transform="rotate(48 70.6 332.8)"/>
<ellipse cx="95.6" cy="329.6" rx="2.5" ry="0.7" fill="#a59cb0" transform="rotate(-13 95.6 329.6)"/>
<ellipse cx="121.0" cy="377.3" rx="3.3" ry="0.6" fill="#8c8298" transform="rotate(10 121.0 377.3)"/>
<ellipse cx="74.9" cy="384.2" rx="1.7" ry="1.3" fill="#8a7f98" transform="rotate(-23 74.9 384.2)"/>
<ellipse cx="98.9" cy="331.5" rx="2.6" ry="1.2" fill="#8a7f98" transform="rotate(-29 98.9 331.5)"/>
<ellipse cx="66.4" cy="375.0" rx="2.9" ry="0.7" fill="#a59cb0" transform="rotate(-59 66.4 375.0)"/>
<ellipse cx="119.9" cy="343.1" rx="1.9" ry="0.9" fill="#a59cb0" transform="rotate(-28 119.9 343.1)"/>
<ellipse cx="93.8" cy="361.7" rx="1.9" ry="0.7" fill="#8c8298" transform="rotate(31 93.8 361.7)"/>
<ellipse cx="70.8" cy="380.4" rx="2.2" ry="1.1" fill="#8a7f98" transform="rotate(33 70.8 380.4)"/>
<ellipse cx="76.8" cy="328.5" rx="3.6" ry="1.1" fill="#a59cb0" transform="rotate(32 76.8 328.5)"/>
<ellipse cx="73.3" cy="333.6" rx="1.8" ry="0.9" fill="#8a7f98" transform="rotate(-19 73.3 333.6)"/>
<ellipse cx="88.7" cy="345.1" rx="3.0" ry="1.2" fill="#a59cb0" transform="rotate(78 88.7 345.1)"/>
<ellipse cx="93.5" cy="380.5" rx="2.8" ry="1.2" fill="#776c88" transform="rotate(-11 93.5 380.5)"/>
<ellipse cx="70.0" cy="370.1" rx="2.5" ry="1.2" fill="#b2aabc" transform="rotate(52 70.0 370.1)"/>
<ellipse cx="118.0" cy="348.7" rx="3.2" ry="0.9" fill="#b2aabc" transform="rotate(61 118.0 348.7)"/>
<ellipse cx="114.5" cy="375.3" rx="1.5" ry="0.6" fill="#8a7f98" transform="rotate(11 114.5 375.3)"/>
<ellipse cx="115.7" cy="374.8" rx="3.3" ry="0.9" fill="#8a7f98" transform="rotate(50 115.7 374.8)"/>
<ellipse cx="116.4" cy="356.0" rx="2.9" ry="1.0" fill="#8c8298" transform="rotate(7 116.4 356.0)"/>
<ellipse cx="98.2" cy="372.0" rx="2.7" ry="0.7" fill="#6a6078" transform="rotate(-74 98.2 372.0)"/>
<ellipse cx="82.7" cy="350.7" rx="1.8" ry="1.2" fill="#a59cb0" transform="rotate(-33 82.7 350.7)"/>
<ellipse cx="110.4" cy="335.2" rx="2.6" ry="0.8" fill="#8a7f98" transform="rotate(2 110.4 335.2)"/>
<ellipse cx="103.5" cy="345.9" rx="2.7" ry="1.0" fill="#8a7f98" transform="rotate(-24 103.5 345.9)"/>
<ellipse cx="113.2" cy="338.6" rx="2.0" ry="0.8" fill="#776c88" transform="rotate(-65 113.2 338.6)"/>
<ellipse cx="83.0" cy="353.6" rx="3.0" ry="1.1" fill="#8a7f98" transform="rotate(48 83.0 353.6)"/>
<ellipse cx="124.9" cy="328.8" rx="2.3" ry="0.9" fill="#8a7f98" transform="rotate(-80 124.9 328.8)"/>
<ellipse cx="70.7" cy="337.1" rx="3.2" ry="0.8" fill="#8c8298" transform="rotate(-13 70.7 337.1)"/>
<ellipse cx="71.7" cy="332.6" rx="3.3" ry="1.3" fill="#b2aabc" transform="rotate(23 71.7 332.6)"/>
<ellipse cx="73.8" cy="351.7" rx="2.7" ry="0.6" fill="#a59cb0" transform="rotate(-52 73.8 351.7)"/>
<ellipse cx="67.5" cy="337.2" rx="3.3" ry="0.8" fill="#8c8298" transform="rotate(-43 67.5 337.2)"/>
<ellipse cx="99.9" cy="346.1" rx="3.6" ry="1.0" fill="#a59cb0" transform="rotate(-36 99.9 346.1)"/>
<ellipse cx="67.8" cy="349.5" rx="3.3" ry="0.9" fill="#8c8298" transform="rotate(3 67.8 349.5)"/>
<ellipse cx="121.1" cy="349.6" rx="2.6" ry="1.3" fill="#776c88" transform="rotate(-4 121.1 349.6)"/>
<ellipse cx="112.9" cy="371.5" rx="2.0" ry="0.9" fill="#a59cb0" transform="rotate(-20 112.9 371.5)"/>
<ellipse cx="86.7" cy="357.7" rx="1.6" ry="0.8" fill="#a59cb0" transform="rotate(-40 86.7 357.7)"/>
<ellipse cx="113.6" cy="326.3" rx="2.1" ry="1.0" fill="#a59cb0" transform="rotate(28 113.6 326.3)"/>
<ellipse cx="98.0" cy="333.6" rx="1.8" ry="1.1" fill="#8c8298" transform="rotate(47 98.0 333.6)"/>
<ellipse cx="96.6" cy="329.5" rx="1.4" ry="1.1" fill="#b2aabc" transform="rotate(66 96.6 329.5)"/>
<ellipse cx="111.5" cy="348.2" rx="2.9" ry="0.9" fill="#6a6078" transform="rotate(18 111.5 348.2)"/>
<ellipse cx="90.4" cy="345.9" rx="1.9" ry="1.1" fill="#8c8298" transform="rotate(-51 90.4 345.9)"/>
<ellipse cx="111.5" cy="364.1" rx="1.9" ry="0.7" fill="#776c88" transform="rotate(-56 111.5 364.1)"/>
<ellipse cx="73.0" cy="331.3" rx="3.2" ry="0.9" fill="#8a7f98" transform="rotate(1 73.0 331.3)"/>
<ellipse cx="104.6" cy="339.5" rx="2.9" ry="1.3" fill="#b2aabc" transform="rotate(-12 104.6 339.5)"/>
<ellipse cx="119.0" cy="335.3" rx="1.7" ry="1.1" fill="#a59cb0" transform="rotate(-38 119.0 335.3)"/>
<ellipse cx="72.9" cy="339.6" rx="3.3" ry="1.2" fill="#8c8298" transform="rotate(-42 72.9 339.6)"/>
<ellipse cx="77.1" cy="342.2" rx="3.6" ry="0.7" fill="#6a6078" transform="rotate(31 77.1 342.2)"/>
<ellipse cx="94.8" cy="330.3" rx="3.0" ry="0.9" fill="#8c8298" transform="rotate(24 94.8 330.3)"/>
<ellipse cx="80.1" cy="370.4" rx="2.7" ry="0.8" fill="#a59cb0" transform="rotate(-27 80.1 370.4)"/>
<ellipse cx="74.5" cy="328.6" rx="2.7" ry="0.8" fill="#776c88" transform="rotate(62 74.5 328.6)"/>
<ellipse cx="66.5" cy="373.2" rx="3.3" ry="0.8" fill="#a59cb0" transform="rotate(51 66.5 373.2)"/>
<ellipse cx="79.2" cy="381.6" rx="2.8" ry="1.2" fill="#b2aabc" transform="rotate(-29 79.2 381.6)"/>
<ellipse cx="88.1" cy="378.9" rx="2.0" ry="0.7" fill="#8a7f98" transform="rotate(61 88.1 378.9)"/>
<ellipse cx="67.0" cy="378.9" rx="2.1" ry="0.9" fill="#a59cb0" transform="rotate(34 67.0 378.9)"/>
<ellipse cx="101.8" cy="375.2" rx="2.8" ry="1.2" fill="#b2aabc" transform="rotate(58 101.8 375.2)"/>
<ellipse cx="101.6" cy="349.5" rx="2.6" ry="0.8" fill="#a59cb0" transform="rotate(34 101.6 349.5)"/>
<ellipse cx="102.9" cy="344.1" rx="3.0" ry="0.8" fill="#6a6078" transform="rotate(-27 102.9 344.1)"/>
<ellipse cx="94.3" cy="346.6" rx="2.6" ry="1.1" fill="#776c88" transform="rotate(17 94.3 346.6)"/>
<ellipse cx="121.3" cy="347.6" rx="2.4" ry="0.8" fill="#a59cb0" transform="rotate(-59 121.3 347.6)"/>
<ellipse cx="79.3" cy="371.3" rx="1.9" ry="0.6" fill="#a59cb0" transform="rotate(73 79.3 371.3)"/>
<ellipse cx="107.3" cy="366.1" rx="2.6" ry="0.6" fill="#6a6078" transform="rotate(-52 107.3 366.1)"/>
<ellipse cx="95.9" cy="339.4" rx="1.8" ry="1.3" fill="#8a7f98" transform="rotate(-19 95.9 339.4)"/>
<ellipse cx="97.2" cy="331.7" rx="1.4" ry="1.0" fill="#776c88" transform="rotate(-67 97.2 331.7)"/>
<ellipse cx="92.8" cy="372.8" rx="1.4" ry="1.0" fill="#a59cb0" transform="rotate(-30 92.8 372.8)"/>
<ellipse cx="75.3" cy="373.7" rx="2.2" ry="0.8" fill="#a59cb0" transform="rotate(25 75.3 373.7)"/>
<ellipse cx="99.0" cy="343.8" rx="1.8" ry="0.9" fill="#8c8298" transform="rotate(50 99.0 343.8)"/>
<ellipse cx="108.6" cy="349.7" rx="3.3" ry="0.6" fill="#b2aabc" transform="rotate(30 108.6 349.7)"/>
<ellipse cx="92.1" cy="349.2" rx="2.5" ry="0.7" fill="#776c88" transform="rotate(19 92.1 349.2)"/>
<ellipse cx="73.1" cy="344.8" rx="1.5" ry="1.0" fill="#a59cb0" transform="rotate(31 73.1 344.8)"/>
<ellipse cx="75.6" cy="326.6" rx="1.6" ry="1.2" fill="#8c8298" transform="rotate(51 75.6 326.6)"/>
<ellipse cx="114.7" cy="377.9" rx="2.8" ry="0.9" fill="#6a6078" transform="rotate(-12 114.7 377.9)"/>
<ellipse cx="94.5" cy="347.0" rx="1.9" ry="1.2" fill="#8a7f98" transform="rotate(-10 94.5 347.0)"/>
<ellipse cx="74.2" cy="377.4" rx="2.4" ry="1.1" fill="#8c8298" transform="rotate(38 74.2 377.4)"/>
<ellipse cx="83.5" cy="341.9" rx="1.8" ry="0.8" fill="#8c8298" transform="rotate(-25 83.5 341.9)"/>
<ellipse cx="66.2" cy="339.0" rx="2.8" ry="0.7" fill="#8a7f98" transform="rotate(-56 66.2 339.0)"/>
<ellipse cx="87.9" cy="341.2" rx="2.9" ry="1.0" fill="#b2aabc" transform="rotate(56 87.9 341.2)"/>
<ellipse cx="124.8" cy="328.4" rx="3.3" ry="0.8" fill="#6a6078" transform="rotate(31 124.8 328.4)"/>
<ellipse cx="77.0" cy="372.3" rx="1.5" ry="1.1" fill="#6a6078" transform="rotate(24 77.0 372.3)"/>
<ellipse cx="107.1" cy="364.9" rx="2.3" ry="0.7" fill="#8c8298" transform="rotate(-68 107.1 364.9)"/>
<ellipse cx="81.5" cy="339.1" rx="3.0" ry="1.2" fill="#6a6078" transform="rotate(63 81.5 339.1)"/>
<ellipse cx="119.3" cy="327.2" rx="2.6" ry="0.7" fill="#8a7f98" transform="rotate(-5 119.3 327.2)"/>
<ellipse cx="115.6" cy="364.6" rx="3.3" ry="1.3" fill="#a59cb0" transform="rotate(7 115.6 364.6)"/>
<ellipse cx="73.3" cy="336.2" rx="1.4" ry="0.8" fill="#776c88" transform="rotate(-29 73.3 336.2)"/>
<ellipse cx="90.3" cy="350.6" rx="1.9" ry="1.2" fill="#a59cb0" transform="rotate(-4 90.3 350.6)"/>
<ellipse cx="111.1" cy="335.0" rx="2.8" ry="1.3" fill="#8c8298" transform="rotate(-56 111.1 335.0)"/>
<ellipse cx="66.4" cy="352.1" rx="2.3" ry="1.1" fill="#6a6078" transform="rotate(24 66.4 352.1)"/>
<ellipse cx="104.2" cy="369.4" rx="2.4" ry="0.8" fill="#b2aabc" transform="rotate(69 104.2 369.4)"/>
<ellipse cx="70.5" cy="326.7" rx="1.8" ry="0.8" fill="#776c88" transform="rotate(-35 70.5 326.7)"/>
<ellipse cx="99.3" cy="379.1" rx="2.8" ry="1.0" fill="#8c8298" transform="rotate(56 99.3 379.1)"/>
<ellipse cx="99.9" cy="367.7" rx="3.5" ry="1.3" fill="#b2aabc" transform="rotate(30 99.9 367.7)"/>
<ellipse cx="79.3" cy="327.4" rx="1.5" ry="0.6" fill="#776c88" transform="rotate(-33 79.3 327.4)"/>
<ellipse cx="79.0" cy="361.9" rx="2.2" ry="0.9" fill="#8a7f98" transform="rotate(-78 79.0 361.9)"/>
<ellipse cx="74.0" cy="345.8" rx="1.7" ry="0.8" fill="#b2aabc" transform="rotate(-21 74.0 345.8)"/>
<ellipse cx="74.9" cy="366.4" rx="2.7" ry="0.8" fill="#6a6078" transform="rotate(-34 74.9 366.4)"/>
<ellipse cx="107.1" cy="326.6" rx="2.0" ry="1.2" fill="#a59cb0" transform="rotate(-80 107.1 326.6)"/>
<ellipse cx="108.3" cy="372.7" rx="1.7" ry="1.1" fill="#8c8298" transform="rotate(-74 108.3 372.7)"/>
<ellipse cx="97.2" cy="351.0" rx="2.2" ry="1.1" fill="#a59cb0" transform="rotate(-15 97.2 351.0)"/>
<ellipse cx="84.0" cy="371.5" rx="3.1" ry="1.0" fill="#6a6078" transform="rotate(9 84.0 371.5)"/>
<ellipse cx="96.7" cy="361.9" rx="2.5" ry="1.1" fill="#8a7f98" transform="rotate(-69 96.7 361.9)"/>
<ellipse cx="117.1" cy="360.6" rx="3.2" ry="1.1" fill="#776c88" transform="rotate(-22 117.1 360.6)"/>
<ellipse cx="117.0" cy="362.4" rx="2.3" ry="0.7" fill="#8a7f98" transform="rotate(-32 117.0 362.4)"/>
<ellipse cx="108.6" cy="343.3" rx="1.9" ry="1.2" fill="#776c88" transform="rotate(10 108.6 343.3)"/>
<ellipse cx="105.2" cy="326.6" rx="2.9" ry="1.0" fill="#a59cb0" transform="rotate(6 105.2 326.6)"/>
<ellipse cx="110.0" cy="348.6" rx="1.6" ry="1.3" fill="#776c88" transform="rotate(59 110.0 348.6)"/>
<ellipse cx="97.2" cy="355.6" rx="3.0" ry="1.0" fill="#8c8298" transform="rotate(69 97.2 355.6)"/>
<ellipse cx="95.4" cy="366.6" rx="1.6" ry="1.2" fill="#6a6078" transform="rotate(7 95.4 366.6)"/>
<ellipse cx="74.2" cy="377.4" rx="2.3" ry="1.1" fill="#8a7f98" transform="rotate(-15 74.2 377.4)"/>
<ellipse cx="80.3" cy="354.5" rx="3.4" ry="1.0" fill="#8a7f98" transform="rotate(-4 80.3 354.5)"/>
<ellipse cx="112.0" cy="382.1" rx="2.3" ry="0.7" fill="#b2aabc" transform="rotate(-11 112.0 382.1)"/>
<ellipse cx="84.6" cy="329.6" rx="2.0" ry="0.8" fill="#8c8298" transform="rotate(-75 84.6 329.6)"/>
<ellipse cx="67.5" cy="336.6" rx="2.4" ry="1.1" fill="#8c8298" transform="rotate(-33 67.5 336.6)"/>
<ellipse cx="81.7" cy="373.0" rx="1.6" ry="0.7" fill="#8c8298" transform="rotate(-5 81.7 373.0)"/>
<ellipse cx="90.2" cy="371.5" rx="3.4" ry="0.9" fill="#776c88" transform="rotate(50 90.2 371.5)"/>
<ellipse cx="115.8" cy="349.5" rx="1.9" ry="0.9" fill="#8c8298" transform="rotate(64 115.8 349.5)"/>
<ellipse cx="93.4" cy="371.9" rx="2.1" ry="0.7" fill="#8a7f98" transform="rotate(14 93.4 371.9)"/>
<ellipse cx="102.5" cy="371.9" rx="2.5" ry="1.2" fill="#776c88" transform="rotate(-1 102.5 371.9)"/>
<ellipse cx="79.0" cy="353.0" rx="2.1" ry="1.2" fill="#776c88" transform="rotate(22 79.0 353.0)"/>
<ellipse cx="95.3" cy="355.6" rx="3.3" ry="1.0" fill="#776c88" transform="rotate(-35 95.3 355.6)"/>
<ellipse cx="103.5" cy="348.4" rx="2.2" ry="1.1" fill="#8a7f98" transform="rotate(-28 103.5 348.4)"/>
<ellipse cx="123.7" cy="368.0" rx="1.8" ry="1.2" fill="#8c8298" transform="rotate(52 123.7 368.0)"/>
<ellipse cx="111.7" cy="381.1" rx="2.5" ry="1.2" fill="#b2aabc" transform="rotate(4 111.7 381.1)"/>
<ellipse cx="97.8" cy="374.5" rx="3.5" ry="1.2" fill="#b2aabc" transform="rotate(-62 97.8 374.5)"/>
<ellipse cx="111.9" cy="368.2" rx="1.7" ry="1.2" fill="#8a7f98" transform="rotate(-21 111.9 368.2)"/>
<ellipse cx="99.5" cy="332.9" rx="1.9" ry="0.6" fill="#8c8298" transform="rotate(31 99.5 332.9)"/>
<ellipse cx="103.2" cy="337.5" rx="2.7" ry="0.6" fill="#776c88" transform="rotate(-73 103.2 337.5)"/>
<ellipse cx="74.6" cy="344.1" rx="1.6" ry="1.0" fill="#a59cb0" transform="rotate(-31 74.6 344.1)"/>
<ellipse cx="98.8" cy="358.2" rx="3.5" ry="1.3" fill="#8a7f98" transform="rotate(71 98.8 358.2)"/>
<ellipse cx="115.2" cy="381.6" rx="3.3" ry="1.2" fill="#a59cb0" transform="rotate(-78 115.2 381.6)"/>
<ellipse cx="68.2" cy="378.9" rx="2.3" ry="0.9" fill="#6a6078" transform="rotate(-38 68.2 378.9)"/>
<ellipse cx="98.0" cy="381.2" rx="2.5" ry="0.7" fill="#6a6078" transform="rotate(7 98.0 381.2)"/>
<ellipse cx="114.1" cy="354.2" rx="2.2" ry="1.2" fill="#b2aabc" transform="rotate(28 114.1 354.2)"/>
<ellipse cx="76.1" cy="377.2" rx="2.6" ry="0.8" fill="#776c88" transform="rotate(-80 76.1 377.2)"/>
<ellipse cx="73.6" cy="382.6" rx="2.8" ry="0.6" fill="#6a6078" transform="rotate(41 73.6 382.6)"/>
<ellipse cx="68.8" cy="384.4" rx="1.8" ry="1.0" fill="#b2aabc" transform="rotate(35 68.8 384.4)"/>
<ellipse cx="105.6" cy="348.7" rx="3.5" ry="1.3" fill="#8a7f98" transform="rotate(61 105.6 348.7)"/>
<ellipse cx="124.4" cy="373.5" rx="2.4" ry="0.8" fill="#a59cb0" transform="rotate(67 124.4 373.5)"/>
<ellipse cx="83.8" cy="372.4" rx="2.2" ry="0.6" fill="#8c8298" transform="rotate(-15 83.8 372.4)"/>
<ellipse cx="78.5" cy="359.2" rx="2.2" ry="0.9" fill="#6a6078" transform="rotate(-32 78.5 359.2)"/>
<ellipse cx="119.7" cy="331.0" rx="2.5" ry="0.7" fill="#8c8298" transform="rotate(62 119.7 331.0)"/>
<ellipse cx="123.2" cy="339.0" rx="1.8" ry="0.9" fill="#8c8298" transform="rotate(-54 123.2 339.0)"/>
<ellipse cx="94.6" cy="379.5" rx="2.1" ry="1.2" fill="#a59cb0" transform="rotate(80 94.6 379.5)"/>
<ellipse cx="97.5" cy="373.1" rx="2.1" ry="0.8" fill="#6a6078" transform="rotate(12 97.5 373.1)"/>
<ellipse cx="111.9" cy="367.9" rx="2.3" ry="1.1" fill="#776c88" transform="rotate(-59 111.9 367.9)"/>
<ellipse cx="101.4" cy="356.3" rx="1.5" ry="1.2" fill="#a59cb0" transform="rotate(7 101.4 356.3)"/>
<ellipse cx="101.8" cy="345.8" rx="2.7" ry="0.8" fill="#a59cb0" transform="rotate(-78 101.8 345.8)"/>
<ellipse cx="111.6" cy="379.1" rx="2.7" ry="1.0" fill="#776c88" transform="rotate(-76 111.6 379.1)"/>
<ellipse cx="73.1" cy="349.3" rx="3.5" ry="1.2" fill="#8c8298" transform="rotate(-62 73.1 349.3)"/>
<ellipse cx="116.9" cy="372.2" rx="3.0" ry="0.8" fill="#a59cb0" transform="rotate(55 116.9 372.2)"/>
<ellipse cx="81.5" cy="373.1" rx="2.1" ry="1.0" fill="#6a6078" transform="rotate(15 81.5 373.1)"/>
<ellipse cx="110.1" cy="354.9" rx="2.2" ry="1.1" fill="#b2aabc" transform="rotate(71 110.1 354.9)"/>
<ellipse cx="86.2" cy="334.9" rx="1.9" ry="1.1" fill="#a59cb0" transform="rotate(15 86.2 334.9)"/>
<ellipse cx="122.4" cy="339.2" rx="3.3" ry="1.1" fill="#776c88" transform="rotate(-19 122.4 339.2)"/>
<ellipse cx="117.0" cy="377.3" rx="2.8" ry="1.1" fill="#776c88" transform="rotate(3 117.0 377.3)"/>
<ellipse cx="99.8" cy="339.2" rx="2.5" ry="1.1" fill="#6a6078" transform="rotate(-36 99.8 339.2)"/>
<ellipse cx="74.0" cy="369.1" rx="1.6" ry="1.2" fill="#6a6078" transform="rotate(-46 74.0 369.1)"/>
<ellipse cx="79.4" cy="340.7" rx="3.1" ry="0.6" fill="#6a6078" transform="rotate(56 79.4 340.7)"/>
<ellipse cx="113.3" cy="372.9" rx="2.3" ry="1.0" fill="#a59cb0" transform="rotate(74 113.3 372.9)"/>
<ellipse cx="101.2" cy="335.4" rx="1.9" ry="0.9" fill="#8c8298" transform="rotate(66 101.2 335.4)"/>
<ellipse cx="104.3" cy="365.2" rx="2.2" ry="1.2" fill="#a59cb0" transform="rotate(44 104.3 365.2)"/>
<ellipse cx="77.1" cy="374.5" rx="1.7" ry="0.7" fill="#8a7f98" transform="rotate(52 77.1 374.5)"/>
<ellipse cx="87.7" cy="342.7" rx="2.0" ry="1.0" fill="#a59cb0" transform="rotate(11 87.7 342.7)"/>
<ellipse cx="106.4" cy="345.9" rx="2.7" ry="1.0" fill="#b2aabc" transform="rotate(-46 106.4 345.9)"/>
<ellipse cx="110.3" cy="330.5" rx="2.5" ry="0.9" fill="#b2aabc" transform="rotate(-23 110.3 330.5)"/>
<ellipse cx="122.1" cy="356.2" rx="2.8" ry="0.6" fill="#6a6078" transform="rotate(58 122.1 356.2)"/>
<ellipse cx="97.4" cy="384.2" rx="1.6" ry="1.2" fill="#a59cb0" transform="rotate(-32 97.4 384.2)"/>
<ellipse cx="119.6" cy="372.0" rx="1.8" ry="1.2" fill="#6a6078" transform="rotate(36 119.6 372.0)"/>
<ellipse cx="80.5" cy="339.8" rx="2.4" ry="0.8" fill="#776c88" transform="rotate(63 80.5 339.8)"/>
<ellipse cx="92.6" cy="329.2" rx="2.3" ry="1.1" fill="#8a7f98" transform="rotate(19 92.6 329.2)"/>
<ellipse cx="122.5" cy="381.4" rx="1.6" ry="0.6" fill="#a59cb0" transform="rotate(-5 122.5 381.4)"/>
<ellipse cx="94.2" cy="355.3" rx="3.4" ry="0.8" fill="#8a7f98" transform="rotate(-38 94.2 355.3)"/>
<ellipse cx="111.3" cy="377.2" rx="1.6" ry="1.1" fill="#8c8298" transform="rotate(53 111.3 377.2)"/>
<ellipse cx="69.3" cy="346.8" rx="3.0" ry="0.9" fill="#a59cb0" transform="rotate(-11 69.3 346.8)"/>
<ellipse cx="86.5" cy="351.5" rx="1.9" ry="1.3" fill="#8c8298" transform="rotate(68 86.5 351.5)"/>
<ellipse cx="85.8" cy="367.6" rx="2.4" ry="1.0" fill="#776c88" transform="rotate(-49 85.8 367.6)"/>
<ellipse cx="117.7" cy="351.2" rx="2.7" ry="0.8" fill="#a59cb0" transform="rotate(-45 117.7 351.2)"/>
<ellipse cx="112.4" cy="364.9" rx="3.4" ry="1.3" fill="#8c8298" transform="rotate(-52 112.4 364.9)"/>
<ellipse cx="114.1" cy="332.0" rx="3.2" ry="1.2" fill="#776c88" transform="rotate(53 114.1 332.0)"/>
<ellipse cx="118.6" cy="377.4" rx="2.8" ry="1.2" fill="#8a7f98" transform="rotate(71 118.6 377.4)"/>
<ellipse cx="96.6" cy="375.7" rx="3.4" ry="1.1" fill="#a59cb0" transform="rotate(50 96.6 375.7)"/>
<ellipse cx="98.1" cy="333.5" rx="2.6" ry="0.9" fill="#6a6078" transform="rotate(-74 98.1 333.5)"/>
<ellipse cx="72.2" cy="380.8" rx="2.4" ry="1.1" fill="#8c8298" transform="rotate(-59 72.2 380.8)"/>
<ellipse cx="97.8" cy="336.2" rx="2.3" ry="0.9" fill="#6a6078" transform="rotate(-55 97.8 336.2)"/>
<ellipse cx="121.6" cy="329.6" rx="2.6" ry="1.2" fill="#b2aabc" transform="rotate(-49 121.6 329.6)"/>
<ellipse cx="116.0" cy="365.1" rx="2.1" ry="1.2" fill="#776c88" transform="rotate(-60 116.0 365.1)"/>
<ellipse cx="105.3" cy="327.5" rx="2.0" ry="1.3" fill="#a59cb0" transform="rotate(-27 105.3 327.5)"/>
<ellipse cx="101.4" cy="384.0" rx="1.9" ry="0.9" fill="#6a6078" transform="rotate(11 101.4 384.0)"/>
<ellipse cx="111.3" cy="374.1" rx="3.0" ry="0.7" fill="#8c8298" transform="rotate(6 111.3 374.1)"/>
<ellipse cx="72.2" cy="367.5" rx="2.9" ry="1.1" fill="#8a7f98" transform="rotate(17 72.2 367.5)"/>
<ellipse cx="88.8" cy="377.5" rx="3.3" ry="0.8" fill="#8c8298" transform="rotate(-41 88.8 377.5)"/>
<ellipse cx="86.6" cy="370.0" rx="2.1" ry="0.9" fill="#a59cb0" transform="rotate(63 86.6 370.0)"/>
<ellipse cx="78.1" cy="361.5" rx="2.3" ry="1.2" fill="#a59cb0" transform="rotate(7 78.1 361.5)"/>
<ellipse cx="118.2" cy="365.6" rx="1.5" ry="1.0" fill="#776c88" transform="rotate(-59 118.2 365.6)"/>
<ellipse cx="105.9" cy="355.3" rx="3.4" ry="0.9" fill="#8a7f98" transform="rotate(-34 105.9 355.3)"/>
<ellipse cx="85.7" cy="343.0" rx="2.2" ry="0.8" fill="#8a7f98" transform="rotate(-39 85.7 343.0)"/>
<ellipse cx="69.9" cy="368.4" rx="2.2" ry="1.2" fill="#a59cb0" transform="rotate(35 69.9 368.4)"/>
<ellipse cx="77.9" cy="360.4" rx="1.7" ry="0.6" fill="#a59cb0" transform="rotate(-37 77.9 360.4)"/>
<ellipse cx="113.7" cy="333.0" rx="2.5" ry="1.0" fill="#b2aabc" transform="rotate(-4 113.7 333.0)"/>
<ellipse cx="106.7" cy="344.6" rx="2.1" ry="0.9" fill="#8c8298" transform="rotate(-22 106.7 344.6)"/>
<ellipse cx="111.3" cy="334.7" rx="2.1" ry="0.8" fill="#776c88" transform="rotate(21 111.3 334.7)"/>
<ellipse cx="79.1" cy="367.7" rx="1.6" ry="1.0" fill="#a59cb0" transform="rotate(-10 79.1 367.7)"/>
<ellipse cx="70.9" cy="333.2" rx="1.8" ry="0.7" fill="#6a6078" transform="rotate(-12 70.9 333.2)"/>
<ellipse cx="68.5" cy="355.8" rx="2.3" ry="0.7" fill="#a59cb0" transform="rotate(-31 68.5 355.8)"/>
<ellipse cx="80.1" cy="347.4" rx="2.3" ry="1.2" fill="#a59cb0" transform="rotate(75 80.1 347.4)"/>
<ellipse cx="80.0" cy="345.7" rx="2.1" ry="0.9" fill="#8a7f98" transform="rotate(69 80.0 345.7)"/>
<ellipse cx="121.9" cy="368.7" rx="3.4" ry="1.0" fill="#b2aabc" transform="rotate(-41 121.9 368.7)"/>
<ellipse cx="108.7" cy="345.2" rx="1.7" ry="0.7" fill="#6a6078" transform="rotate(18 108.7 345.2)"/>
<ellipse cx="86.3" cy="373.4" rx="3.4" ry="0.8" fill="#776c88" transform="rotate(74 86.3 373.4)"/>
<ellipse cx="85.3" cy="363.0" rx="3.4" ry="1.2" fill="#a59cb0" transform="rotate(-73 85.3 363.0)"/>
<ellipse cx="96.7" cy="359.4" rx="3.5" ry="1.2" fill="#776c88" transform="rotate(-19 96.7 359.4)"/>
<ellipse cx="110.1" cy="344.8" rx="1.4" ry="0.6" fill="#b2aabc" transform="rotate(-72 110.1 344.8)"/>
<ellipse cx="92.2" cy="341.5" rx="2.8" ry="0.9" fill="#776c88" transform="rotate(-46 92.2 341.5)"/>
<ellipse cx="97.8" cy="383.8" rx="2.6" ry="1.3" fill="#8a7f98" transform="rotate(-55 97.8 383.8)"/>
<ellipse cx="119.8" cy="369.9" rx="1.8" ry="0.7" fill="#8a7f98" transform="rotate(43 119.8 369.9)"/>
<ellipse cx="75.9" cy="357.1" rx="3.0" ry="0.7" fill="#8a7f98" transform="rotate(69 75.9 357.1)"/>
<ellipse cx="95.2" cy="341.2" rx="1.5" ry="0.8" fill="#b2aabc" transform="rotate(58 95.2 341.2)"/>
<ellipse cx="88.0" cy="341.5" rx="3.4" ry="1.3" fill="#a59cb0" transform="rotate(-64 88.0 341.5)"/>
<ellipse cx="115.4" cy="376.7" rx="2.9" ry="0.8" fill="#8c8298" transform="rotate(-16 115.4 376.7)"/>
<ellipse cx="84.8" cy="365.8" rx="2.3" ry="0.9" fill="#b2aabc" transform="rotate(-56 84.8 365.8)"/>
<ellipse cx="74.8" cy="328.5" rx="3.4" ry="1.0" fill="#a59cb0" transform="rotate(-13 74.8 328.5)"/>
<ellipse cx="67.9" cy="339.3" rx="2.7" ry="1.1" fill="#b2aabc" transform="rotate(38 67.9 339.3)"/>
<ellipse cx="74.2" cy="361.1" rx="3.0" ry="1.1" fill="#b2aabc" transform="rotate(35 74.2 361.1)"/>
<ellipse cx="89.4" cy="333.4" rx="3.1" ry="1.1" fill="#b2aabc" transform="rotate(-1 89.4 333.4)"/>
<ellipse cx="86.2" cy="326.0" rx="3.2" ry="0.8" fill="#8a7f98" transform="rotate(29 86.2 326.0)"/>
<ellipse cx="84.0" cy="350.3" rx="3.2" ry="1.2" fill="#6a6078" transform="rotate(-39 84.0 350.3)"/>
<ellipse cx="94.9" cy="356.0" rx="1.7" ry="1.0" fill="#b2aabc" transform="rotate(-70 94.9 356.0)"/>
<ellipse cx="92.2" cy="332.0" rx="2.6" ry="1.1" fill="#8a7f98" transform="rotate(-39 92.2 332.0)"/>
<ellipse cx="99.2" cy="372.6" rx="2.6" ry="1.3" fill="#776c88" transform="rotate(-70 99.2 372.6)"/>
<ellipse cx="86.8" cy="353.4" rx="1.8" ry="1.2" fill="#a59cb0" transform="rotate(-69 86.8 353.4)"/>
<ellipse cx="120.7" cy="359.3" rx="3.2" ry="0.9" fill="#8c8298" transform="rotate(-0 120.7 359.3)"/>
<ellipse cx="83.5" cy="329.7" rx="2.3" ry="1.0" fill="#6a6078" transform="rotate(-48 83.5 329.7)"/>
<ellipse cx="78.9" cy="349.7" rx="3.4" ry="0.8" fill="#776c88" transform="rotate(58 78.9 349.7)"/>
<ellipse cx="110.5" cy="345.3" rx="2.0" ry="1.2" fill="#8a7f98" transform="rotate(-50 110.5 345.3)"/>
<ellipse cx="71.3" cy="338.8" rx="1.9" ry="1.0" fill="#b2aabc" transform="rotate(-75 71.3 338.8)"/>
<ellipse cx="99.1" cy="349.9" rx="1.9" ry="1.1" fill="#776c88" transform="rotate(76 99.1 349.9)"/>
<ellipse cx="82.0" cy="355.8" rx="1.8" ry="1.2" fill="#8c8298" transform="rotate(38 82.0 355.8)"/>
<ellipse cx="121.3" cy="329.8" rx="2.6" ry="0.7" fill="#6a6078" transform="rotate(45 121.3 329.8)"/>
<ellipse cx="80.5" cy="359.9" rx="2.2" ry="0.9" fill="#776c88" transform="rotate(-7 80.5 359.9)"/>
<ellipse cx="100.3" cy="328.7" rx="1.5" ry="0.9" fill="#8c8298" transform="rotate(-72 100.3 328.7)"/>
<ellipse cx="79.0" cy="375.6" rx="2.3" ry="0.8" fill="#a59cb0" transform="rotate(69 79.0 375.6)"/>
<ellipse cx="106.5" cy="332.3" rx="1.9" ry="1.2" fill="#a59cb0" transform="rotate(-5 106.5 332.3)"/>
<ellipse cx="119.1" cy="365.5" rx="2.4" ry="1.0" fill="#a59cb0" transform="rotate(-1 119.1 365.5)"/>
<ellipse cx="79.4" cy="340.2" rx="3.0" ry="1.1" fill="#776c88" transform="rotate(-66 79.4 340.2)"/>
<ellipse cx="74.4" cy="370.8" rx="3.3" ry="1.0" fill="#8a7f98" transform="rotate(33 74.4 370.8)"/>
<ellipse cx="97.8" cy="361.8" rx="1.4" ry="0.7" fill="#b2aabc" transform="rotate(-37 97.8 361.8)"/>
<ellipse cx="92.6" cy="350.7" rx="2.1" ry="1.2" fill="#a59cb0" transform="rotate(69 92.6 350.7)"/>
<ellipse cx="98.2" cy="341.1" rx="1.5" ry="1.0" fill="#8a7f98" transform="rotate(-33 98.2 341.1)"/>
<ellipse cx="107.9" cy="359.2" rx="2.3" ry="1.2" fill="#6a6078" transform="rotate(24 107.9 359.2)"/>
<ellipse cx="121.4" cy="333.4" rx="2.2" ry="1.0" fill="#8c8298" transform="rotate(11 121.4 333.4)"/>
<ellipse cx="66.4" cy="359.6" rx="3.5" ry="0.9" fill="#b2aabc" transform="rotate(-26 66.4 359.6)"/>
<ellipse cx="84.7" cy="355.8" rx="2.1" ry="0.7" fill="#8a7f98" transform="rotate(-73 84.7 355.8)"/>
<ellipse cx="98.2" cy="360.4" rx="2.7" ry="0.9" fill="#a59cb0" transform="rotate(62 98.2 360.4)"/>
<ellipse cx="109.9" cy="371.1" rx="2.8" ry="1.0" fill="#8a7f98" transform="rotate(-47 109.9 371.1)"/>
<ellipse cx="105.8" cy="349.4" rx="2.4" ry="0.8" fill="#a59cb0" transform="rotate(-74 105.8 349.4)"/>
<ellipse cx="114.0" cy="343.9" rx="2.4" ry="1.0" fill="#6a6078" transform="rotate(7 114.0 343.9)"/>
<ellipse cx="118.8" cy="336.7" rx="3.1" ry="0.7" fill="#776c88" transform="rotate(-51 118.8 336.7)"/>
<ellipse cx="82.3" cy="384.7" rx="3.5" ry="1.1" fill="#776c88" transform="rotate(37 82.3 384.7)"/>
<ellipse cx="80.9" cy="376.6" rx="1.8" ry="1.3" fill="#b2aabc" transform="rotate(0 80.9 376.6)"/>
<ellipse cx="121.2" cy="375.9" rx="3.5" ry="0.8" fill="#8c8298" transform="rotate(-21 121.2 375.9)"/>
<ellipse cx="104.5" cy="367.5" rx="3.2" ry="0.9" fill="#8c8298" transform="rotate(9 104.5 367.5)"/>
<ellipse cx="82.3" cy="352.3" rx="1.5" ry="1.0" fill="#6a6078" transform="rotate(76 82.3 352.3)"/>
<ellipse cx="75.2" cy="383.3" rx="3.3" ry="1.3" fill="#b2aabc" transform="rotate(-16 75.2 383.3)"/>
<ellipse cx="77.5" cy="356.0" rx="2.9" ry="0.8" fill="#776c88" transform="rotate(36 77.5 356.0)"/>
<ellipse cx="76.7" cy="347.4" rx="1.8" ry="1.2" fill="#b2aabc" transform="rotate(18 76.7 347.4)"/>
<ellipse cx="74.9" cy="337.7" rx="1.6" ry="1.1" fill="#b2aabc" transform="rotate(-67 74.9 337.7)"/>
<ellipse cx="84.8" cy="373.9" rx="1.7" ry="0.6" fill="#8c8298" transform="rotate(64 84.8 373.9)"/>
<ellipse cx="90.8" cy="382.7" rx="2.5" ry="0.7" fill="#8a7f98" transform="rotate(25 90.8 382.7)"/>
<ellipse cx="115.1" cy="329.2" rx="3.1" ry="1.0" fill="#a59cb0" transform="rotate(20 115.1 329.2)"/>
<ellipse cx="84.3" cy="326.0" rx="2.6" ry="0.9" fill="#6a6078" transform="rotate(14 84.3 326.0)"/>
<ellipse cx="85.8" cy="339.4" rx="1.5" ry="1.0" fill="#a59cb0" transform="rotate(76 85.8 339.4)"/>
<ellipse cx="81.8" cy="355.0" rx="2.2" ry="0.7" fill="#776c88" transform="rotate(23 81.8 355.0)"/>
<ellipse cx="110.4" cy="376.0" rx="1.9" ry="1.2" fill="#8a7f98" transform="rotate(-76 110.4 376.0)"/>
<ellipse cx="68.9" cy="337.4" rx="3.4" ry="0.7" fill="#8a7f98" transform="rotate(32 68.9 337.4)"/>
<ellipse cx="68.8" cy="370.3" rx="3.2" ry="0.7" fill="#a59cb0" transform="rotate(24 68.8 370.3)"/>
<ellipse cx="90.3" cy="379.9" rx="2.9" ry="1.2" fill="#8a7f98" transform="rotate(-8 90.3 379.9)"/>
<ellipse cx="99.6" cy="329.8" rx="1.4" ry="1.2" fill="#6a6078" transform="rotate(20 99.6 329.8)"/>
<ellipse cx="103.6" cy="352.4" rx="3.3" ry="0.7" fill="#a59cb0" transform="rotate(4 103.6 352.4)"/>
<ellipse cx="113.0" cy="379.0" rx="2.1" ry="0.8" fill="#8c8298" transform="rotate(56 113.0 379.0)"/>
<ellipse cx="112.0" cy="377.3" rx="3.5" ry="1.1" fill="#8c8298" transform="rotate(-10 112.0 377.3)"/>
<ellipse cx="113.0" cy="382.6" rx="3.1" ry="1.1" fill="#8a7f98" transform="rotate(60 113.0 382.6)"/>
<ellipse cx="66.4" cy="345.9" rx="3.2" ry="0.9" fill="#a59cb0" transform="rotate(35 66.4 345.9)"/>
<ellipse cx="79.5" cy="355.1" rx="2.2" ry="1.1" fill="#b2aabc" transform="rotate(36 79.5 355.1)"/>
<ellipse cx="96.5" cy="356.5" rx="1.5" ry="1.1" fill="#8c8298" transform="rotate(-4 96.5 356.5)"/>
<ellipse cx="67.7" cy="343.3" rx="2.7" ry="0.6" fill="#8c8298" transform="rotate(-53 67.7 343.3)"/>
<ellipse cx="100.1" cy="370.3" rx="2.4" ry="1.3" fill="#8a7f98" transform="rotate(-17 100.1 370.3)"/>
<ellipse cx="101.6" cy="351.0" rx="2.5" ry="1.1" fill="#8c8298" transform="rotate(-40 101.6 351.0)"/>
<ellipse cx="85.6" cy="361.6" rx="3.6" ry="0.9" fill="#8c8298" transform="rotate(-11 85.6 361.6)"/>
<ellipse cx="100.0" cy="358.2" rx="3.6" ry="1.1" fill="#a59cb0" transform="rotate(20 100.0 358.2)"/>
<ellipse cx="82.7" cy="326.6" rx="1.7" ry="1.2" fill="#8c8298" transform="rotate(-54 82.7 326.6)"/>
<ellipse cx="81.8" cy="326.0" rx="1.8" ry="1.2" fill="#8c8298" transform="rotate(41 81.8 326.0)"/>
<ellipse cx="111.5" cy="347.9" rx="2.5" ry="1.2" fill="#b2aabc" transform="rotate(-12 111.5 347.9)"/>
<ellipse cx="96.4" cy="339.1" rx="2.9" ry="0.7" fill="#b2aabc" transform="rotate(6 96.4 339.1)"/>
<ellipse cx="74.8" cy="366.2" rx="3.0" ry="0.8" fill="#b2aabc" transform="rotate(4 74.8 366.2)"/>
<ellipse cx="89.0" cy="336.9" rx="1.6" ry="1.0" fill="#a59cb0" transform="rotate(-40 89.0 336.9)"/>
<ellipse cx="122.9" cy="367.3" rx="2.0" ry="0.6" fill="#b2aabc" transform="rotate(-0 122.9 367.3)"/>
<ellipse cx="90.9" cy="341.5" rx="3.5" ry="0.6" fill="#8a7f98" transform="rotate(-55 90.9 341.5)"/>
<ellipse cx="82.4" cy="371.6" rx="3.4" ry="0.6" fill="#b2aabc" transform="rotate(8 82.4 371.6)"/>
<ellipse cx="108.1" cy="349.3" rx="2.7" ry="1.0" fill="#8c8298" transform="rotate(-6 108.1 349.3)"/>
<ellipse cx="68.5" cy="330.0" rx="2.9" ry="0.7" fill="#a59cb0" transform="rotate(-1 68.5 330.0)"/>
<ellipse cx="86.4" cy="350.1" rx="3.3" ry="1.0" fill="#8c8298" transform="rotate(39 86.4 350.1)"/>
<ellipse cx="112.6" cy="350.8" rx="1.5" ry="1.1" fill="#8a7f98" transform="rotate(-35 112.6 350.8)"/>
<ellipse cx="73.1" cy="352.8" rx="1.8" ry="0.7" fill="#776c88" transform="rotate(-16 73.1 352.8)"/>
<ellipse cx="94.4" cy="333.3" rx="2.5" ry="0.8" fill="#8a7f98" transform="rotate(-7 94.4 333.3)"/>
<ellipse cx="69.1" cy="373.7" rx="2.5" ry="1.3" fill="#b2aabc" transform="rotate(74 69.1 373.7)"/>
<ellipse cx="89.3" cy="355.2" rx="1.9" ry="0.8" fill="#8c8298" transform="rotate(-55 89.3 355.2)"/>
<ellipse cx="73.9" cy="379.1" rx="1.7" ry="0.9" fill="#776c88" transform="rotate(36 73.9 379.1)"/>
<ellipse cx="68.8" cy="326.8" rx="2.0" ry="1.2" fill="#6a6078" transform="rotate(78 68.8 326.8)"/>
<ellipse cx="77.2" cy="353.5" rx="2.8" ry="1.3" fill="#8a7f98" transform="rotate(-44 77.2 353.5)"/>
<ellipse cx="81.5" cy="366.4" rx="3.0" ry="0.9" fill="#b2aabc" transform="rotate(-18 81.5 366.4)"/>
<ellipse cx="114.0" cy="360.3" rx="1.9" ry="0.7" fill="#776c88" transform="rotate(23 114.0 360.3)"/>
<ellipse cx="74.4" cy="358.8" rx="3.4" ry="1.0" fill="#b2aabc" transform="rotate(-70 74.4 358.8)"/>
<ellipse cx="106.2" cy="358.8" rx="2.3" ry="0.9" fill="#8c8298" transform="rotate(25 106.2 358.8)"/>
<ellipse cx="122.6" cy="365.6" rx="2.2" ry="0.6" fill="#776c88" transform="rotate(-52 122.6 365.6)"/>
<ellipse cx="87.5" cy="328.5" rx="1.7" ry="1.0" fill="#8a7f98" transform="rotate(75 87.5 328.5)"/>
<ellipse cx="113.8" cy="364.9" rx="2.9" ry="1.3" fill="#a59cb0" transform="rotate(-28 113.8 364.9)"/>
<ellipse cx="113.4" cy="377.1" rx="2.7" ry="1.1" fill="#8c8298" transform="rotate(-66 113.4 377.1)"/>
<ellipse cx="98.3" cy="359.1" rx="1.7" ry="1.1" fill="#a59cb0" transform="rotate(27 98.3 359.1)"/>
<ellipse cx="107.0" cy="378.7" rx="1.9" ry="0.7" fill="#6a6078" transform="rotate(26 107.0 378.7)"/>
<ellipse cx="121.2" cy="353.3" rx="2.1" ry="0.8" fill="#a59cb0" transform="rotate(18 121.2 353.3)"/>
<ellipse cx="119.9" cy="358.5" rx="1.8" ry="1.3" fill="#a59cb0" transform="rotate(-27 119.9 358.5)"/>
<ellipse cx="68.1" cy="383.9" rx="1.6" ry="0.6" fill="#6a6078" transform="rotate(68 68.1 383.9)"/>
<ellipse cx="115.0" cy="363.9" rx="1.4" ry="1.1" fill="#a59cb0" transform="rotate(55 115.0 363.9)"/>
<ellipse cx="92.3" cy="365.4" rx="2.9" ry="1.3" fill="#8c8298" transform="rotate(64 92.3 365.4)"/>
<ellipse cx="108.0" cy="347.9" rx="2.1" ry="1.0" fill="#6a6078" transform="rotate(-63 108.0 347.9)"/>
<ellipse cx="74.0" cy="354.5" rx="2.9" ry="1.2" fill="#6a6078" transform="rotate(0 74.0 354.5)"/>
<ellipse cx="74.6" cy="352.7" rx="3.3" ry="0.8" fill="#a59cb0" transform="rotate(-23 74.6 352.7)"/>
<ellipse cx="122.8" cy="380.7" rx="2.3" ry="1.0" fill="#8a7f98" transform="rotate(-43 122.8 380.7)"/>
<ellipse cx="68.9" cy="366.7" rx="1.9" ry="1.2" fill="#a59cb0" transform="rotate(-25 68.9 366.7)"/>
<ellipse cx="94.4" cy="329.3" rx="3.6" ry="1.1" fill="#8a7f98" transform="rotate(8 94.4 329.3)"/>
<ellipse cx="75.1" cy="365.5" rx="1.9" ry="0.6" fill="#8a7f98" transform="rotate(-50 75.1 365.5)"/>
<ellipse cx="124.9" cy="334.6" rx="1.6" ry="0.8" fill="#8a7f98" transform="rotate(70 124.9 334.6)"/>
<ellipse cx="72.9" cy="363.9" rx="2.3" ry="0.6" fill="#a59cb0" transform="rotate(-61 72.9 363.9)"/>
<ellipse cx="93.7" cy="336.8" rx="1.6" ry="1.0" fill="#776c88" transform="rotate(18 93.7 336.8)"/>
<ellipse cx="116.7" cy="333.0" rx="2.3" ry="0.8" fill="#a59cb0" transform="rotate(64 116.7 333.0)"/>
<ellipse cx="124.5" cy="341.0" rx="2.5" ry="1.3" fill="#8c8298" transform="rotate(-71 124.5 341.0)"/>
<ellipse cx="95.6" cy="369.8" rx="2.4" ry="0.9" fill="#8a7f98" transform="rotate(36 95.6 369.8)"/>
<ellipse cx="71.5" cy="381.8" rx="2.5" ry="0.8" fill="#6a6078" transform="rotate(-63 71.5 381.8)"/>
<ellipse cx="80.8" cy="347.8" rx="3.3" ry="1.1" fill="#776c88" transform="rotate(6 80.8 347.8)"/>
<ellipse cx="77.2" cy="335.8" rx="1.8" ry="1.3" fill="#776c88" transform="rotate(-62 77.2 335.8)"/>
<ellipse cx="91.4" cy="327.0" rx="2.3" ry="0.7" fill="#8a7f98" transform="rotate(-1 91.4 327.0)"/>
<ellipse cx="98.0" cy="347.6" rx="1.5" ry="1.2" fill="#8c8298" transform="rotate(-20 98.0 347.6)"/>
<ellipse cx="88.0" cy="342.2" rx="2.7" ry="0.7" fill="#6a6078" transform="rotate(79 88.0 342.2)"/>
<ellipse cx="80.1" cy="353.9" rx="2.3" ry="0.7" fill="#b2aabc" transform="rotate(-60 80.1 353.9)"/>
<ellipse cx="110.6" cy="374.5" rx="2.5" ry="1.2" fill="#a59cb0" transform="rotate(-70 110.6 374.5)"/>
<ellipse cx="99.2" cy="375.5" rx="2.4" ry="0.9" fill="#b2aabc" transform="rotate(-60 99.2 375.5)"/>
<ellipse cx="108.2" cy="369.4" rx="1.5" ry="0.8" fill="#6a6078" transform="rotate(-46 108.2 369.4)"/>
<ellipse cx="124.8" cy="346.2" rx="2.8" ry="0.6" fill="#b2aabc" transform="rotate(44 124.8 346.2)"/>
<ellipse cx="76.4" cy="374.8" rx="3.0" ry="1.2" fill="#8c8298" transform="rotate(-15 76.4 374.8)"/>
<ellipse cx="111.1" cy="366.4" rx="3.2" ry="0.9" fill="#6a6078" transform="rotate(78 111.1 366.4)"/>
<ellipse cx="69.8" cy="341.3" rx="1.6" ry="1.2" fill="#b2aabc" transform="rotate(-37 69.8 341.3)"/>
<ellipse cx="99.5" cy="382.9" rx="3.1" ry="0.8" fill="#8c8298" transform="rotate(-43 99.5 382.9)"/>
<ellipse cx="100.4" cy="358.5" rx="3.1" ry="0.9" fill="#a59cb0" transform="rotate(-17 100.4 358.5)"/>
<ellipse cx="113.6" cy="328.3" rx="1.8" ry="1.0" fill="#8a7f98" transform="rotate(13 113.6 328.3)"/>
<ellipse cx="86.7" cy="345.2" rx="2.9" ry="1.0" fill="#b2aabc" transform="rotate(4 86.7 345.2)"/>
<ellipse cx="106.6" cy="329.9" rx="2.6" ry="1.0" fill="#8c8298" transform="rotate(-45 106.6 329.9)"/>
<ellipse cx="115.3" cy="348.4" rx="1.7" ry="1.2" fill="#776c88" transform="rotate(-39 115.3 348.4)"/>
<ellipse cx="119.8" cy="353.3" rx="3.2" ry="1.0" fill="#a59cb0" transform="rotate(77 119.8 353.3)"/>
<ellipse cx="111.7" cy="346.5" rx="3.0" ry="0.6" fill="#a59cb0" transform="rotate(80 111.7 346.5)"/>
<ellipse cx="123.2" cy="356.1" rx="2.6" ry="1.2" fill="#b2aabc" transform="rotate(30 123.2 356.1)"/>
<ellipse cx="71.7" cy="335.7" rx="3.3" ry="0.7" fill="#b2aabc" transform="rotate(-67 71.7 335.7)"/>
<ellipse cx="99.3" cy="327.6" rx="2.4" ry="0.7" fill="#a59cb0" transform="rotate(7 99.3 327.6)"/>
<ellipse cx="117.9" cy="329.4" rx="3.4" ry="1.0" fill="#776c88" transform="rotate(64 117.9 329.4)"/>
<ellipse cx="66.5" cy="348.0" rx="1.8" ry="0.9" fill="#8c8298" transform="rotate(-37 66.5 348.0)"/>
<ellipse cx="89.0" cy="361.0" rx="2.0" ry="1.0" fill="#a59cb0" transform="rotate(68 89.0 361.0)"/>
<ellipse cx="70.1" cy="332.3" rx="2.8" ry="1.2" fill="#776c88" transform="rotate(22 70.1 332.3)"/>
<ellipse cx="88.5" cy="378.8" rx="1.8" ry="0.9" fill="#776c88" transform="rotate(-75 88.5 378.8)"/>
<ellipse cx="96.7" cy="367.9" rx="3.0" ry="1.1" fill="#8a7f98" transform="rotate(-71 96.7 367.9)"/>
<ellipse cx="77.5" cy="354.3" rx="1.4" ry="1.2" fill="#b2aabc" transform="rotate(41 77.5 354.3)"/>
<ellipse cx="109.2" cy="354.9" rx="2.0" ry="0.9" fill="#6a6078" transform="rotate(21 109.2 354.9)"/>
<ellipse cx="115.1" cy="337.0" rx="2.6" ry="1.1" fill="#776c88" transform="rotate(45 115.1 337.0)"/>
<ellipse cx="71.2" cy="358.7" rx="3.1" ry="0.8" fill="#6a6078" transform="rotate(-74 71.2 358.7)"/>
<ellipse cx="84.1" cy="362.1" rx="2.5" ry="0.8" fill="#6a6078" transform="rotate(-65 84.1 362.1)"/>
<ellipse cx="112.6" cy="383.2" rx="2.2" ry="1.1" fill="#b2aabc" transform="rotate(-27 112.6 383.2)"/>
<ellipse cx="113.6" cy="345.8" rx="3.3" ry="0.8" fill="#b2aabc" transform="rotate(-77 113.6 345.8)"/>
<ellipse cx="70.4" cy="377.8" rx="3.3" ry="0.8" fill="#6a6078" transform="rotate(-79 70.4 377.8)"/>
<ellipse cx="75.8" cy="332.2" rx="2.2" ry="0.6" fill="#b2aabc" transform="rotate(-59 75.8 332.2)"/>
<ellipse cx="87.4" cy="359.9" rx="2.2" ry="0.7" fill="#a59cb0" transform="rotate(-65 87.4 359.9)"/>
<ellipse cx="80.3" cy="373.8" rx="2.1" ry="0.9" fill="#b2aabc" transform="rotate(30 80.3 373.8)"/>
<ellipse cx="80.7" cy="354.4" rx="3.3" ry="1.1" fill="#6a6078" transform="rotate(68 80.7 354.4)"/>
<ellipse cx="94.8" cy="375.4" rx="3.1" ry="0.8" fill="#b2aabc" transform="rotate(-2 94.8 375.4)"/>
<ellipse cx="99.4" cy="335.4" rx="3.0" ry="0.8" fill="#8c8298" transform="rotate(12 99.4 335.4)"/>
<ellipse cx="105.8" cy="339.8" rx="2.6" ry="1.0" fill="#8a7f98" transform="rotate(-33 105.8 339.8)"/>
<ellipse cx="98.0" cy="362.9" rx="2.2" ry="1.2" fill="#a59cb0" transform="rotate(-33 98.0 362.9)"/>
<ellipse cx="118.0" cy="347.0" rx="3.3" ry="0.8" fill="#6a6078" transform="rotate(70 118.0 347.0)"/>
<ellipse cx="92.2" cy="367.3" rx="2.7" ry="0.7" fill="#8c8298" transform="rotate(60 92.2 367.3)"/>
<ellipse cx="120.0" cy="338.6" rx="2.6" ry="1.2" fill="#8a7f98" transform="rotate(57 120.0 338.6)"/>
<ellipse cx="69.1" cy="366.3" rx="2.2" ry="0.7" fill="#6a6078" transform="rotate(35 69.1 366.3)"/>
<ellipse cx="97.7" cy="371.7" rx="3.4" ry="1.0" fill="#8c8298" transform="rotate(-36 97.7 371.7)"/>
<ellipse cx="76.7" cy="355.5" rx="1.4" ry="1.0" fill="#6a6078" transform="rotate(-7 76.7 355.5)"/>
<ellipse cx="77.9" cy="377.7" rx="2.0" ry="1.0" fill="#776c88" transform="rotate(-9 77.9 377.7)"/>
<ellipse cx="95.4" cy="380.2" rx="1.6" ry="0.9" fill="#a59cb0" transform="rotate(-18 95.4 380.2)"/>
<ellipse cx="123.8" cy="344.0" rx="1.8" ry="0.8" fill="#b2aabc" transform="rotate(44 123.8 344.0)"/>
<ellipse cx="101.8" cy="373.0" rx="1.5" ry="1.0" fill="#8c8298" transform="rotate(58 101.8 373.0)"/>
<ellipse cx="82.5" cy="341.5" rx="5.5" ry="4.5" fill="#eee2e6" transform="rotate(30 82.5 341.5)"/>
<ellipse cx="82.5" cy="341.5" rx="4.6" ry="3.6" fill="#8c7262" stroke="#6e5648" stroke-width="0.5" transform="rotate(30 82.5 341.5)"/>
<circle cx="84.96" cy="341.07" r="0.90" fill="#a88e7c" stroke="none" stroke-width="0.5" />
<circle cx="80.32" cy="340.48" r="0.78" fill="#6a5040" stroke="none" stroke-width="0.5" />
<circle cx="80.92" cy="341.25" r="0.80" fill="#6a5040" stroke="none" stroke-width="0.5" />
<circle cx="85.05" cy="342.30" r="1.06" fill="#a88e7c" stroke="none" stroke-width="0.5" />
<circle cx="83.18" cy="340.56" r="1.05" fill="#a88e7c" stroke="none" stroke-width="0.5" />
<circle cx="84.19" cy="341.67" r="0.64" fill="#a88e7c" stroke="none" stroke-width="0.5" />
<circle cx="80.27" cy="339.71" r="0.56" fill="#7a5e4c" stroke="none" stroke-width="0.5" />
<ellipse cx="93.6" cy="348.6" rx="5.1000000000000005" ry="4.3" fill="#eee2e6" transform="rotate(35 93.6 348.6)"/>
<ellipse cx="93.6" cy="348.6" rx="4.2" ry="3.4" fill="#8c7262" stroke="#6e5648" stroke-width="0.5" transform="rotate(35 93.6 348.6)"/>
<circle cx="92.09" cy="348.81" r="0.58" fill="#6a5040" stroke="none" stroke-width="0.5" />
<circle cx="94.44" cy="350.16" r="0.73" fill="#6a5040" stroke="none" stroke-width="0.5" />
<circle cx="96.03" cy="348.83" r="0.89" fill="#a88e7c" stroke="none" stroke-width="0.5" />
<circle cx="93.97" cy="349.55" r="0.88" fill="#6a5040" stroke="none" stroke-width="0.5" />
<circle cx="93.65" cy="347.55" r="0.75" fill="#6a5040" stroke="none" stroke-width="0.5" />
<circle cx="92.61" cy="350.54" r="0.63" fill="#7a5e4c" stroke="none" stroke-width="0.5" />
<circle cx="92.49" cy="347.58" r="0.71" fill="#7a5e4c" stroke="none" stroke-width="0.5" />
<ellipse cx="104.0" cy="355.6" rx="5.5" ry="4.7" fill="#eee2e6" transform="rotate(40 104.0 355.6)"/>
<ellipse cx="104.0" cy="355.6" rx="4.6" ry="3.8" fill="#8c7262" stroke="#6e5648" stroke-width="0.5" transform="rotate(40 104.0 355.6)"/>
<circle cx="102.77" cy="355.30" r="0.78" fill="#7a5e4c" stroke="none" stroke-width="0.5" />
<circle cx="103.56" cy="353.97" r="0.73" fill="#7a5e4c" stroke="none" stroke-width="0.5" />
<circle cx="105.38" cy="356.39" r="0.54" fill="#a88e7c" stroke="none" stroke-width="0.5" />
<circle cx="105.52" cy="355.51" r="0.69" fill="#7a5e4c" stroke="none" stroke-width="0.5" />
<circle cx="106.30" cy="355.31" r="0.57" fill="#a88e7c" stroke="none" stroke-width="0.5" />
<circle cx="105.09" cy="353.94" r="0.87" fill="#7a5e4c" stroke="none" stroke-width="0.5" />
<circle cx="102.89" cy="354.32" r="0.90" fill="#a88e7c" stroke="none" stroke-width="0.5" />
<ellipse cx="89.5" cy="361.5" rx="6.300000000000001" ry="4.9" fill="#eee2e6" transform="rotate(35 89.5 361.5)"/>
<ellipse cx="89.5" cy="361.5" rx="5.4" ry="4.0" fill="#8c7262" stroke="#6e5648" stroke-width="0.5" transform="rotate(35 89.5 361.5)"/>
<circle cx="89.29" cy="361.73" r="0.96" fill="#a88e7c" stroke="none" stroke-width="0.5" />
<circle cx="87.82" cy="363.18" r="0.85" fill="#7a5e4c" stroke="none" stroke-width="0.5" />
<circle cx="91.50" cy="361.19" r="0.53" fill="#6a5040" stroke="none" stroke-width="0.5" />
<circle cx="86.28" cy="362.70" r="0.75" fill="#a88e7c" stroke="none" stroke-width="0.5" />
<circle cx="90.60" cy="361.80" r="0.73" fill="#a88e7c" stroke="none" stroke-width="0.5" />
<circle cx="89.18" cy="363.31" r="0.61" fill="#a88e7c" stroke="none" stroke-width="0.5" />
<circle cx="87.41" cy="360.10" r="0.81" fill="#a88e7c" stroke="none" stroke-width="0.5" />
<ellipse cx="107.5" cy="368.0" rx="6.1000000000000005" ry="5.1000000000000005" fill="#eee2e6" transform="rotate(40 107.5 368.0)"/>
<ellipse cx="107.5" cy="368.0" rx="5.2" ry="4.2" fill="#8c7262" stroke="#6e5648" stroke-width="0.5" transform="rotate(40 107.5 368.0)"/>
<circle cx="107.60" cy="365.48" r="0.88" fill="#6a5040" stroke="none" stroke-width="0.5" />
<circle cx="110.03" cy="369.92" r="0.64" fill="#a88e7c" stroke="none" stroke-width="0.5" />
<circle cx="105.06" cy="365.50" r="0.51" fill="#a88e7c" stroke="none" stroke-width="0.5" />
<circle cx="104.59" cy="365.82" r="1.10" fill="#7a5e4c" stroke="none" stroke-width="0.5" />
<circle cx="105.13" cy="366.23" r="0.68" fill="#a88e7c" stroke="none" stroke-width="0.5" />
<circle cx="109.80" cy="366.89" r="1.02" fill="#a88e7c" stroke="none" stroke-width="0.5" />
<circle cx="106.90" cy="367.99" r="1.10" fill="#7a5e4c" stroke="none" stroke-width="0.5" />
<ellipse cx="97.5" cy="371.0" rx="4.3" ry="3.5" fill="#eee2e6" transform="rotate(30 97.5 371.0)"/>
<ellipse cx="97.5" cy="371.0" rx="3.4" ry="2.6" fill="#8c7262" stroke="#6e5648" stroke-width="0.5" transform="rotate(30 97.5 371.0)"/>
<circle cx="96.05" cy="370.87" r="1.05" fill="#a88e7c" stroke="none" stroke-width="0.5" />
<circle cx="96.01" cy="370.58" r="0.99" fill="#a88e7c" stroke="none" stroke-width="0.5" />
<circle cx="95.77" cy="371.28" r="0.51" fill="#a88e7c" stroke="none" stroke-width="0.5" />
<circle cx="96.82" cy="371.84" r="0.84" fill="#7a5e4c" stroke="none" stroke-width="0.5" />
<circle cx="97.26" cy="371.43" r="0.60" fill="#a88e7c" stroke="none" stroke-width="0.5" />
<circle cx="99.15" cy="370.29" r="1.03" fill="#a88e7c" stroke="none" stroke-width="0.5" />
<circle cx="99.31" cy="372.41" r="0.98" fill="#6a5040" stroke="none" stroke-width="0.5" />
<ellipse cx="85.5" cy="381.0" rx="4.9" ry="3.5" fill="#eee2e6" transform="rotate(10 85.5 381.0)"/>
<ellipse cx="85.5" cy="381.0" rx="4.0" ry="2.6" fill="#8c7262" stroke="#6e5648" stroke-width="0.5" transform="rotate(10 85.5 381.0)"/>
<circle cx="84.27" cy="380.84" r="1.09" fill="#7a5e4c" stroke="none" stroke-width="0.5" />
<circle cx="85.32" cy="381.56" r="0.50" fill="#7a5e4c" stroke="none" stroke-width="0.5" />
<circle cx="83.96" cy="382.40" r="0.63" fill="#7a5e4c" stroke="none" stroke-width="0.5" />
<circle cx="86.39" cy="381.35" r="0.94" fill="#a88e7c" stroke="none" stroke-width="0.5" />
<circle cx="84.49" cy="381.35" r="0.79" fill="#7a5e4c" stroke="none" stroke-width="0.5" />
<circle cx="84.10" cy="381.97" r="0.99" fill="#7a5e4c" stroke="none" stroke-width="0.5" />
<circle cx="83.24" cy="382.20" r="0.97" fill="#6a5040" stroke="none" stroke-width="0.5" />
<ellipse cx="117" cy="332" rx="3.5" ry="2.9" fill="#eee2e6" transform="rotate(0 117 332)"/>
<ellipse cx="117" cy="332" rx="2.6" ry="2.0" fill="#8c7262" stroke="#6e5648" stroke-width="0.5" transform="rotate(0 117 332)"/>
<circle cx="117.78" cy="330.88" r="0.99" fill="#7a5e4c" stroke="none" stroke-width="0.5" />
<circle cx="115.85" cy="331.44" r="1.08" fill="#a88e7c" stroke="none" stroke-width="0.5" />
<circle cx="115.71" cy="331.53" r="0.63" fill="#a88e7c" stroke="none" stroke-width="0.5" />
<circle cx="115.61" cy="333.04" r="0.52" fill="#a88e7c" stroke="none" stroke-width="0.5" />
<circle cx="116.15" cy="331.73" r="0.99" fill="#a88e7c" stroke="none" stroke-width="0.5" />
<circle cx="118.15" cy="331.57" r="0.58" fill="#6a5040" stroke="none" stroke-width="0.5" />
<circle cx="117.92" cy="331.60" r="0.70" fill="#7a5e4c" stroke="none" stroke-width="0.5" />
</g>
<clipPath id="z2"><rect x="68.5" y="386.2" width="54.2" height="54.3"/></clipPath>
<g clip-path="url(#z2)">
<rect x="68.50" y="386.20" width="54.20" height="54.30" fill="#e4d6d6" stroke="none" stroke-width="0.8" />
<circle cx="79.02" cy="406.83" r="1.10" fill="#c4b2ae" stroke="none" stroke-width="0.5" />
<circle cx="110.54" cy="399.26" r="1.94" fill="#c4b2ae" stroke="none" stroke-width="0.5" />
<circle cx="97.35" cy="389.50" r="1.26" fill="#b8a4a0" stroke="none" stroke-width="0.5" />
<circle cx="84.29" cy="396.36" r="1.12" fill="#a8928e" stroke="none" stroke-width="0.5" />
<circle cx="87.49" cy="436.59" r="1.87" fill="#c4b2ae" stroke="none" stroke-width="0.5" />
<circle cx="101.89" cy="425.39" r="1.79" fill="#b8a4a0" stroke="none" stroke-width="0.5" />
<circle cx="67.18" cy="435.75" r="1.09" fill="#a8928e" stroke="none" stroke-width="0.5" />
<circle cx="78.53" cy="388.05" r="1.01" fill="#a8928e" stroke="none" stroke-width="0.5" />
<circle cx="98.21" cy="441.37" r="1.89" fill="#c4b2ae" stroke="none" stroke-width="0.5" />
<circle cx="122.15" cy="403.59" r="1.98" fill="#a8928e" stroke="none" stroke-width="0.5" />
<circle cx="107.16" cy="436.85" r="1.41" fill="#a8928e" stroke="none" stroke-width="0.5" />
<circle cx="71.30" cy="401.45" r="1.94" fill="#b8a4a0" stroke="none" stroke-width="0.5" />
<circle cx="77.13" cy="405.10" r="1.22" fill="#c4b2ae" stroke="none" stroke-width="0.5" />
<circle cx="93.48" cy="435.03" r="1.07" fill="#a8928e" stroke="none" stroke-width="0.5" />
<circle cx="70.62" cy="403.91" r="1.93" fill="#c4b2ae" stroke="none" stroke-width="0.5" />
<circle cx="82.24" cy="436.11" r="1.04" fill="#b8a4a0" stroke="none" stroke-width="0.5" />
<circle cx="68.12" cy="396.69" r="1.31" fill="#b8a4a0" stroke="none" stroke-width="0.5" />
<circle cx="100.63" cy="398.91" r="1.94" fill="#a8928e" stroke="none" stroke-width="0.5" />
<circle cx="82.66" cy="385.79" r="1.22" fill="#c4b2ae" stroke="none" stroke-width="0.5" />
<circle cx="99.19" cy="403.43" r="1.45" fill="#c4b2ae" stroke="none" stroke-width="0.5" />
<circle cx="120.15" cy="438.23" r="1.73" fill="#c4b2ae" stroke="none" stroke-width="0.5" />
<circle cx="74.74" cy="431.72" r="1.78" fill="#b8a4a0" stroke="none" stroke-width="0.5" />
<circle cx="98.85" cy="406.95" r="1.18" fill="#a8928e" stroke="none" stroke-width="0.5" />
<circle cx="76.28" cy="413.30" r="1.87" fill="#a8928e" stroke="none" stroke-width="0.5" />
<circle cx="88.42" cy="390.36" r="1.99" fill="#b8a4a0" stroke="none" stroke-width="0.5" />
<circle cx="97.53" cy="421.20" r="1.17" fill="#a8928e" stroke="none" stroke-width="0.5" />
<circle cx="116.72" cy="392.58" r="1.64" fill="#b8a4a0" stroke="none" stroke-width="0.5" />
<circle cx="117.20" cy="403.80" r="1.96" fill="#c4b2ae" stroke="none" stroke-width="0.5" />
<circle cx="111.00" cy="396.73" r="1.83" fill="#a8928e" stroke="none" stroke-width="0.5" />
<circle cx="85.57" cy="387.40" r="1.20" fill="#c4b2ae" stroke="none" stroke-width="0.5" />
<circle cx="93.22" cy="398.88" r="1.57" fill="#b8a4a0" stroke="none" stroke-width="0.5" />
<circle cx="111.23" cy="411.06" r="1.03" fill="#c4b2ae" stroke="none" stroke-width="0.5" />
<circle cx="75.11" cy="427.41" r="1.17" fill="#a8928e" stroke="none" stroke-width="0.5" />
<circle cx="114.10" cy="387.33" r="1.24" fill="#b8a4a0" stroke="none" stroke-width="0.5" />
<circle cx="85.13" cy="419.87" r="1.94" fill="#b8a4a0" stroke="none" stroke-width="0.5" />
<circle cx="71.98" cy="414.33" r="1.32" fill="#b8a4a0" stroke="none" stroke-width="0.5" />
<circle cx="69.56" cy="400.25" r="1.23" fill="#c4b2ae" stroke="none" stroke-width="0.5" />
<circle cx="114.98" cy="438.32" r="1.39" fill="#a8928e" stroke="none" stroke-width="0.5" />
<circle cx="71.53" cy="431.70" r="1.42" fill="#c4b2ae" stroke="none" stroke-width="0.5" />
<circle cx="94.13" cy="409.53" r="1.22" fill="#b8a4a0" stroke="none" stroke-width="0.5" />
<circle cx="100.40" cy="402.94" r="1.23" fill="#a8928e" stroke="none" stroke-width="0.5" />
<circle cx="97.40" cy="430.32" r="1.06" fill="#c4b2ae" stroke="none" stroke-width="0.5" />
<circle cx="97.58" cy="408.65" r="1.19" fill="#b8a4a0" stroke="none" stroke-width="0.5" />
<circle cx="90.80" cy="390.91" r="1.80" fill="#a8928e" stroke="none" stroke-width="0.5" />
<circle cx="104.80" cy="413.82" r="1.32" fill="#c4b2ae" stroke="none" stroke-width="0.5" />
<circle cx="82.78" cy="392.21" r="1.04" fill="#c4b2ae" stroke="none" stroke-width="0.5" />
<circle cx="71.48" cy="397.47" r="1.55" fill="#a8928e" stroke="none" stroke-width="0.5" />
<circle cx="83.05" cy="413.86" r="1.33" fill="#b8a4a0" stroke="none" stroke-width="0.5" />
<circle cx="89.20" cy="426.11" r="1.15" fill="#a8928e" stroke="none" stroke-width="0.5" />
<circle cx="92.65" cy="414.93" r="1.60" fill="#c4b2ae" stroke="none" stroke-width="0.5" />
<circle cx="101.29" cy="416.62" r="1.30" fill="#c4b2ae" stroke="none" stroke-width="0.5" />
<circle cx="99.23" cy="436.68" r="1.44" fill="#c4b2ae" stroke="none" stroke-width="0.5" />
<circle cx="100.58" cy="427.83" r="1.60" fill="#c4b2ae" stroke="none" stroke-width="0.5" />
<circle cx="119.96" cy="389.01" r="1.24" fill="#c4b2ae" stroke="none" stroke-width="0.5" />
<circle cx="111.77" cy="423.31" r="1.24" fill="#b8a4a0" stroke="none" stroke-width="0.5" />
<circle cx="98.67" cy="433.04" r="1.83" fill="#c4b2ae" stroke="none" stroke-width="0.5" />
<circle cx="87.87" cy="422.30" r="1.48" fill="#c4b2ae" stroke="none" stroke-width="0.5" />
<circle cx="109.76" cy="438.06" r="1.61" fill="#c4b2ae" stroke="none" stroke-width="0.5" />
<circle cx="71.69" cy="440.26" r="1.10" fill="#a8928e" stroke="none" stroke-width="0.5" />
<circle cx="114.71" cy="430.09" r="1.24" fill="#c4b2ae" stroke="none" stroke-width="0.5" />
<circle cx="118.29" cy="415.48" r="1.98" fill="#a8928e" stroke="none" stroke-width="0.5" />
<circle cx="117.60" cy="425.62" r="1.49" fill="#a8928e" stroke="none" stroke-width="0.5" />
<circle cx="85.10" cy="403.44" r="1.09" fill="#c4b2ae" stroke="none" stroke-width="0.5" />
<circle cx="122.47" cy="427.82" r="1.99" fill="#c4b2ae" stroke="none" stroke-width="0.5" />
<circle cx="104.67" cy="428.25" r="1.42" fill="#a8928e" stroke="none" stroke-width="0.5" />
<circle cx="75.11" cy="439.33" r="1.39" fill="#a8928e" stroke="none" stroke-width="0.5" />
<circle cx="73.18" cy="402.41" r="1.44" fill="#a8928e" stroke="none" stroke-width="0.5" />
<circle cx="99.81" cy="438.43" r="1.50" fill="#a8928e" stroke="none" stroke-width="0.5" />
<circle cx="112.98" cy="426.41" r="1.21" fill="#a8928e" stroke="none" stroke-width="0.5" />
<circle cx="96.61" cy="407.21" r="1.07" fill="#a8928e" stroke="none" stroke-width="0.5" />
<circle cx="116.08" cy="393.87" r="1.18" fill="#a8928e" stroke="none" stroke-width="0.5" />
<circle cx="67.74" cy="408.74" r="1.18" fill="#b8a4a0" stroke="none" stroke-width="0.5" />
<circle cx="113.42" cy="428.02" r="1.29" fill="#b8a4a0" stroke="none" stroke-width="0.5" />
<circle cx="98.59" cy="436.25" r="1.19" fill="#b8a4a0" stroke="none" stroke-width="0.5" />
<circle cx="81.06" cy="441.41" r="1.14" fill="#a8928e" stroke="none" stroke-width="0.5" />
<circle cx="74.20" cy="417.79" r="1.34" fill="#a8928e" stroke="none" stroke-width="0.5" />
<circle cx="74.15" cy="415.98" r="1.93" fill="#a8928e" stroke="none" stroke-width="0.5" />
<circle cx="107.39" cy="416.96" r="1.34" fill="#a8928e" stroke="none" stroke-width="0.5" />
<circle cx="117.73" cy="430.67" r="1.47" fill="#b8a4a0" stroke="none" stroke-width="0.5" />
<circle cx="86.86" cy="417.00" r="1.55" fill="#c4b2ae" stroke="none" stroke-width="0.5" />
<circle cx="96.62" cy="408.71" r="1.01" fill="#b8a4a0" stroke="none" stroke-width="0.5" />
<circle cx="83.19" cy="419.59" r="1.03" fill="#a8928e" stroke="none" stroke-width="0.5" />
<circle cx="82.85" cy="405.72" r="1.49" fill="#b8a4a0" stroke="none" stroke-width="0.5" />
<circle cx="87.86" cy="402.98" r="1.60" fill="#a8928e" stroke="none" stroke-width="0.5" />
<circle cx="111.96" cy="387.18" r="1.81" fill="#a8928e" stroke="none" stroke-width="0.5" />
<circle cx="71.88" cy="400.23" r="1.98" fill="#c4b2ae" stroke="none" stroke-width="0.5" />
<circle cx="102.22" cy="439.59" r="1.08" fill="#a8928e" stroke="none" stroke-width="0.5" />
<circle cx="68.71" cy="392.03" r="1.06" fill="#a8928e" stroke="none" stroke-width="0.5" />
<circle cx="75.36" cy="418.62" r="1.99" fill="#a8928e" stroke="none" stroke-width="0.5" />
<circle cx="98.52" cy="413.01" r="1.67" fill="#b8a4a0" stroke="none" stroke-width="0.5" />
<circle cx="122.06" cy="439.93" r="1.25" fill="#b8a4a0" stroke="none" stroke-width="0.5" />
<circle cx="69.29" cy="419.19" r="1.62" fill="#c4b2ae" stroke="none" stroke-width="0.5" />
<circle cx="81.88" cy="402.91" r="1.45" fill="#c4b2ae" stroke="none" stroke-width="0.5" />
<circle cx="94.09" cy="398.85" r="1.54" fill="#c4b2ae" stroke="none" stroke-width="0.5" />
<circle cx="87.12" cy="419.38" r="1.37" fill="#a8928e" stroke="none" stroke-width="0.5" />
<circle cx="120.92" cy="430.01" r="1.03" fill="#a8928e" stroke="none" stroke-width="0.5" />
<circle cx="120.61" cy="422.27" r="1.11" fill="#c4b2ae" stroke="none" stroke-width="0.5" />
<circle cx="115.25" cy="418.98" r="1.27" fill="#a8928e" stroke="none" stroke-width="0.5" />
<circle cx="109.60" cy="434.37" r="1.73" fill="#b8a4a0" stroke="none" stroke-width="0.5" />
<circle cx="86.48" cy="440.99" r="1.80" fill="#b8a4a0" stroke="none" stroke-width="0.5" />
<circle cx="116.49" cy="418.67" r="1.25" fill="#b8a4a0" stroke="none" stroke-width="0.5" />
<circle cx="76.04" cy="418.25" r="1.92" fill="#a8928e" stroke="none" stroke-width="0.5" />
<circle cx="90.67" cy="413.49" r="1.66" fill="#c4b2ae" stroke="none" stroke-width="0.5" />
<circle cx="84.53" cy="428.44" r="1.90" fill="#b8a4a0" stroke="none" stroke-width="0.5" />
<circle cx="121.63" cy="389.91" r="1.52" fill="#b8a4a0" stroke="none" stroke-width="0.5" />
<circle cx="121.64" cy="402.26" r="1.80" fill="#a8928e" stroke="none" stroke-width="0.5" />
<circle cx="83.99" cy="425.62" r="1.56" fill="#c4b2ae" stroke="none" stroke-width="0.5" />
<circle cx="101.05" cy="408.56" r="1.29" fill="#b8a4a0" stroke="none" stroke-width="0.5" />
<circle cx="122.06" cy="408.89" r="1.29" fill="#c4b2ae" stroke="none" stroke-width="0.5" />
<circle cx="103.55" cy="408.37" r="1.47" fill="#b8a4a0" stroke="none" stroke-width="0.5" />
<circle cx="91.89" cy="435.28" r="1.03" fill="#c4b2ae" stroke="none" stroke-width="0.5" />
<circle cx="67.03" cy="423.12" r="1.96" fill="#c4b2ae" stroke="none" stroke-width="0.5" />
<circle cx="83.15" cy="395.33" r="1.92" fill="#a8928e" stroke="none" stroke-width="0.5" />
<circle cx="100.79" cy="427.82" r="1.46" fill="#b8a4a0" stroke="none" stroke-width="0.5" />
<circle cx="104.68" cy="403.69" r="1.69" fill="#a8928e" stroke="none" stroke-width="0.5" />
<circle cx="116.11" cy="437.65" r="1.30" fill="#c4b2ae" stroke="none" stroke-width="0.5" />
<circle cx="100.89" cy="428.58" r="1.12" fill="#c4b2ae" stroke="none" stroke-width="0.5" />
<circle cx="120.45" cy="426.67" r="1.25" fill="#c4b2ae" stroke="none" stroke-width="0.5" />
<circle cx="96.87" cy="389.37" r="1.79" fill="#c4b2ae" stroke="none" stroke-width="0.5" />
<circle cx="114.04" cy="437.76" r="1.30" fill="#a8928e" stroke="none" stroke-width="0.5" />
<ellipse cx="79.3" cy="432.6" rx="1.2" ry="1.4" fill="#5a3a30" transform="rotate(44 79.3 432.6)"/>
<ellipse cx="82.8" cy="416.8" rx="1.1" ry="0.9" fill="#4e3028" transform="rotate(45 82.8 416.8)"/>
<ellipse cx="121.5" cy="391.0" rx="1.4" ry="1.0" fill="#6a4a3c" transform="rotate(54 121.5 391.0)"/>
<ellipse cx="95.3" cy="421.7" rx="1.6" ry="1.5" fill="#5a3a30" transform="rotate(155 95.3 421.7)"/>
<ellipse cx="96.3" cy="398.4" rx="1.5" ry="1.1" fill="#5a3a30" transform="rotate(138 96.3 398.4)"/>
<ellipse cx="115.9" cy="418.8" rx="1.5" ry="1.1" fill="#4e3028" transform="rotate(99 115.9 418.8)"/>
<ellipse cx="73.2" cy="391.8" rx="1.2" ry="1.3" fill="#483028" transform="rotate(60 73.2 391.8)"/>
<ellipse cx="110.2" cy="400.0" rx="1.2" ry="1.1" fill="#483028" transform="rotate(100 110.2 400.0)"/>
<ellipse cx="73.8" cy="401.4" rx="1.6" ry="1.2" fill="#483028" transform="rotate(12 73.8 401.4)"/>
<ellipse cx="120.5" cy="395.4" rx="1.9" ry="1.0" fill="#7a5c4e" transform="rotate(82 120.5 395.4)"/>
<ellipse cx="88.0" cy="385.6" rx="1.4" ry="1.1" fill="#483028" transform="rotate(134 88.0 385.6)"/>
<ellipse cx="83.6" cy="401.5" rx="1.9" ry="1.1" fill="#4e3028" transform="rotate(106 83.6 401.5)"/>
<ellipse cx="107.6" cy="408.7" rx="1.2" ry="0.9" fill="#7a5c4e" transform="rotate(20 107.6 408.7)"/>
<ellipse cx="67.1" cy="427.9" rx="1.3" ry="1.1" fill="#5a3a30" transform="rotate(169 67.1 427.9)"/>
<ellipse cx="95.4" cy="392.2" rx="1.8" ry="0.9" fill="#483028" transform="rotate(23 95.4 392.2)"/>
<ellipse cx="112.3" cy="397.2" rx="1.8" ry="0.9" fill="#4e3028" transform="rotate(13 112.3 397.2)"/>
<ellipse cx="87.3" cy="440.9" rx="1.9" ry="1.1" fill="#6a4a3c" transform="rotate(80 87.3 440.9)"/>
<ellipse cx="117.3" cy="401.6" rx="1.0" ry="1.3" fill="#7a5c4e" transform="rotate(92 117.3 401.6)"/>
<ellipse cx="87.0" cy="403.6" rx="1.5" ry="1.1" fill="#6a4a3c" transform="rotate(41 87.0 403.6)"/>
<ellipse cx="73.4" cy="414.5" rx="1.2" ry="1.1" fill="#4e3028" transform="rotate(87 73.4 414.5)"/>
<ellipse cx="101.6" cy="399.6" rx="1.6" ry="1.3" fill="#4e3028" transform="rotate(105 101.6 399.6)"/>
<ellipse cx="101.3" cy="433.1" rx="1.2" ry="1.0" fill="#5a3a30" transform="rotate(0 101.3 433.1)"/>
<ellipse cx="81.0" cy="390.6" rx="1.1" ry="1.4" fill="#4e3028" transform="rotate(84 81.0 390.6)"/>
<ellipse cx="81.2" cy="390.2" rx="1.3" ry="0.8" fill="#7a5c4e" transform="rotate(82 81.2 390.2)"/>
<ellipse cx="97.0" cy="432.4" rx="1.6" ry="1.1" fill="#483028" transform="rotate(65 97.0 432.4)"/>
<ellipse cx="96.8" cy="428.1" rx="1.2" ry="1.0" fill="#483028" transform="rotate(155 96.8 428.1)"/>
<ellipse cx="109.3" cy="430.6" rx="2.0" ry="1.2" fill="#4e3028" transform="rotate(19 109.3 430.6)"/>
<ellipse cx="101.4" cy="408.3" rx="1.7" ry="1.2" fill="#5a3a30" transform="rotate(130 101.4 408.3)"/>
<ellipse cx="72.7" cy="440.7" rx="1.5" ry="1.5" fill="#7a5c4e" transform="rotate(65 72.7 440.7)"/>
<ellipse cx="69.9" cy="402.4" rx="1.3" ry="0.9" fill="#6a4a3c" transform="rotate(71 69.9 402.4)"/>
<ellipse cx="115.8" cy="397.5" rx="1.0" ry="0.8" fill="#483028" transform="rotate(30 115.8 397.5)"/>
<ellipse cx="81.7" cy="410.2" rx="1.3" ry="0.9" fill="#7a5c4e" transform="rotate(10 81.7 410.2)"/>
<ellipse cx="83.4" cy="385.8" rx="1.1" ry="1.1" fill="#483028" transform="rotate(106 83.4 385.8)"/>
<ellipse cx="89.7" cy="395.1" rx="1.8" ry="1.5" fill="#483028" transform="rotate(6 89.7 395.1)"/>
<ellipse cx="77.8" cy="435.9" rx="1.0" ry="0.9" fill="#4e3028" transform="rotate(128 77.8 435.9)"/>
<ellipse cx="110.6" cy="438.7" rx="1.6" ry="0.9" fill="#6a4a3c" transform="rotate(44 110.6 438.7)"/>
<ellipse cx="117.7" cy="396.9" rx="1.9" ry="1.3" fill="#6a4a3c" transform="rotate(38 117.7 396.9)"/>
<ellipse cx="93.7" cy="414.8" rx="2.0" ry="1.3" fill="#5a3a30" transform="rotate(178 93.7 414.8)"/>
<ellipse cx="91.6" cy="420.8" rx="1.6" ry="1.1" fill="#6a4a3c" transform="rotate(165 91.6 420.8)"/>
<ellipse cx="84.1" cy="419.6" rx="1.9" ry="1.0" fill="#4e3028" transform="rotate(63 84.1 419.6)"/>
<ellipse cx="85.6" cy="387.3" rx="1.5" ry="0.9" fill="#6a4a3c" transform="rotate(11 85.6 387.3)"/>
<ellipse cx="88.4" cy="429.2" rx="1.4" ry="1.1" fill="#4e3028" transform="rotate(147 88.4 429.2)"/>
<ellipse cx="111.3" cy="413.3" rx="1.0" ry="0.9" fill="#7a5c4e" transform="rotate(62 111.3 413.3)"/>
<ellipse cx="82.7" cy="415.7" rx="1.7" ry="1.5" fill="#7a5c4e" transform="rotate(57 82.7 415.7)"/>
<ellipse cx="116.2" cy="408.7" rx="1.1" ry="0.9" fill="#7a5c4e" transform="rotate(93 116.2 408.7)"/>
<ellipse cx="100.9" cy="397.0" rx="1.4" ry="1.3" fill="#6a4a3c" transform="rotate(166 100.9 397.0)"/>
<ellipse cx="84.8" cy="432.4" rx="1.6" ry="0.9" fill="#7a5c4e" transform="rotate(122 84.8 432.4)"/>
<ellipse cx="109.5" cy="391.7" rx="1.2" ry="1.4" fill="#7a5c4e" transform="rotate(136 109.5 391.7)"/>
<ellipse cx="120.9" cy="419.8" rx="1.2" ry="0.8" fill="#7a5c4e" transform="rotate(94 120.9 419.8)"/>
<ellipse cx="80.2" cy="441.5" rx="1.0" ry="1.0" fill="#6a4a3c" transform="rotate(159 80.2 441.5)"/>
<ellipse cx="77.3" cy="439.5" rx="1.1" ry="1.0" fill="#4e3028" transform="rotate(26 77.3 439.5)"/>
<ellipse cx="86.8" cy="408.0" rx="1.5" ry="1.1" fill="#6a4a3c" transform="rotate(81 86.8 408.0)"/>
<ellipse cx="96.2" cy="404.1" rx="1.9" ry="1.0" fill="#483028" transform="rotate(139 96.2 404.1)"/>
<ellipse cx="103.0" cy="425.4" rx="1.6" ry="0.8" fill="#4e3028" transform="rotate(169 103.0 425.4)"/>
<ellipse cx="69.1" cy="408.0" rx="1.4" ry="0.9" fill="#4e3028" transform="rotate(126 69.1 408.0)"/>
<ellipse cx="80.4" cy="428.0" rx="1.5" ry="1.0" fill="#4e3028" transform="rotate(168 80.4 428.0)"/>
<ellipse cx="115.7" cy="395.3" rx="1.7" ry="1.4" fill="#6a4a3c" transform="rotate(104 115.7 395.3)"/>
<ellipse cx="115.7" cy="428.8" rx="1.7" ry="1.4" fill="#5a3a30" transform="rotate(38 115.7 428.8)"/>
<ellipse cx="101.7" cy="427.4" rx="1.7" ry="1.1" fill="#5a3a30" transform="rotate(145 101.7 427.4)"/>
<ellipse cx="79.0" cy="388.3" rx="1.8" ry="1.1" fill="#4e3028" transform="rotate(140 79.0 388.3)"/>
<ellipse cx="78.4" cy="419.9" rx="1.9" ry="1.0" fill="#4e3028" transform="rotate(72 78.4 419.9)"/>
<ellipse cx="123.7" cy="388.8" rx="1.7" ry="1.3" fill="#5a3a30" transform="rotate(157 123.7 388.8)"/>
<ellipse cx="80.6" cy="389.6" rx="1.3" ry="0.8" fill="#4e3028" transform="rotate(177 80.6 389.6)"/>
<ellipse cx="99.2" cy="410.6" rx="1.6" ry="1.0" fill="#483028" transform="rotate(19 99.2 410.6)"/>
<ellipse cx="81.0" cy="396.1" rx="1.6" ry="1.2" fill="#5a3a30" transform="rotate(109 81.0 396.1)"/>
<ellipse cx="90.4" cy="405.2" rx="1.4" ry="1.2" fill="#5a3a30" transform="rotate(29 90.4 405.2)"/>
<ellipse cx="104.8" cy="440.8" rx="1.7" ry="1.0" fill="#7a5c4e" transform="rotate(128 104.8 440.8)"/>
<ellipse cx="97.0" cy="425.2" rx="1.5" ry="1.2" fill="#6a4a3c" transform="rotate(86 97.0 425.2)"/>
<ellipse cx="121.2" cy="386.1" rx="1.7" ry="0.9" fill="#483028" transform="rotate(35 121.2 386.1)"/>
<ellipse cx="93.1" cy="441.5" rx="1.3" ry="1.3" fill="#4e3028" transform="rotate(43 93.1 441.5)"/>
<ellipse cx="108.8" cy="425.2" rx="1.5" ry="0.8" fill="#4e3028" transform="rotate(67 108.8 425.2)"/>
<ellipse cx="95.3" cy="393.0" rx="1.8" ry="1.1" fill="#483028" transform="rotate(116 95.3 393.0)"/>
<ellipse cx="88.2" cy="433.7" rx="1.2" ry="1.3" fill="#4e3028" transform="rotate(166 88.2 433.7)"/>
<ellipse cx="101.5" cy="393.3" rx="1.9" ry="1.2" fill="#4e3028" transform="rotate(141 101.5 393.3)"/>
<ellipse cx="95.3" cy="388.7" rx="1.3" ry="1.0" fill="#4e3028" transform="rotate(152 95.3 388.7)"/>
<ellipse cx="83.1" cy="406.2" rx="1.2" ry="1.3" fill="#5a3a30" transform="rotate(61 83.1 406.2)"/>
<ellipse cx="102.7" cy="409.2" rx="1.7" ry="1.2" fill="#7a5c4e" transform="rotate(168 102.7 409.2)"/>
<ellipse cx="71.6" cy="416.2" rx="1.1" ry="1.0" fill="#4e3028" transform="rotate(159 71.6 416.2)"/>
<ellipse cx="95.9" cy="389.6" rx="1.5" ry="1.4" fill="#5a3a30" transform="rotate(7 95.9 389.6)"/>
<ellipse cx="73.7" cy="415.2" rx="1.7" ry="1.1" fill="#4e3028" transform="rotate(47 73.7 415.2)"/>
<ellipse cx="110.4" cy="439.2" rx="1.3" ry="1.2" fill="#4e3028" transform="rotate(70 110.4 439.2)"/>
<ellipse cx="122.5" cy="419.9" rx="1.1" ry="1.4" fill="#483028" transform="rotate(129 122.5 419.9)"/>
<ellipse cx="74.8" cy="428.2" rx="1.5" ry="1.2" fill="#7a5c4e" transform="rotate(162 74.8 428.2)"/>
<ellipse cx="82.7" cy="411.9" rx="1.2" ry="0.9" fill="#6a4a3c" transform="rotate(141 82.7 411.9)"/>
<ellipse cx="94.3" cy="401.5" rx="1.9" ry="1.0" fill="#7a5c4e" transform="rotate(101 94.3 401.5)"/>
<ellipse cx="81.1" cy="387.3" rx="1.3" ry="1.5" fill="#6a4a3c" transform="rotate(139 81.1 387.3)"/>
<ellipse cx="76.2" cy="387.2" rx="1.6" ry="1.0" fill="#7a5c4e" transform="rotate(6 76.2 387.2)"/>
<ellipse cx="117.6" cy="420.2" rx="1.1" ry="1.1" fill="#7a5c4e" transform="rotate(143 117.6 420.2)"/>
<ellipse cx="86.2" cy="415.0" rx="1.6" ry="0.8" fill="#4e3028" transform="rotate(111 86.2 415.0)"/>
<ellipse cx="75.9" cy="433.4" rx="1.9" ry="1.4" fill="#6a4a3c" transform="rotate(96 75.9 433.4)"/>
<ellipse cx="70.3" cy="436.9" rx="1.7" ry="1.5" fill="#5a3a30" transform="rotate(68 70.3 436.9)"/>
<ellipse cx="121.8" cy="392.6" rx="1.8" ry="1.1" fill="#5a3a30" transform="rotate(58 121.8 392.6)"/>
<ellipse cx="108.2" cy="393.6" rx="1.7" ry="0.9" fill="#4e3028" transform="rotate(10 108.2 393.6)"/>
<ellipse cx="95.5" cy="431.4" rx="1.4" ry="0.9" fill="#4e3028" transform="rotate(101 95.5 431.4)"/>
<ellipse cx="121.9" cy="401.6" rx="1.6" ry="1.4" fill="#4e3028" transform="rotate(38 121.9 401.6)"/>
<ellipse cx="86.5" cy="426.6" rx="1.3" ry="1.3" fill="#6a4a3c" transform="rotate(16 86.5 426.6)"/>
<ellipse cx="104.5" cy="404.6" rx="1.6" ry="1.2" fill="#5a3a30" transform="rotate(168 104.5 404.6)"/>
<ellipse cx="76.7" cy="388.3" rx="1.3" ry="0.8" fill="#6a4a3c" transform="rotate(179 76.7 388.3)"/>
<ellipse cx="71.3" cy="397.4" rx="1.9" ry="1.1" fill="#7a5c4e" transform="rotate(130 71.3 397.4)"/>
<ellipse cx="96.8" cy="389.6" rx="1.0" ry="1.1" fill="#5a3a30" transform="rotate(168 96.8 389.6)"/>
<ellipse cx="123.3" cy="405.9" rx="1.9" ry="0.9" fill="#5a3a30" transform="rotate(79 123.3 405.9)"/>
<ellipse cx="96.6" cy="423.7" rx="1.6" ry="1.2" fill="#483028" transform="rotate(62 96.6 423.7)"/>
<ellipse cx="107.4" cy="398.0" rx="1.6" ry="1.4" fill="#483028" transform="rotate(82 107.4 398.0)"/>
<ellipse cx="109.2" cy="438.7" rx="1.4" ry="1.2" fill="#6a4a3c" transform="rotate(82 109.2 438.7)"/>
<ellipse cx="69.7" cy="417.7" rx="1.9" ry="1.1" fill="#483028" transform="rotate(62 69.7 417.7)"/>
<ellipse cx="111.7" cy="406.7" rx="1.1" ry="1.0" fill="#5a3a30" transform="rotate(13 111.7 406.7)"/>
<ellipse cx="108.1" cy="441.3" rx="1.2" ry="1.1" fill="#483028" transform="rotate(26 108.1 441.3)"/>
<ellipse cx="80.1" cy="388.5" rx="1.3" ry="1.2" fill="#6a4a3c" transform="rotate(25 80.1 388.5)"/>
<ellipse cx="121.8" cy="427.6" rx="1.2" ry="1.1" fill="#4e3028" transform="rotate(75 121.8 427.6)"/>
<ellipse cx="103.3" cy="417.3" rx="1.0" ry="0.9" fill="#5a3a30" transform="rotate(165 103.3 417.3)"/>
<ellipse cx="77.4" cy="419.2" rx="1.8" ry="1.2" fill="#483028" transform="rotate(104 77.4 419.2)"/>
<ellipse cx="71.3" cy="389.5" rx="1.8" ry="1.2" fill="#483028" transform="rotate(69 71.3 389.5)"/>
<ellipse cx="82.7" cy="397.4" rx="1.5" ry="1.1" fill="#483028" transform="rotate(108 82.7 397.4)"/>
<ellipse cx="80.6" cy="433.5" rx="1.0" ry="0.8" fill="#6a4a3c" transform="rotate(74 80.6 433.5)"/>
<ellipse cx="82.2" cy="385.6" rx="1.1" ry="0.8" fill="#483028" transform="rotate(175 82.2 385.6)"/>
<ellipse cx="114.9" cy="399.4" rx="1.8" ry="1.1" fill="#6a4a3c" transform="rotate(52 114.9 399.4)"/>
<ellipse cx="107.1" cy="430.1" rx="1.8" ry="1.4" fill="#5a3a30" transform="rotate(149 107.1 430.1)"/>
<ellipse cx="118.3" cy="388.1" rx="1.7" ry="1.5" fill="#5a3a30" transform="rotate(24 118.3 388.1)"/>
<ellipse cx="78.0" cy="436.3" rx="1.5" ry="1.2" fill="#4e3028" transform="rotate(131 78.0 436.3)"/>
<ellipse cx="74.9" cy="432.7" rx="1.2" ry="1.4" fill="#483028" transform="rotate(110 74.9 432.7)"/>
<ellipse cx="120.7" cy="401.7" rx="1.0" ry="1.5" fill="#483028" transform="rotate(117 120.7 401.7)"/>
<ellipse cx="112.3" cy="415.7" rx="1.3" ry="1.0" fill="#4e3028" transform="rotate(30 112.3 415.7)"/>
<ellipse cx="85.8" cy="431.4" rx="1.1" ry="1.4" fill="#483028" transform="rotate(56 85.8 431.4)"/>
<ellipse cx="117.7" cy="407.1" rx="1.3" ry="1.0" fill="#4e3028" transform="rotate(46 117.7 407.1)"/>
<ellipse cx="77.0" cy="439.0" rx="1.4" ry="1.3" fill="#4e3028" transform="rotate(1 77.0 439.0)"/>
<ellipse cx="80.5" cy="436.0" rx="1.3" ry="0.9" fill="#483028" transform="rotate(23 80.5 436.0)"/>
<ellipse cx="76.3" cy="412.5" rx="1.6" ry="1.3" fill="#7a5c4e" transform="rotate(103 76.3 412.5)"/>
<ellipse cx="119.7" cy="410.2" rx="1.6" ry="1.4" fill="#483028" transform="rotate(104 119.7 410.2)"/>
<ellipse cx="112.2" cy="431.5" rx="1.0" ry="1.5" fill="#5a3a30" transform="rotate(118 112.2 431.5)"/>
<ellipse cx="106.8" cy="405.8" rx="1.6" ry="1.1" fill="#6a4a3c" transform="rotate(55 106.8 405.8)"/>
<ellipse cx="113.6" cy="418.0" rx="1.3" ry="1.2" fill="#6a4a3c" transform="rotate(137 113.6 418.0)"/>
<ellipse cx="107.4" cy="437.1" rx="1.7" ry="0.8" fill="#5a3a30" transform="rotate(111 107.4 437.1)"/>
<ellipse cx="118.6" cy="409.2" rx="1.9" ry="1.4" fill="#5a3a30" transform="rotate(148 118.6 409.2)"/>
<ellipse cx="79.2" cy="386.5" rx="1.8" ry="1.4" fill="#5a3a30" transform="rotate(144 79.2 386.5)"/>
<ellipse cx="120.3" cy="396.2" rx="1.8" ry="0.9" fill="#7a5c4e" transform="rotate(94 120.3 396.2)"/>
<ellipse cx="118.7" cy="395.1" rx="1.2" ry="1.1" fill="#6a4a3c" transform="rotate(19 118.7 395.1)"/>
<ellipse cx="84.6" cy="413.1" rx="2.0" ry="1.2" fill="#5a3a30" transform="rotate(65 84.6 413.1)"/>
<ellipse cx="86.0" cy="400.2" rx="1.3" ry="1.5" fill="#6a4a3c" transform="rotate(81 86.0 400.2)"/>
<ellipse cx="94.8" cy="386.5" rx="2.0" ry="1.2" fill="#6a4a3c" transform="rotate(24 94.8 386.5)"/>
<ellipse cx="102.2" cy="429.7" rx="1.7" ry="1.1" fill="#5a3a30" transform="rotate(124 102.2 429.7)"/>
<ellipse cx="109.8" cy="395.7" rx="1.6" ry="1.3" fill="#4e3028" transform="rotate(111 109.8 395.7)"/>
<ellipse cx="89.2" cy="387.7" rx="1.8" ry="1.4" fill="#6a4a3c" transform="rotate(40 89.2 387.7)"/>
<ellipse cx="80.6" cy="417.2" rx="1.9" ry="1.5" fill="#483028" transform="rotate(85 80.6 417.2)"/>
<ellipse cx="92.5" cy="427.1" rx="1.2" ry="0.8" fill="#7a5c4e" transform="rotate(4 92.5 427.1)"/>
<ellipse cx="77.8" cy="430.9" rx="1.3" ry="1.0" fill="#483028" transform="rotate(83 77.8 430.9)"/>
<ellipse cx="87.5" cy="407.9" rx="1.3" ry="1.0" fill="#7a5c4e" transform="rotate(115 87.5 407.9)"/>
<ellipse cx="100.9" cy="423.6" rx="1.7" ry="0.8" fill="#5a3a30" transform="rotate(33 100.9 423.6)"/>
<ellipse cx="93.1" cy="398.5" rx="1.0" ry="0.9" fill="#7a5c4e" transform="rotate(118 93.1 398.5)"/>
<ellipse cx="79.2" cy="403.6" rx="1.7" ry="1.1" fill="#483028" transform="rotate(120 79.2 403.6)"/>
<ellipse cx="101.2" cy="400.3" rx="1.9" ry="1.0" fill="#4e3028" transform="rotate(23 101.2 400.3)"/>
<ellipse cx="93.6" cy="405.2" rx="1.7" ry="1.0" fill="#7a5c4e" transform="rotate(140 93.6 405.2)"/>
<ellipse cx="85.6" cy="388.3" rx="1.6" ry="1.1" fill="#7a5c4e" transform="rotate(125 85.6 388.3)"/>
<ellipse cx="95.2" cy="399.0" rx="1.8" ry="1.0" fill="#483028" transform="rotate(177 95.2 399.0)"/>
<ellipse cx="99.0" cy="409.0" rx="1.9" ry="1.2" fill="#5a3a30" transform="rotate(36 99.0 409.0)"/>
<ellipse cx="91.1" cy="420.0" rx="1.7" ry="1.3" fill="#7a5c4e" transform="rotate(161 91.1 420.0)"/>
<ellipse cx="110.2" cy="405.7" rx="1.8" ry="1.1" fill="#4e3028" transform="rotate(109 110.2 405.7)"/>
<ellipse cx="106.3" cy="388.6" rx="1.5" ry="1.1" fill="#7a5c4e" transform="rotate(140 106.3 388.6)"/>
<ellipse cx="121.0" cy="409.5" rx="1.3" ry="1.0" fill="#6a4a3c" transform="rotate(139 121.0 409.5)"/>
<ellipse cx="86.9" cy="391.7" rx="1.5" ry="1.0" fill="#483028" transform="rotate(62 86.9 391.7)"/>
<ellipse cx="81.7" cy="441.2" rx="1.8" ry="1.4" fill="#7a5c4e" transform="rotate(13 81.7 441.2)"/>
<ellipse cx="83.8" cy="426.2" rx="1.8" ry="0.9" fill="#483028" transform="rotate(34 83.8 426.2)"/>
<ellipse cx="110.9" cy="434.9" rx="1.5" ry="1.3" fill="#4e3028" transform="rotate(172 110.9 434.9)"/>
<ellipse cx="69.7" cy="426.6" rx="1.9" ry="1.4" fill="#4e3028" transform="rotate(158 69.7 426.6)"/>
<ellipse cx="103.4" cy="402.4" rx="1.8" ry="1.0" fill="#5a3a30" transform="rotate(88 103.4 402.4)"/>
<ellipse cx="71.6" cy="406.1" rx="1.9" ry="1.4" fill="#4e3028" transform="rotate(136 71.6 406.1)"/>
<ellipse cx="118.7" cy="440.9" rx="1.8" ry="1.4" fill="#483028" transform="rotate(50 118.7 440.9)"/>
<ellipse cx="105.3" cy="429.1" rx="1.4" ry="1.4" fill="#4e3028" transform="rotate(37 105.3 429.1)"/>
<ellipse cx="105.7" cy="391.5" rx="1.7" ry="0.8" fill="#6a4a3c" transform="rotate(153 105.7 391.5)"/>
<ellipse cx="87.2" cy="418.5" rx="1.6" ry="1.3" fill="#483028" transform="rotate(165 87.2 418.5)"/>
<ellipse cx="69.4" cy="422.0" rx="1.0" ry="1.1" fill="#6a4a3c" transform="rotate(133 69.4 422.0)"/>
<ellipse cx="74.3" cy="398.0" rx="1.7" ry="1.1" fill="#6a4a3c" transform="rotate(99 74.3 398.0)"/>
<ellipse cx="88.8" cy="406.0" rx="1.8" ry="1.4" fill="#5a3a30" transform="rotate(71 88.8 406.0)"/>
<ellipse cx="89.7" cy="405.4" rx="1.9" ry="1.5" fill="#7a5c4e" transform="rotate(112 89.7 405.4)"/>
<ellipse cx="112.1" cy="392.6" rx="1.4" ry="1.1" fill="#483028" transform="rotate(106 112.1 392.6)"/>
<ellipse cx="83.5" cy="426.2" rx="1.2" ry="1.4" fill="#4e3028" transform="rotate(117 83.5 426.2)"/>
<ellipse cx="102.0" cy="391.6" rx="1.3" ry="1.2" fill="#7a5c4e" transform="rotate(15 102.0 391.6)"/>
<ellipse cx="118.4" cy="410.0" rx="1.2" ry="1.3" fill="#4e3028" transform="rotate(84 118.4 410.0)"/>
<ellipse cx="93.2" cy="433.7" rx="1.9" ry="0.9" fill="#483028" transform="rotate(69 93.2 433.7)"/>
<ellipse cx="89.4" cy="431.5" rx="1.5" ry="1.1" fill="#4e3028" transform="rotate(69 89.4 431.5)"/>
<ellipse cx="123.8" cy="428.3" rx="1.2" ry="1.2" fill="#5a3a30" transform="rotate(34 123.8 428.3)"/>
<ellipse cx="71.2" cy="431.9" rx="2.0" ry="1.3" fill="#4e3028" transform="rotate(27 71.2 431.9)"/>
<ellipse cx="69.7" cy="438.5" rx="1.7" ry="1.2" fill="#5a3a30" transform="rotate(48 69.7 438.5)"/>
<ellipse cx="87.4" cy="399.0" rx="1.7" ry="0.9" fill="#5a3a30" transform="rotate(68 87.4 399.0)"/>
<ellipse cx="81.3" cy="439.0" rx="1.9" ry="0.9" fill="#5a3a30" transform="rotate(46 81.3 439.0)"/>
<ellipse cx="113.3" cy="395.6" rx="1.2" ry="1.4" fill="#6a4a3c" transform="rotate(43 113.3 395.6)"/>
<ellipse cx="79.1" cy="440.3" rx="1.2" ry="1.3" fill="#483028" transform="rotate(15 79.1 440.3)"/>
<ellipse cx="76.4" cy="416.6" rx="1.2" ry="1.5" fill="#7a5c4e" transform="rotate(128 76.4 416.6)"/>
<ellipse cx="75.5" cy="434.7" rx="1.8" ry="0.8" fill="#7a5c4e" transform="rotate(144 75.5 434.7)"/>
<ellipse cx="75.3" cy="408.3" rx="1.9" ry="1.5" fill="#7a5c4e" transform="rotate(106 75.3 408.3)"/>
<ellipse cx="77.4" cy="420.6" rx="1.6" ry="1.4" fill="#6a4a3c" transform="rotate(113 77.4 420.6)"/>
<ellipse cx="111.1" cy="404.7" rx="1.9" ry="1.5" fill="#483028" transform="rotate(80 111.1 404.7)"/>
<ellipse cx="82.9" cy="402.7" rx="1.6" ry="0.9" fill="#6a4a3c" transform="rotate(158 82.9 402.7)"/>
<ellipse cx="88.1" cy="431.2" rx="1.9" ry="1.4" fill="#5a3a30" transform="rotate(141 88.1 431.2)"/>
<ellipse cx="108.2" cy="392.9" rx="1.1" ry="1.5" fill="#5a3a30" transform="rotate(106 108.2 392.9)"/>
<ellipse cx="80.5" cy="394.7" rx="1.8" ry="1.3" fill="#4e3028" transform="rotate(131 80.5 394.7)"/>
<ellipse cx="106.1" cy="435.3" rx="1.3" ry="0.9" fill="#483028" transform="rotate(50 106.1 435.3)"/>
<ellipse cx="118.2" cy="417.2" rx="1.6" ry="1.2" fill="#4e3028" transform="rotate(24 118.2 417.2)"/>
<ellipse cx="108.9" cy="435.8" rx="1.5" ry="1.5" fill="#7a5c4e" transform="rotate(65 108.9 435.8)"/>
<ellipse cx="119.7" cy="422.4" rx="1.8" ry="1.3" fill="#6a4a3c" transform="rotate(97 119.7 422.4)"/>
<ellipse cx="85.3" cy="432.5" rx="1.3" ry="1.3" fill="#6a4a3c" transform="rotate(9 85.3 432.5)"/>
<ellipse cx="68.3" cy="435.0" rx="1.2" ry="1.2" fill="#7a5c4e" transform="rotate(126 68.3 435.0)"/>
<ellipse cx="80.6" cy="414.1" rx="1.4" ry="1.0" fill="#7a5c4e" transform="rotate(145 80.6 414.1)"/>
<ellipse cx="107.9" cy="417.0" rx="1.3" ry="0.8" fill="#4e3028" transform="rotate(42 107.9 417.0)"/>
<ellipse cx="117.3" cy="411.8" rx="1.4" ry="1.5" fill="#7a5c4e" transform="rotate(26 117.3 411.8)"/>
<ellipse cx="102.7" cy="394.7" rx="1.8" ry="1.1" fill="#4e3028" transform="rotate(23 102.7 394.7)"/>
<ellipse cx="99.7" cy="388.7" rx="1.6" ry="0.8" fill="#6a4a3c" transform="rotate(71 99.7 388.7)"/>
<ellipse cx="111.4" cy="417.2" rx="1.7" ry="0.9" fill="#483028" transform="rotate(145 111.4 417.2)"/>
<ellipse cx="89.7" cy="415.8" rx="1.4" ry="1.1" fill="#6a4a3c" transform="rotate(168 89.7 415.8)"/>
<ellipse cx="97.9" cy="402.7" rx="1.4" ry="1.3" fill="#483028" transform="rotate(144 97.9 402.7)"/>
<ellipse cx="113.5" cy="398.0" rx="1.2" ry="1.0" fill="#5a3a30" transform="rotate(136 113.5 398.0)"/>
<ellipse cx="70.6" cy="437.3" rx="1.8" ry="1.4" fill="#4e3028" transform="rotate(142 70.6 437.3)"/>
<ellipse cx="123.1" cy="430.6" rx="2.0" ry="1.0" fill="#6a4a3c" transform="rotate(16 123.1 430.6)"/>
<ellipse cx="88.2" cy="393.2" rx="1.9" ry="1.2" fill="#5a3a30" transform="rotate(85 88.2 393.2)"/>
<ellipse cx="85.3" cy="385.5" rx="1.4" ry="1.1" fill="#7a5c4e" transform="rotate(91 85.3 385.5)"/>
<ellipse cx="108.6" cy="428.9" rx="1.6" ry="0.9" fill="#5a3a30" transform="rotate(32 108.6 428.9)"/>
<ellipse cx="81.4" cy="395.4" rx="1.4" ry="1.2" fill="#6a4a3c" transform="rotate(34 81.4 395.4)"/>
<ellipse cx="83.1" cy="436.4" rx="1.1" ry="1.4" fill="#4e3028" transform="rotate(23 83.1 436.4)"/>
<ellipse cx="103.0" cy="390.5" rx="1.8" ry="1.0" fill="#4e3028" transform="rotate(134 103.0 390.5)"/>
<ellipse cx="105.0" cy="395.5" rx="1.1" ry="1.0" fill="#7a5c4e" transform="rotate(89 105.0 395.5)"/>
<ellipse cx="123.2" cy="400.5" rx="1.8" ry="0.8" fill="#4e3028" transform="rotate(177 123.2 400.5)"/>
<ellipse cx="108.5" cy="441.5" rx="1.8" ry="0.9" fill="#5a3a30" transform="rotate(161 108.5 441.5)"/>
<ellipse cx="102.3" cy="404.2" rx="1.0" ry="1.2" fill="#5a3a30" transform="rotate(12 102.3 404.2)"/>
<ellipse cx="107.3" cy="409.4" rx="1.4" ry="1.4" fill="#6a4a3c" transform="rotate(113 107.3 409.4)"/>
<ellipse cx="99.0" cy="394.1" rx="1.4" ry="0.8" fill="#6a4a3c" transform="rotate(124 99.0 394.1)"/>
<ellipse cx="108.6" cy="430.5" rx="1.3" ry="0.9" fill="#4e3028" transform="rotate(77 108.6 430.5)"/>
<ellipse cx="68.0" cy="423.8" rx="1.9" ry="1.1" fill="#7a5c4e" transform="rotate(89 68.0 423.8)"/>
<ellipse cx="86.7" cy="390.7" rx="1.1" ry="1.4" fill="#7a5c4e" transform="rotate(4 86.7 390.7)"/>
<ellipse cx="104.0" cy="440.9" rx="1.6" ry="0.9" fill="#483028" transform="rotate(146 104.0 440.9)"/>
<ellipse cx="106.3" cy="401.3" rx="1.5" ry="1.2" fill="#7a5c4e" transform="rotate(64 106.3 401.3)"/>
<ellipse cx="90.2" cy="388.4" rx="1.1" ry="1.4" fill="#6a4a3c" transform="rotate(58 90.2 388.4)"/>
<ellipse cx="102.0" cy="433.5" rx="1.8" ry="1.0" fill="#483028" transform="rotate(15 102.0 433.5)"/>
<ellipse cx="117.3" cy="428.8" rx="1.3" ry="1.1" fill="#6a4a3c" transform="rotate(69 117.3 428.8)"/>
<ellipse cx="91.7" cy="431.8" rx="1.9" ry="1.1" fill="#6a4a3c" transform="rotate(56 91.7 431.8)"/>
<ellipse cx="93.2" cy="391.0" rx="1.9" ry="0.9" fill="#5a3a30" transform="rotate(141 93.2 391.0)"/>
<ellipse cx="68.9" cy="391.6" rx="1.1" ry="1.0" fill="#6a4a3c" transform="rotate(42 68.9 391.6)"/>
<ellipse cx="94.8" cy="440.5" rx="1.4" ry="1.3" fill="#5a3a30" transform="rotate(12 94.8 440.5)"/>
<ellipse cx="101.4" cy="430.7" rx="1.9" ry="1.2" fill="#483028" transform="rotate(38 101.4 430.7)"/>
<ellipse cx="99.7" cy="426.8" rx="1.6" ry="1.3" fill="#5a3a30" transform="rotate(71 99.7 426.8)"/>
<ellipse cx="119.6" cy="421.1" rx="1.9" ry="1.3" fill="#7a5c4e" transform="rotate(134 119.6 421.1)"/>
<ellipse cx="94.1" cy="425.5" rx="1.9" ry="0.9" fill="#483028" transform="rotate(45 94.1 425.5)"/>
<ellipse cx="77.9" cy="435.7" rx="1.4" ry="1.5" fill="#483028" transform="rotate(55 77.9 435.7)"/>
<ellipse cx="120.0" cy="428.3" rx="2.0" ry="1.2" fill="#5a3a30" transform="rotate(68 120.0 428.3)"/>
<ellipse cx="99.1" cy="427.9" rx="1.4" ry="0.9" fill="#4e3028" transform="rotate(155 99.1 427.9)"/>
<ellipse cx="85.6" cy="391.9" rx="1.9" ry="0.8" fill="#483028" transform="rotate(11 85.6 391.9)"/>
<ellipse cx="99.0" cy="413.9" rx="1.2" ry="0.9" fill="#4e3028" transform="rotate(54 99.0 413.9)"/>
<ellipse cx="75.0" cy="412.3" rx="1.0" ry="1.3" fill="#5a3a30" transform="rotate(135 75.0 412.3)"/>
<ellipse cx="106.9" cy="388.2" rx="1.8" ry="1.2" fill="#6a4a3c" transform="rotate(30 106.9 388.2)"/>
<ellipse cx="72.4" cy="415.7" rx="1.8" ry="0.8" fill="#483028" transform="rotate(129 72.4 415.7)"/>
<ellipse cx="120.0" cy="391.3" rx="1.7" ry="0.8" fill="#6a4a3c" transform="rotate(73 120.0 391.3)"/>
<ellipse cx="96.9" cy="399.9" rx="1.9" ry="1.2" fill="#5a3a30" transform="rotate(50 96.9 399.9)"/>
<ellipse cx="99.7" cy="385.9" rx="1.6" ry="1.1" fill="#6a4a3c" transform="rotate(122 99.7 385.9)"/>
<ellipse cx="106.5" cy="400.0" rx="1.7" ry="1.3" fill="#7a5c4e" transform="rotate(120 106.5 400.0)"/>
<ellipse cx="82.3" cy="420.1" rx="1.7" ry="0.9" fill="#6a4a3c" transform="rotate(175 82.3 420.1)"/>
<ellipse cx="123.7" cy="427.0" rx="1.3" ry="1.0" fill="#4e3028" transform="rotate(30 123.7 427.0)"/>
<ellipse cx="98.5" cy="429.2" rx="1.1" ry="1.2" fill="#7a5c4e" transform="rotate(61 98.5 429.2)"/>
<ellipse cx="87.3" cy="437.4" rx="1.4" ry="0.8" fill="#483028" transform="rotate(169 87.3 437.4)"/>
<ellipse cx="72.1" cy="433.4" rx="1.6" ry="1.3" fill="#6a4a3c" transform="rotate(139 72.1 433.4)"/>
<ellipse cx="117.7" cy="416.2" rx="1.4" ry="1.5" fill="#7a5c4e" transform="rotate(31 117.7 416.2)"/>
<ellipse cx="123.8" cy="406.3" rx="1.8" ry="1.2" fill="#5a3a30" transform="rotate(55 123.8 406.3)"/>
<ellipse cx="83.4" cy="404.8" rx="1.6" ry="1.2" fill="#6a4a3c" transform="rotate(9 83.4 404.8)"/>
<ellipse cx="74.3" cy="423.3" rx="1.7" ry="1.1" fill="#7a5c4e" transform="rotate(84 74.3 423.3)"/>
<ellipse cx="84.7" cy="417.9" rx="1.2" ry="1.4" fill="#483028" transform="rotate(157 84.7 417.9)"/>
<ellipse cx="108.9" cy="441.8" rx="1.9" ry="1.0" fill="#4e3028" transform="rotate(150 108.9 441.8)"/>
<ellipse cx="88.9" cy="393.5" rx="1.4" ry="1.0" fill="#5a3a30" transform="rotate(6 88.9 393.5)"/>
<ellipse cx="113.2" cy="437.6" rx="1.1" ry="1.1" fill="#5a3a30" transform="rotate(62 113.2 437.6)"/>
<ellipse cx="106.6" cy="406.6" rx="1.3" ry="1.4" fill="#4e3028" transform="rotate(100 106.6 406.6)"/>
<ellipse cx="123.0" cy="431.3" rx="1.9" ry="1.0" fill="#6a4a3c" transform="rotate(152 123.0 431.3)"/>
<ellipse cx="123.9" cy="435.2" rx="1.4" ry="1.5" fill="#483028" transform="rotate(40 123.9 435.2)"/>
<ellipse cx="112.4" cy="424.9" rx="1.0" ry="1.0" fill="#4e3028" transform="rotate(130 112.4 424.9)"/>
<ellipse cx="86.6" cy="411.4" rx="1.6" ry="0.9" fill="#6a4a3c" transform="rotate(39 86.6 411.4)"/>
<ellipse cx="82.3" cy="394.9" rx="1.3" ry="1.4" fill="#5a3a30" transform="rotate(15 82.3 394.9)"/>
<ellipse cx="90.4" cy="395.6" rx="1.0" ry="1.5" fill="#6a4a3c" transform="rotate(96 90.4 395.6)"/>
<ellipse cx="77.7" cy="438.3" rx="1.8" ry="1.4" fill="#5a3a30" transform="rotate(81 77.7 438.3)"/>
<ellipse cx="110.3" cy="415.6" rx="1.9" ry="1.4" fill="#5a3a30" transform="rotate(125 110.3 415.6)"/>
<ellipse cx="78.0" cy="435.0" rx="1.6" ry="1.0" fill="#7a5c4e" transform="rotate(123 78.0 435.0)"/>
<ellipse cx="70.2" cy="428.8" rx="1.6" ry="1.2" fill="#6a4a3c" transform="rotate(97 70.2 428.8)"/>
<ellipse cx="113.5" cy="393.6" rx="1.3" ry="1.5" fill="#483028" transform="rotate(122 113.5 393.6)"/>
<ellipse cx="92.2" cy="399.4" rx="1.9" ry="1.0" fill="#7a5c4e" transform="rotate(174 92.2 399.4)"/>
<ellipse cx="87.5" cy="427.6" rx="1.8" ry="1.3" fill="#6a4a3c" transform="rotate(97 87.5 427.6)"/>
<ellipse cx="87.6" cy="392.1" rx="1.3" ry="1.4" fill="#7a5c4e" transform="rotate(80 87.6 392.1)"/>
<ellipse cx="117.5" cy="431.2" rx="1.4" ry="1.5" fill="#6a4a3c" transform="rotate(108 117.5 431.2)"/>
<ellipse cx="83.5" cy="402.1" rx="1.2" ry="1.0" fill="#6a4a3c" transform="rotate(155 83.5 402.1)"/>
<ellipse cx="79.4" cy="391.5" rx="1.6" ry="1.0" fill="#4e3028" transform="rotate(58 79.4 391.5)"/>
<ellipse cx="87.2" cy="393.5" rx="1.9" ry="1.1" fill="#483028" transform="rotate(26 87.2 393.5)"/>
<ellipse cx="98.6" cy="392.3" rx="1.3" ry="1.2" fill="#5a3a30" transform="rotate(125 98.6 392.3)"/>
<ellipse cx="114.6" cy="431.4" rx="1.0" ry="0.9" fill="#6a4a3c" transform="rotate(9 114.6 431.4)"/>
<ellipse cx="107.5" cy="410.8" rx="1.1" ry="0.9" fill="#7a5c4e" transform="rotate(116 107.5 410.8)"/>
<ellipse cx="117.7" cy="391.0" rx="1.9" ry="1.1" fill="#7a5c4e" transform="rotate(111 117.7 391.0)"/>
<ellipse cx="74.9" cy="430.1" rx="1.4" ry="1.5" fill="#4e3028" transform="rotate(104 74.9 430.1)"/>
<ellipse cx="120.5" cy="437.0" rx="1.3" ry="1.0" fill="#483028" transform="rotate(61 120.5 437.0)"/>
<ellipse cx="91.7" cy="429.5" rx="1.9" ry="1.3" fill="#483028" transform="rotate(95 91.7 429.5)"/>
<ellipse cx="86.3" cy="395.0" rx="1.5" ry="1.0" fill="#7a5c4e" transform="rotate(178 86.3 395.0)"/>
<ellipse cx="119.2" cy="407.4" rx="1.9" ry="1.1" fill="#5a3a30" transform="rotate(55 119.2 407.4)"/>
<ellipse cx="70.1" cy="393.9" rx="1.1" ry="1.0" fill="#4e3028" transform="rotate(133 70.1 393.9)"/>
<ellipse cx="96.0" cy="424.7" rx="1.0" ry="1.5" fill="#6a4a3c" transform="rotate(59 96.0 424.7)"/>
<ellipse cx="115.2" cy="433.4" rx="1.3" ry="1.2" fill="#7a5c4e" transform="rotate(80 115.2 433.4)"/>
<ellipse cx="85.5" cy="418.9" rx="1.5" ry="1.3" fill="#5a3a30" transform="rotate(91 85.5 418.9)"/>
<ellipse cx="93.0" cy="398.4" rx="1.3" ry="1.2" fill="#5a3a30" transform="rotate(134 93.0 398.4)"/>
<ellipse cx="97.9" cy="423.2" rx="1.6" ry="1.5" fill="#5a3a30" transform="rotate(101 97.9 423.2)"/>
<ellipse cx="91.7" cy="410.6" rx="1.9" ry="1.4" fill="#4e3028" transform="rotate(141 91.7 410.6)"/>
<ellipse cx="91.8" cy="427.0" rx="1.7" ry="1.0" fill="#5a3a30" transform="rotate(81 91.8 427.0)"/>
<ellipse cx="113.8" cy="396.8" rx="1.2" ry="1.4" fill="#7a5c4e" transform="rotate(171 113.8 396.8)"/>
<ellipse cx="114.3" cy="400.2" rx="1.2" ry="1.0" fill="#5a3a30" transform="rotate(70 114.3 400.2)"/>
<ellipse cx="123.6" cy="430.7" rx="1.3" ry="1.3" fill="#6a4a3c" transform="rotate(1 123.6 430.7)"/>
<ellipse cx="74.3" cy="406.4" rx="1.2" ry="1.2" fill="#4e3028" transform="rotate(112 74.3 406.4)"/>
<ellipse cx="117.8" cy="396.5" rx="1.7" ry="1.3" fill="#483028" transform="rotate(26 117.8 396.5)"/>
<ellipse cx="103.4" cy="396.9" rx="1.5" ry="1.4" fill="#4e3028" transform="rotate(166 103.4 396.9)"/>
<ellipse cx="116.6" cy="406.0" rx="1.9" ry="1.3" fill="#7a5c4e" transform="rotate(121 116.6 406.0)"/>
<ellipse cx="94.2" cy="411.9" rx="1.8" ry="1.5" fill="#483028" transform="rotate(16 94.2 411.9)"/>
<ellipse cx="97.2" cy="398.4" rx="1.1" ry="1.2" fill="#4e3028" transform="rotate(77 97.2 398.4)"/>
<ellipse cx="106.0" cy="420.7" rx="1.1" ry="0.8" fill="#7a5c4e" transform="rotate(53 106.0 420.7)"/>
<ellipse cx="103.2" cy="389.8" rx="1.3" ry="0.9" fill="#5a3a30" transform="rotate(144 103.2 389.8)"/>
<ellipse cx="83.8" cy="407.5" rx="1.9" ry="1.0" fill="#4e3028" transform="rotate(175 83.8 407.5)"/>
<ellipse cx="95.3" cy="393.7" rx="1.5" ry="1.2" fill="#7a5c4e" transform="rotate(36 95.3 393.7)"/>
<ellipse cx="110.3" cy="437.1" rx="1.3" ry="1.2" fill="#5a3a30" transform="rotate(19 110.3 437.1)"/>
<ellipse cx="80.3" cy="416.2" rx="1.6" ry="1.4" fill="#5a3a30" transform="rotate(53 80.3 416.2)"/>
<ellipse cx="68.5" cy="407.0" rx="1.3" ry="1.1" fill="#483028" transform="rotate(82 68.5 407.0)"/>
<ellipse cx="123.1" cy="409.7" rx="1.9" ry="1.0" fill="#483028" transform="rotate(171 123.1 409.7)"/>
<ellipse cx="121.2" cy="436.6" rx="1.2" ry="1.4" fill="#483028" transform="rotate(12 121.2 436.6)"/>
<ellipse cx="67.3" cy="405.7" rx="1.3" ry="1.0" fill="#483028" transform="rotate(147 67.3 405.7)"/>
<ellipse cx="70.8" cy="401.9" rx="1.8" ry="1.0" fill="#7a5c4e" transform="rotate(154 70.8 401.9)"/>
<ellipse cx="100.2" cy="429.1" rx="1.5" ry="1.3" fill="#483028" transform="rotate(113 100.2 429.1)"/>
<ellipse cx="115.5" cy="394.1" rx="1.4" ry="1.2" fill="#4e3028" transform="rotate(151 115.5 394.1)"/>
<ellipse cx="108.1" cy="421.0" rx="1.8" ry="1.1" fill="#4e3028" transform="rotate(3 108.1 421.0)"/>
<ellipse cx="113.7" cy="408.4" rx="1.2" ry="1.0" fill="#4e3028" transform="rotate(12 113.7 408.4)"/>
<ellipse cx="120.2" cy="399.3" rx="1.5" ry="0.8" fill="#7a5c4e" transform="rotate(144 120.2 399.3)"/>
<ellipse cx="92.3" cy="424.0" rx="1.2" ry="1.4" fill="#483028" transform="rotate(32 92.3 424.0)"/>
<ellipse cx="90.0" cy="403.7" rx="1.1" ry="0.9" fill="#6a4a3c" transform="rotate(109 90.0 403.7)"/>
<ellipse cx="86.3" cy="394.0" rx="1.2" ry="1.4" fill="#483028" transform="rotate(142 86.3 394.0)"/>
<ellipse cx="78.5" cy="388.6" rx="1.6" ry="0.8" fill="#7a5c4e" transform="rotate(61 78.5 388.6)"/>
<ellipse cx="88.6" cy="427.2" rx="1.8" ry="1.1" fill="#6a4a3c" transform="rotate(166 88.6 427.2)"/>
<ellipse cx="85.3" cy="400.5" rx="1.4" ry="1.3" fill="#5a3a30" transform="rotate(76 85.3 400.5)"/>
<ellipse cx="68.3" cy="434.2" rx="1.8" ry="1.5" fill="#5a3a30" transform="rotate(4 68.3 434.2)"/>
<ellipse cx="107.4" cy="433.6" rx="1.9" ry="1.3" fill="#7a5c4e" transform="rotate(108 107.4 433.6)"/>
<ellipse cx="86.5" cy="408.6" rx="1.7" ry="1.2" fill="#5a3a30" transform="rotate(12 86.5 408.6)"/>
<ellipse cx="86.8" cy="429.8" rx="1.7" ry="1.1" fill="#483028" transform="rotate(151 86.8 429.8)"/>
<ellipse cx="108.4" cy="411.4" rx="1.8" ry="1.0" fill="#6a4a3c" transform="rotate(74 108.4 411.4)"/>
<ellipse cx="110.4" cy="386.4" rx="1.9" ry="1.5" fill="#4e3028" transform="rotate(114 110.4 386.4)"/>
<ellipse cx="89.5" cy="433.3" rx="1.0" ry="0.9" fill="#483028" transform="rotate(45 89.5 433.3)"/>
<ellipse cx="80.5" cy="389.8" rx="1.8" ry="1.4" fill="#483028" transform="rotate(24 80.5 389.8)"/>
</g>
<path d="M55.8,342.6 L68.5,328.2 M58.4,359.1 L68.5,382.6" fill="none" stroke="#5a5a5a" stroke-width="0.5" />
<path d="M46,402 L68.5,386.2 M50,410 L68.5,440.5" fill="none" stroke="#5a5a5a" stroke-width="0.5" />
</g>
<text x="14.10" y="381.30" font-size="5.6" text-anchor="start" fill="#222" stroke="#222" stroke-width="0.12" textLength="55.2" lengthAdjust="spacingAndGlyphs" >Normal mamary gland</text>
<text x="16.00" y="438.60" font-size="5.6" text-anchor="start" fill="#222" stroke="#222" stroke-width="0.12" textLength="35.4" lengthAdjust="spacingAndGlyphs" >Breast cancer</text>
<text x="134.20" y="313.80" font-size="11" text-anchor="start" fill="#1a1a1a" stroke="#1a1a1a" stroke-width="0.18" >H</text>
<text x="213.10" y="330.60" font-size="7.3" text-anchor="middle" fill="#1e1e1e" stroke="#1e1e1e" stroke-width="0.18" textLength="103.8" lengthAdjust="spacingAndGlyphs" >Expression of SLC6A6 in BRCA</text>
<text x="197.60" y="341.80" font-size="4.6" text-anchor="start" fill="#1e1e1e" stroke="#1e1e1e" stroke-width="0.06" >p=1.65*10<tspan font-size="3.2" dy="-1.75">-5</tspan></text>
<line x1="157.50" y1="337.50" x2="157.50" y2="409.80" stroke="#666" stroke-width="0.7" />
<line x1="157.50" y1="409.80" x2="275.50" y2="409.80" stroke="#888" stroke-width="0.7" />
<line x1="155.20" y1="409.80" x2="157.50" y2="409.80" stroke="#666" stroke-width="0.7" />
<text x="154.20" y="412.40" font-size="7.4" text-anchor="end" fill="#1e1e1e" stroke="#1e1e1e" stroke-width="0.18" >0</text>
<line x1="155.20" y1="395.55" x2="157.50" y2="395.55" stroke="#666" stroke-width="0.7" />
<text x="154.20" y="398.15" font-size="7.4" text-anchor="end" fill="#1e1e1e" stroke="#1e1e1e" stroke-width="0.18" >10</text>
<line x1="155.20" y1="381.30" x2="157.50" y2="381.30" stroke="#666" stroke-width="0.7" />
<text x="154.20" y="383.90" font-size="7.4" text-anchor="end" fill="#1e1e1e" stroke="#1e1e1e" stroke-width="0.18" >20</text>
<line x1="155.20" y1="367.05" x2="157.50" y2="367.05" stroke="#666" stroke-width="0.7" />
<text x="154.20" y="369.65" font-size="7.4" text-anchor="end" fill="#1e1e1e" stroke="#1e1e1e" stroke-width="0.18" >30</text>
<line x1="155.20" y1="352.80" x2="157.50" y2="352.80" stroke="#666" stroke-width="0.7" />
<text x="154.20" y="355.40" font-size="7.4" text-anchor="end" fill="#1e1e1e" stroke="#1e1e1e" stroke-width="0.18" >40</text>
<line x1="155.20" y1="338.55" x2="157.50" y2="338.55" stroke="#666" stroke-width="0.7" />
<text x="154.20" y="341.15" font-size="7.4" text-anchor="end" fill="#1e1e1e" stroke="#1e1e1e" stroke-width="0.18" >50</text>
<text transform="translate(139.40,374.80) rotate(-90)" font-size="7.3" text-anchor="middle" fill="#1e1e1e" stroke="#1e1e1e" stroke-width="0.18" textLength="70.0" lengthAdjust="spacingAndGlyphs">Transcript  per million</text>
<path d="M187.6,376.4 L187.6,402.5 M180.5,376.4 L194.7,376.4 M180.5,402.5 L194.7,402.5" fill="none" stroke="#444" stroke-width="0.7" />
<rect x="173.00" y="388.90" width="29.10" height="7.00" fill="#4a4a9a" stroke="none" stroke-width="0.8" />
<line x1="173.00" y1="392.30" x2="202.10" y2="392.30" stroke="#2a2a5a" stroke-width="0.6" />
<rect x="223.70" y="376.40" width="48.30" height="23.20" fill="#fde0f8" stroke="none" stroke-width="0.8" />
<path d="M247.8,351.6 L247.8,408.4 M240.0,351.6 L255.0,351.6 M240.0,408.4 L255.0,408.4" fill="none" stroke="#444" stroke-width="0.7" />
<rect x="233.30" y="378.40" width="29.10" height="16.90" fill="#8c6c2c" stroke="none" stroke-width="0.8" />
<rect x="238.20" y="383.60" width="18.30" height="8.80" fill="#f03a22" stroke="none" stroke-width="0.8" />
<line x1="233.30" y1="388.00" x2="262.40" y2="388.00" stroke="#3a2a1a" stroke-width="0.7" />
<text x="188.20" y="416.80" font-size="7.3" text-anchor="middle" fill="#1e1e1e" stroke="#1e1e1e" stroke-width="0.18" >Normal</text>
<text x="188.20" y="425.60" font-size="7.3" text-anchor="middle" fill="#1e1e1e" stroke="#1e1e1e" stroke-width="0.18" textLength="31.0" lengthAdjust="spacingAndGlyphs" >( n=114 )</text>
<text x="247.80" y="418.20" font-size="7.3" text-anchor="middle" fill="#1e1e1e" stroke="#1e1e1e" stroke-width="0.18" >Primary tumor</text>
<text x="247.80" y="427.00" font-size="7.3" text-anchor="middle" fill="#1e1e1e" stroke="#1e1e1e" stroke-width="0.18" >(n=1097)</text>
<text x="216.70" y="438.00" font-size="7.3" text-anchor="middle" fill="#1e1e1e" stroke="#1e1e1e" stroke-width="0.18" textLength="49.3" lengthAdjust="spacingAndGlyphs" >TCGA samples</text>
<text x="286.80" y="313.60" font-size="11" text-anchor="start" fill="#1a1a1a" stroke="#1a1a1a" stroke-width="0.18" >I</text>
<text x="310.50" y="325.60" font-size="7.2" text-anchor="start" fill="#1e1e1e" stroke="#1e1e1e" stroke-width="0.18" textLength="64.5" lengthAdjust="spacingAndGlyphs" >GSE 1456~SLC6A6</text>
<text x="330.90" y="338.20" font-size="5.0" text-anchor="start" fill="#1e1e1e" stroke="#1e1e1e" stroke-width="0.12" textLength="23.0" lengthAdjust="spacingAndGlyphs" >P=9.3*10<tspan font-size="3.4" dy="-1.90">-28</tspan></text>
<path d="M333.2,344.9 L333.2,341.1 L352.8,341.1 L352.8,344.9" fill="none" stroke="#333" stroke-width="0.8" />
<line x1="320.60" y1="342.50" x2="320.60" y2="410.10" stroke="#222" stroke-width="0.8" />
<line x1="320.60" y1="410.10" x2="365.00" y2="410.10" stroke="#222" stroke-width="0.8" />
<line x1="317.00" y1="410.10" x2="320.60" y2="410.10" stroke="#222" stroke-width="0.8" />
<text x="316.20" y="412.90" font-size="7.6" text-anchor="end" fill="#1e1e1e" stroke="#1e1e1e" stroke-width="0.18" >0</text>
<line x1="317.00" y1="393.30" x2="320.60" y2="393.30" stroke="#222" stroke-width="0.8" />
<text x="316.20" y="396.10" font-size="7.6" text-anchor="end" fill="#1e1e1e" stroke="#1e1e1e" stroke-width="0.18" >2</text>
<line x1="317.00" y1="376.50" x2="320.60" y2="376.50" stroke="#222" stroke-width="0.8" />
<text x="316.20" y="379.30" font-size="7.6" text-anchor="end" fill="#1e1e1e" stroke="#1e1e1e" stroke-width="0.18" >4</text>
<line x1="317.00" y1="359.70" x2="320.60" y2="359.70" stroke="#222" stroke-width="0.8" />
<text x="316.20" y="362.50" font-size="7.6" text-anchor="end" fill="#1e1e1e" stroke="#1e1e1e" stroke-width="0.18" >6</text>
<line x1="317.00" y1="342.90" x2="320.60" y2="342.90" stroke="#222" stroke-width="0.8" />
<text x="316.20" y="345.70" font-size="7.6" text-anchor="end" fill="#1e1e1e" stroke="#1e1e1e" stroke-width="0.18" >8</text>
<text transform="translate(308.60,375.00) rotate(-90)" font-size="7.2" text-anchor="middle" fill="#1e1e1e" stroke="#1e1e1e" stroke-width="0.18" textLength="54.5" lengthAdjust="spacingAndGlyphs">Expression Level</text>
<rect x="335.40" y="343.50" width="32.40" height="41.00" fill="#fde6f8" stroke="none" stroke-width="0.8" />
<rect x="335.40" y="352.00" width="32.40" height="20.00" fill="#fbdaf4" stroke="none" stroke-width="0.8" />
<path d="M333.4,359.3 L333.4,388.3 M331.0,359.3 L335.8,359.3 M331.0,388.3 L335.8,388.3" fill="none" stroke="#5050a8" stroke-width="0.7" />
<rect x="327.80" y="369.00" width="11.70" height="11.00" fill="none" stroke="#5a5ab8" stroke-width="0.8" />
<line x1="327.80" y1="376.00" x2="339.50" y2="376.00" stroke="#5a5ab8" stroke-width="0.7" />
<circle cx="332.34" cy="365.62" r="0.70" fill="#5050a8" stroke="none" stroke-width="0.5" />
<circle cx="334.31" cy="363.74" r="0.70" fill="#5050a8" stroke="none" stroke-width="0.5" />
<circle cx="333.62" cy="370.78" r="0.70" fill="#5050a8" stroke="none" stroke-width="0.5" />
<circle cx="330.75" cy="374.18" r="0.70" fill="#5050a8" stroke="none" stroke-width="0.5" />
<circle cx="330.62" cy="372.41" r="0.70" fill="#5050a8" stroke="none" stroke-width="0.5" />
<circle cx="330.82" cy="364.18" r="0.70" fill="#5050a8" stroke="none" stroke-width="0.5" />
<circle cx="332.95" cy="381.84" r="0.70" fill="#5050a8" stroke="none" stroke-width="0.5" />
<circle cx="331.14" cy="367.36" r="0.70" fill="#5050a8" stroke="none" stroke-width="0.5" />
<circle cx="334.16" cy="384.75" r="0.70" fill="#5050a8" stroke="none" stroke-width="0.5" />
<circle cx="333.86" cy="371.52" r="0.70" fill="#5050a8" stroke="none" stroke-width="0.5" />
<circle cx="336.26" cy="363.12" r="0.70" fill="#5050a8" stroke="none" stroke-width="0.5" />
<circle cx="335.55" cy="368.95" r="0.70" fill="#5050a8" stroke="none" stroke-width="0.5" />
<circle cx="331.27" cy="364.83" r="0.70" fill="#5050a8" stroke="none" stroke-width="0.5" />
<circle cx="332.25" cy="381.59" r="0.70" fill="#5050a8" stroke="none" stroke-width="0.5" />
<path d="M352.9,349.7 L352.9,397.3 M349.6,349.7 L356.2,349.7 M349.6,397.3 L356.2,397.3" fill="none" stroke="#c86a32" stroke-width="0.7" />
<rect x="347.10" y="359.30" width="11.70" height="20.70" fill="none" stroke="#d05a30" stroke-width="0.8" />
<circle cx="351.37" cy="372.31" r="0.95" fill="#ac6a2a" stroke="none" stroke-width="0.5" />
<circle cx="353.55" cy="352.85" r="0.95" fill="#b8702c" stroke="none" stroke-width="0.5" />
<circle cx="352.49" cy="370.44" r="0.95" fill="#a0742a" stroke="none" stroke-width="0.5" />
<circle cx="354.13" cy="391.25" r="0.95" fill="#8c782a" stroke="none" stroke-width="0.5" />
<circle cx="353.14" cy="359.65" r="0.95" fill="#a0742a" stroke="none" stroke-width="0.5" />
<circle cx="353.07" cy="394.57" r="0.95" fill="#847426" stroke="none" stroke-width="0.5" />
<circle cx="355.97" cy="369.70" r="0.95" fill="#ac6a2a" stroke="none" stroke-width="0.5" />
<circle cx="358.39" cy="368.84" r="0.95" fill="#b8702c" stroke="none" stroke-width="0.5" />
<circle cx="350.98" cy="371.43" r="0.95" fill="#a0742a" stroke="none" stroke-width="0.5" />
<circle cx="347.76" cy="369.13" r="0.95" fill="#c07a34" stroke="none" stroke-width="0.5" />
<circle cx="348.57" cy="360.62" r="0.95" fill="#b8702c" stroke="none" stroke-width="0.5" />
<circle cx="356.69" cy="374.77" r="0.95" fill="#9a7a2c" stroke="none" stroke-width="0.5" />
<circle cx="347.53" cy="364.97" r="0.95" fill="#a0742a" stroke="none" stroke-width="0.5" />
<circle cx="352.85" cy="356.80" r="0.95" fill="#b8702c" stroke="none" stroke-width="0.5" />
<circle cx="351.87" cy="361.28" r="0.95" fill="#ac6a2a" stroke="none" stroke-width="0.5" />
<circle cx="352.76" cy="392.47" r="0.95" fill="#8c782a" stroke="none" stroke-width="0.5" />
<circle cx="356.23" cy="383.63" r="0.95" fill="#847426" stroke="none" stroke-width="0.5" />
<circle cx="355.00" cy="366.07" r="0.95" fill="#a0742a" stroke="none" stroke-width="0.5" />
<circle cx="349.92" cy="359.15" r="0.95" fill="#b8702c" stroke="none" stroke-width="0.5" />
<circle cx="355.96" cy="359.25" r="0.95" fill="#c07a34" stroke="none" stroke-width="0.5" />
<circle cx="352.09" cy="361.07" r="0.95" fill="#ac6a2a" stroke="none" stroke-width="0.5" />
<circle cx="355.19" cy="371.74" r="0.95" fill="#ac6a2a" stroke="none" stroke-width="0.5" />
<circle cx="352.38" cy="373.66" r="0.95" fill="#b8702c" stroke="none" stroke-width="0.5" />
<circle cx="353.38" cy="396.57" r="0.95" fill="#9a7a2c" stroke="none" stroke-width="0.5" />
<circle cx="352.69" cy="365.46" r="0.95" fill="#b8702c" stroke="none" stroke-width="0.5" />
<circle cx="352.40" cy="357.65" r="0.95" fill="#ac6a2a" stroke="none" stroke-width="0.5" />
<circle cx="346.93" cy="373.03" r="0.95" fill="#b8702c" stroke="none" stroke-width="0.5" />
<circle cx="353.64" cy="354.30" r="0.95" fill="#a0742a" stroke="none" stroke-width="0.5" />
<circle cx="349.81" cy="358.30" r="0.95" fill="#c07a34" stroke="none" stroke-width="0.5" />
<circle cx="352.62" cy="363.53" r="0.95" fill="#a0742a" stroke="none" stroke-width="0.5" />
<circle cx="352.67" cy="368.80" r="0.95" fill="#c07a34" stroke="none" stroke-width="0.5" />
<circle cx="354.70" cy="355.90" r="0.95" fill="#a0742a" stroke="none" stroke-width="0.5" />
<circle cx="347.41" cy="376.45" r="0.95" fill="#9a7a2c" stroke="none" stroke-width="0.5" />
<circle cx="353.36" cy="392.75" r="0.95" fill="#8c782a" stroke="none" stroke-width="0.5" />
<circle cx="353.67" cy="394.82" r="0.95" fill="#847426" stroke="none" stroke-width="0.5" />
<circle cx="352.93" cy="394.27" r="0.95" fill="#847426" stroke="none" stroke-width="0.5" />
<circle cx="353.04" cy="391.20" r="0.95" fill="#8c782a" stroke="none" stroke-width="0.5" />
<circle cx="354.11" cy="362.86" r="0.95" fill="#ac6a2a" stroke="none" stroke-width="0.5" />
<circle cx="356.24" cy="378.94" r="0.95" fill="#8c782a" stroke="none" stroke-width="0.5" />
<circle cx="349.57" cy="378.25" r="0.95" fill="#8c782a" stroke="none" stroke-width="0.5" />
<circle cx="356.14" cy="377.91" r="0.95" fill="#8c782a" stroke="none" stroke-width="0.5" />
<circle cx="352.45" cy="357.76" r="0.95" fill="#a0742a" stroke="none" stroke-width="0.5" />
<circle cx="352.23" cy="396.89" r="0.95" fill="#847426" stroke="none" stroke-width="0.5" />
<circle cx="349.41" cy="368.13" r="0.95" fill="#a0742a" stroke="none" stroke-width="0.5" />
<circle cx="352.72" cy="384.26" r="0.95" fill="#8c782a" stroke="none" stroke-width="0.5" />
<circle cx="356.39" cy="380.49" r="0.95" fill="#8c782a" stroke="none" stroke-width="0.5" />
<circle cx="352.65" cy="365.07" r="0.95" fill="#ac6a2a" stroke="none" stroke-width="0.5" />
<circle cx="348.54" cy="380.09" r="0.95" fill="#847426" stroke="none" stroke-width="0.5" />
<circle cx="352.74" cy="394.50" r="0.95" fill="#847426" stroke="none" stroke-width="0.5" />
<circle cx="353.69" cy="394.52" r="0.95" fill="#8c782a" stroke="none" stroke-width="0.5" />
<circle cx="356.57" cy="372.66" r="0.95" fill="#c07a34" stroke="none" stroke-width="0.5" />
<circle cx="354.48" cy="381.49" r="0.95" fill="#847426" stroke="none" stroke-width="0.5" />
<circle cx="347.16" cy="371.07" r="0.95" fill="#ac6a2a" stroke="none" stroke-width="0.5" />
<circle cx="353.20" cy="377.74" r="0.95" fill="#8c782a" stroke="none" stroke-width="0.5" />
<circle cx="354.04" cy="391.90" r="0.95" fill="#8c782a" stroke="none" stroke-width="0.5" />
<circle cx="352.91" cy="359.94" r="0.95" fill="#a0742a" stroke="none" stroke-width="0.5" />
<circle cx="356.45" cy="362.72" r="0.95" fill="#c07a34" stroke="none" stroke-width="0.5" />
<circle cx="354.70" cy="378.25" r="0.95" fill="#847426" stroke="none" stroke-width="0.5" />
<circle cx="353.28" cy="369.88" r="0.95" fill="#ac6a2a" stroke="none" stroke-width="0.5" />
<circle cx="354.00" cy="351.20" r="0.95" fill="#c07a34" stroke="none" stroke-width="0.5" />
<circle cx="349.39" cy="379.60" r="0.95" fill="#8c782a" stroke="none" stroke-width="0.5" />
<circle cx="347.98" cy="377.69" r="0.95" fill="#9a7a2c" stroke="none" stroke-width="0.5" />
<circle cx="356.31" cy="370.40" r="0.95" fill="#c07a34" stroke="none" stroke-width="0.5" />
<circle cx="349.20" cy="371.51" r="0.95" fill="#ac6a2a" stroke="none" stroke-width="0.5" />
<circle cx="353.29" cy="354.17" r="0.95" fill="#c07a34" stroke="none" stroke-width="0.5" />
<circle cx="351.40" cy="384.72" r="0.95" fill="#847426" stroke="none" stroke-width="0.5" />
<circle cx="353.21" cy="393.46" r="0.95" fill="#8c782a" stroke="none" stroke-width="0.5" />
<circle cx="352.99" cy="370.50" r="0.95" fill="#c07a34" stroke="none" stroke-width="0.5" />
<circle cx="357.96" cy="370.12" r="0.95" fill="#a0742a" stroke="none" stroke-width="0.5" />
<circle cx="350.94" cy="389.82" r="0.95" fill="#847426" stroke="none" stroke-width="0.5" />
<circle cx="354.90" cy="367.08" r="0.95" fill="#b8702c" stroke="none" stroke-width="0.5" />
<circle cx="355.42" cy="358.48" r="0.95" fill="#a0742a" stroke="none" stroke-width="0.5" />
<circle cx="353.72" cy="389.39" r="0.95" fill="#9a7a2c" stroke="none" stroke-width="0.5" />
<circle cx="357.38" cy="359.99" r="0.95" fill="#ac6a2a" stroke="none" stroke-width="0.5" />
<circle cx="355.90" cy="386.22" r="0.95" fill="#847426" stroke="none" stroke-width="0.5" />
<circle cx="348.95" cy="375.54" r="0.95" fill="#8c782a" stroke="none" stroke-width="0.5" />
<circle cx="351.96" cy="369.84" r="0.95" fill="#a0742a" stroke="none" stroke-width="0.5" />
<circle cx="349.90" cy="353.96" r="0.95" fill="#a0742a" stroke="none" stroke-width="0.5" />
<circle cx="351.55" cy="367.02" r="0.95" fill="#b8702c" stroke="none" stroke-width="0.5" />
<circle cx="348.95" cy="361.58" r="0.95" fill="#b8702c" stroke="none" stroke-width="0.5" />
<circle cx="350.74" cy="390.06" r="0.95" fill="#8c782a" stroke="none" stroke-width="0.5" />
<circle cx="350.89" cy="384.47" r="0.95" fill="#8c782a" stroke="none" stroke-width="0.5" />
<circle cx="351.82" cy="366.33" r="0.95" fill="#a0742a" stroke="none" stroke-width="0.5" />
<circle cx="355.30" cy="369.80" r="0.95" fill="#c07a34" stroke="none" stroke-width="0.5" />
<circle cx="352.51" cy="352.66" r="0.95" fill="#ac6a2a" stroke="none" stroke-width="0.5" />
<circle cx="349.57" cy="385.69" r="0.95" fill="#9a7a2c" stroke="none" stroke-width="0.5" />
<circle cx="347.73" cy="373.31" r="0.95" fill="#ac6a2a" stroke="none" stroke-width="0.5" />
<circle cx="354.53" cy="392.08" r="0.95" fill="#847426" stroke="none" stroke-width="0.5" />
<circle cx="349.73" cy="384.83" r="0.95" fill="#9a7a2c" stroke="none" stroke-width="0.5" />
<circle cx="357.28" cy="359.44" r="0.95" fill="#b8702c" stroke="none" stroke-width="0.5" />
<circle cx="353.97" cy="357.29" r="0.95" fill="#a0742a" stroke="none" stroke-width="0.5" />
<circle cx="352.90" cy="358.22" r="0.95" fill="#c07a34" stroke="none" stroke-width="0.5" />
<circle cx="358.27" cy="363.51" r="0.95" fill="#b8702c" stroke="none" stroke-width="0.5" />
<circle cx="352.96" cy="351.19" r="0.95" fill="#ac6a2a" stroke="none" stroke-width="0.5" />
<circle cx="354.73" cy="367.26" r="0.95" fill="#c07a34" stroke="none" stroke-width="0.5" />
<circle cx="351.16" cy="383.83" r="0.95" fill="#9a7a2c" stroke="none" stroke-width="0.5" />
<circle cx="355.95" cy="359.11" r="0.95" fill="#ac6a2a" stroke="none" stroke-width="0.5" />
<circle cx="358.69" cy="374.35" r="0.95" fill="#847426" stroke="none" stroke-width="0.5" />
<circle cx="352.21" cy="395.53" r="0.95" fill="#8c782a" stroke="none" stroke-width="0.5" />
<circle cx="348.62" cy="360.08" r="0.95" fill="#ac6a2a" stroke="none" stroke-width="0.5" />
<circle cx="354.01" cy="364.78" r="0.95" fill="#a0742a" stroke="none" stroke-width="0.5" />
<circle cx="351.23" cy="352.20" r="0.95" fill="#ac6a2a" stroke="none" stroke-width="0.5" />
<circle cx="357.51" cy="360.37" r="0.95" fill="#a0742a" stroke="none" stroke-width="0.5" />
<circle cx="350.24" cy="359.67" r="0.95" fill="#a0742a" stroke="none" stroke-width="0.5" />
<circle cx="352.63" cy="363.07" r="0.95" fill="#b8702c" stroke="none" stroke-width="0.5" />
<circle cx="349.35" cy="358.04" r="0.95" fill="#b8702c" stroke="none" stroke-width="0.5" />
<circle cx="352.11" cy="355.89" r="0.95" fill="#b8702c" stroke="none" stroke-width="0.5" />
<circle cx="353.91" cy="374.11" r="0.95" fill="#8c782a" stroke="none" stroke-width="0.5" />
<circle cx="357.22" cy="378.65" r="0.95" fill="#9a7a2c" stroke="none" stroke-width="0.5" />
<circle cx="355.54" cy="372.87" r="0.95" fill="#a0742a" stroke="none" stroke-width="0.5" />
<circle cx="348.31" cy="361.16" r="0.95" fill="#ac6a2a" stroke="none" stroke-width="0.5" />
<circle cx="352.26" cy="383.95" r="0.95" fill="#9a7a2c" stroke="none" stroke-width="0.5" />
<circle cx="356.80" cy="369.46" r="0.95" fill="#b8702c" stroke="none" stroke-width="0.5" />
<circle cx="356.99" cy="383.98" r="0.95" fill="#9a7a2c" stroke="none" stroke-width="0.5" />
<circle cx="350.68" cy="353.69" r="0.95" fill="#b8702c" stroke="none" stroke-width="0.5" />
<circle cx="353.28" cy="354.43" r="0.95" fill="#c07a34" stroke="none" stroke-width="0.5" />
<circle cx="352.77" cy="373.98" r="0.95" fill="#ac6a2a" stroke="none" stroke-width="0.5" />
<circle cx="357.42" cy="380.41" r="0.95" fill="#9a7a2c" stroke="none" stroke-width="0.5" />
<circle cx="350.24" cy="388.83" r="0.95" fill="#9a7a2c" stroke="none" stroke-width="0.5" />
<circle cx="356.21" cy="359.96" r="0.95" fill="#b8702c" stroke="none" stroke-width="0.5" />
<circle cx="355.52" cy="378.87" r="0.95" fill="#8c782a" stroke="none" stroke-width="0.5" />
<circle cx="351.68" cy="392.45" r="0.95" fill="#847426" stroke="none" stroke-width="0.5" />
<circle cx="353.46" cy="390.59" r="0.95" fill="#8c782a" stroke="none" stroke-width="0.5" />
<circle cx="351.92" cy="353.41" r="0.95" fill="#ac6a2a" stroke="none" stroke-width="0.5" />
<circle cx="353.68" cy="376.48" r="0.95" fill="#9a7a2c" stroke="none" stroke-width="0.5" />
<circle cx="355.43" cy="352.77" r="0.95" fill="#a0742a" stroke="none" stroke-width="0.5" />
<circle cx="351.02" cy="358.66" r="0.95" fill="#c07a34" stroke="none" stroke-width="0.5" />
<circle cx="356.05" cy="367.92" r="0.95" fill="#c07a34" stroke="none" stroke-width="0.5" />
<circle cx="353.92" cy="392.94" r="0.95" fill="#847426" stroke="none" stroke-width="0.5" />
<circle cx="350.11" cy="388.16" r="0.95" fill="#847426" stroke="none" stroke-width="0.5" />
<circle cx="352.13" cy="387.80" r="0.95" fill="#847426" stroke="none" stroke-width="0.5" />
<circle cx="353.03" cy="396.37" r="0.95" fill="#8c782a" stroke="none" stroke-width="0.5" />
<circle cx="348.50" cy="370.15" r="0.95" fill="#a0742a" stroke="none" stroke-width="0.5" />
<circle cx="355.33" cy="369.58" r="0.95" fill="#b8702c" stroke="none" stroke-width="0.5" />
<circle cx="351.96" cy="384.16" r="0.95" fill="#847426" stroke="none" stroke-width="0.5" />
<circle cx="352.51" cy="386.12" r="0.95" fill="#9a7a2c" stroke="none" stroke-width="0.5" />
<circle cx="351.98" cy="355.78" r="0.95" fill="#a0742a" stroke="none" stroke-width="0.5" />
<circle cx="355.58" cy="362.92" r="0.95" fill="#a0742a" stroke="none" stroke-width="0.5" />
<circle cx="354.38" cy="355.00" r="0.95" fill="#ac6a2a" stroke="none" stroke-width="0.5" />
<circle cx="350.84" cy="390.61" r="0.95" fill="#847426" stroke="none" stroke-width="0.5" />
<circle cx="351.59" cy="383.12" r="0.95" fill="#8c782a" stroke="none" stroke-width="0.5" />
<circle cx="350.72" cy="360.82" r="0.95" fill="#b8702c" stroke="none" stroke-width="0.5" />
<circle cx="358.00" cy="375.32" r="0.95" fill="#9a7a2c" stroke="none" stroke-width="0.5" />
<circle cx="349.87" cy="360.46" r="0.95" fill="#a0742a" stroke="none" stroke-width="0.5" />
<circle cx="355.31" cy="386.36" r="0.95" fill="#8c782a" stroke="none" stroke-width="0.5" />
<circle cx="353.32" cy="384.75" r="0.95" fill="#9a7a2c" stroke="none" stroke-width="0.5" />
<circle cx="352.65" cy="352.36" r="0.95" fill="#c07a34" stroke="none" stroke-width="0.5" />
<circle cx="352.73" cy="374.67" r="0.95" fill="#847426" stroke="none" stroke-width="0.5" />
<circle cx="352.84" cy="392.95" r="0.95" fill="#8c782a" stroke="none" stroke-width="0.5" />
<circle cx="351.94" cy="361.67" r="0.95" fill="#a0742a" stroke="none" stroke-width="0.5" />
<circle cx="348.39" cy="368.62" r="0.95" fill="#c07a34" stroke="none" stroke-width="0.5" />
<circle cx="353.19" cy="353.32" r="0.95" fill="#c07a34" stroke="none" stroke-width="0.5" />
<circle cx="352.12" cy="362.98" r="0.95" fill="#c07a34" stroke="none" stroke-width="0.5" />
<circle cx="351.41" cy="359.65" r="0.95" fill="#ac6a2a" stroke="none" stroke-width="0.5" />
<circle cx="355.79" cy="359.47" r="0.95" fill="#a0742a" stroke="none" stroke-width="0.5" />
<circle cx="352.43" cy="351.25" r="0.95" fill="#c07a34" stroke="none" stroke-width="0.5" />
<circle cx="351.47" cy="358.38" r="0.95" fill="#a0742a" stroke="none" stroke-width="0.5" />
<circle cx="349.17" cy="360.91" r="0.95" fill="#a0742a" stroke="none" stroke-width="0.5" />
<circle cx="348.07" cy="374.11" r="0.95" fill="#8c782a" stroke="none" stroke-width="0.5" />
<circle cx="352.69" cy="391.46" r="0.95" fill="#9a7a2c" stroke="none" stroke-width="0.5" />
<circle cx="352.30" cy="395.64" r="0.95" fill="#8c782a" stroke="none" stroke-width="0.5" />
<circle cx="357.98" cy="379.14" r="0.95" fill="#847426" stroke="none" stroke-width="0.5" />
<circle cx="355.60" cy="353.24" r="0.95" fill="#c07a34" stroke="none" stroke-width="0.5" />
<circle cx="350.58" cy="354.59" r="0.95" fill="#ac6a2a" stroke="none" stroke-width="0.5" />
<circle cx="354.11" cy="388.98" r="0.95" fill="#9a7a2c" stroke="none" stroke-width="0.5" />
<circle cx="353.36" cy="384.06" r="0.95" fill="#8c782a" stroke="none" stroke-width="0.5" />
<circle cx="353.64" cy="379.84" r="0.95" fill="#8c782a" stroke="none" stroke-width="0.5" />
<circle cx="354.33" cy="377.31" r="0.95" fill="#8c782a" stroke="none" stroke-width="0.5" />
<circle cx="348.24" cy="366.90" r="0.95" fill="#b8702c" stroke="none" stroke-width="0.5" />
<circle cx="352.01" cy="385.88" r="0.95" fill="#8c782a" stroke="none" stroke-width="0.5" />
<circle cx="353.35" cy="373.04" r="0.95" fill="#b8702c" stroke="none" stroke-width="0.5" />
<circle cx="353.60" cy="390.51" r="0.95" fill="#847426" stroke="none" stroke-width="0.5" />
<circle cx="353.04" cy="392.28" r="0.95" fill="#8c782a" stroke="none" stroke-width="0.5" />
<circle cx="347.81" cy="365.94" r="0.95" fill="#a0742a" stroke="none" stroke-width="0.5" />
<circle cx="352.17" cy="383.68" r="0.95" fill="#9a7a2c" stroke="none" stroke-width="0.5" />
<circle cx="349.71" cy="375.53" r="0.95" fill="#847426" stroke="none" stroke-width="0.5" />
<circle cx="351.42" cy="363.18" r="0.95" fill="#c07a34" stroke="none" stroke-width="0.5" />
<circle cx="353.74" cy="350.75" r="0.95" fill="#a0742a" stroke="none" stroke-width="0.5" />
<circle cx="351.25" cy="358.20" r="0.95" fill="#ac6a2a" stroke="none" stroke-width="0.5" />
<circle cx="350.74" cy="359.16" r="0.95" fill="#ac6a2a" stroke="none" stroke-width="0.5" />
<circle cx="352.87" cy="388.98" r="0.95" fill="#9a7a2c" stroke="none" stroke-width="0.5" />
<circle cx="356.63" cy="358.87" r="0.95" fill="#c07a34" stroke="none" stroke-width="0.5" />
<circle cx="347.57" cy="372.81" r="0.95" fill="#c07a34" stroke="none" stroke-width="0.5" />
<circle cx="347.54" cy="372.85" r="0.95" fill="#c07a34" stroke="none" stroke-width="0.5" />
<circle cx="355.53" cy="365.25" r="0.95" fill="#a0742a" stroke="none" stroke-width="0.5" />
<circle cx="352.41" cy="396.38" r="0.95" fill="#847426" stroke="none" stroke-width="0.5" />
<circle cx="347.29" cy="370.18" r="0.95" fill="#c07a34" stroke="none" stroke-width="0.5" />
<circle cx="358.32" cy="364.70" r="0.95" fill="#a0742a" stroke="none" stroke-width="0.5" />
<circle cx="351.43" cy="354.59" r="0.95" fill="#b8702c" stroke="none" stroke-width="0.5" />
<circle cx="353.37" cy="386.33" r="0.95" fill="#8c782a" stroke="none" stroke-width="0.5" />
<circle cx="356.50" cy="364.75" r="0.95" fill="#a0742a" stroke="none" stroke-width="0.5" />
<circle cx="351.37" cy="352.35" r="0.95" fill="#c07a34" stroke="none" stroke-width="0.5" />
<circle cx="351.31" cy="367.24" r="0.95" fill="#a0742a" stroke="none" stroke-width="0.5" />
<circle cx="351.26" cy="388.27" r="0.95" fill="#847426" stroke="none" stroke-width="0.5" />
<circle cx="347.60" cy="365.68" r="0.95" fill="#c07a34" stroke="none" stroke-width="0.5" />
<circle cx="350.32" cy="385.00" r="0.95" fill="#847426" stroke="none" stroke-width="0.5" />
<circle cx="350.18" cy="373.21" r="0.95" fill="#a0742a" stroke="none" stroke-width="0.5" />
<circle cx="353.29" cy="393.55" r="0.95" fill="#847426" stroke="none" stroke-width="0.5" />
<circle cx="348.74" cy="385.16" r="0.95" fill="#847426" stroke="none" stroke-width="0.5" />
<circle cx="356.71" cy="384.87" r="0.95" fill="#9a7a2c" stroke="none" stroke-width="0.5" />
<circle cx="352.65" cy="381.48" r="0.95" fill="#8c782a" stroke="none" stroke-width="0.5" />
<circle cx="353.36" cy="396.59" r="0.95" fill="#847426" stroke="none" stroke-width="0.5" />
<circle cx="353.58" cy="395.33" r="0.95" fill="#8c782a" stroke="none" stroke-width="0.5" />
<circle cx="350.86" cy="380.60" r="0.95" fill="#9a7a2c" stroke="none" stroke-width="0.5" />
<circle cx="351.58" cy="356.17" r="0.95" fill="#ac6a2a" stroke="none" stroke-width="0.5" />
<circle cx="353.03" cy="364.07" r="0.95" fill="#b8702c" stroke="none" stroke-width="0.5" />
<circle cx="349.48" cy="356.50" r="0.95" fill="#c07a34" stroke="none" stroke-width="0.5" />
<circle cx="348.83" cy="371.22" r="0.95" fill="#a0742a" stroke="none" stroke-width="0.5" />
<circle cx="351.35" cy="354.45" r="0.95" fill="#b8702c" stroke="none" stroke-width="0.5" />
<circle cx="356.00" cy="354.12" r="0.95" fill="#c07a34" stroke="none" stroke-width="0.5" />
<circle cx="352.43" cy="389.56" r="0.95" fill="#8c782a" stroke="none" stroke-width="0.5" />
<circle cx="353.35" cy="375.78" r="0.95" fill="#9a7a2c" stroke="none" stroke-width="0.5" />
<circle cx="350.65" cy="378.98" r="0.95" fill="#847426" stroke="none" stroke-width="0.5" />
<circle cx="349.55" cy="364.49" r="0.95" fill="#a0742a" stroke="none" stroke-width="0.5" />
<circle cx="350.83" cy="359.70" r="0.95" fill="#ac6a2a" stroke="none" stroke-width="0.5" />
<circle cx="352.33" cy="389.69" r="0.95" fill="#8c782a" stroke="none" stroke-width="0.5" />
<circle cx="353.31" cy="392.57" r="0.95" fill="#8c782a" stroke="none" stroke-width="0.5" />
<circle cx="348.22" cy="367.90" r="0.95" fill="#b8702c" stroke="none" stroke-width="0.5" />
<circle cx="357.11" cy="381.22" r="0.95" fill="#847426" stroke="none" stroke-width="0.5" />
<circle cx="348.32" cy="361.51" r="0.95" fill="#b8702c" stroke="none" stroke-width="0.5" />
<circle cx="357.21" cy="381.55" r="0.95" fill="#8c782a" stroke="none" stroke-width="0.5" />
<circle cx="353.87" cy="382.98" r="0.95" fill="#847426" stroke="none" stroke-width="0.5" />
<circle cx="348.29" cy="375.43" r="0.95" fill="#8c782a" stroke="none" stroke-width="0.5" />
<circle cx="347.40" cy="373.75" r="0.95" fill="#ac6a2a" stroke="none" stroke-width="0.5" />
<circle cx="350.66" cy="352.16" r="0.95" fill="#a0742a" stroke="none" stroke-width="0.5" />
<circle cx="355.64" cy="384.77" r="0.95" fill="#8c782a" stroke="none" stroke-width="0.5" />
<circle cx="348.21" cy="364.44" r="0.95" fill="#a0742a" stroke="none" stroke-width="0.5" />
<circle cx="347.70" cy="369.09" r="0.95" fill="#c07a34" stroke="none" stroke-width="0.5" />
<circle cx="354.48" cy="365.32" r="0.95" fill="#ac6a2a" stroke="none" stroke-width="0.5" />
<circle cx="352.18" cy="356.64" r="0.95" fill="#a0742a" stroke="none" stroke-width="0.5" />
<text transform="translate(335.60,419.00) rotate(-45)" font-size="7.4" text-anchor="end" fill="#1e1e1e" stroke="#1e1e1e" stroke-width="0.18" textLength="64.0" lengthAdjust="spacingAndGlyphs">AdjN of All samples</text>
<text transform="translate(357.00,419.00) rotate(-45)" font-size="7.4" text-anchor="end" fill="#1e1e1e" stroke="#1e1e1e" stroke-width="0.18" textLength="69.0" lengthAdjust="spacingAndGlyphs">Tumor of All samples</text>
<line x1="333.30" y1="410.10" x2="333.30" y2="413.00" stroke="#222" stroke-width="0.8" />
<line x1="352.90" y1="410.10" x2="352.90" y2="413.00" stroke="#222" stroke-width="0.8" />
<text x="395.00" y="313.80" font-size="11" text-anchor="start" fill="#1a1a1a" stroke="#1a1a1a" stroke-width="0.18" >J</text>
<rect x="400.00" y="335.70" width="32.00" height="24.30" fill="#fdeef4" stroke="none" stroke-width="0.8" />
<rect x="384.40" y="351.00" width="16.00" height="9.50" fill="#fdeef4" stroke="none" stroke-width="0.8" />
<clipPath id="cellc"><path d="M411.5,324.1 C411.8,329 412.5,333 413.1,334.6 C414.5,336 417,336 418.1,337.3 C418.5,339.5 417.3,341.5 417.6,343.4 C420,349 426,353.5 433,356.7 C428,356 422,355 416.5,354.5 C412,356 410,358.3 407.6,358.9 C404,359.8 401,359.8 398.8,360 C396,360.6 393,361 392.2,362.2 C391.3,363.5 391,365 390.5,366.6 C390,363 389.5,360 386.6,355.6 C389,354 392.5,353.5 395.5,352.3 C398.5,350.8 401,348.8 403.2,346.7 C405.5,345 407,343.5 407.6,341.8 C409,339.8 409.5,338.5 409.8,336.8 C410.5,334 410.8,332 410.9,331.3 C411.2,328.5 411.4,326 411.5,324.1 Z"/></clipPath>
<path d="M411.5,324.1 C411.8,329 412.5,333 413.1,334.6 C414.5,336 417,336 418.1,337.3 C418.5,339.5 417.3,341.5 417.6,343.4 C420,349 426,353.5 433,356.7 C428,356 422,355 416.5,354.5 C412,356 410,358.3 407.6,358.9 C404,359.8 401,359.8 398.8,360 C396,360.6 393,361 392.2,362.2 C391.3,363.5 391,365 390.5,366.6 C390,363 389.5,360 386.6,355.6 C389,354 392.5,353.5 395.5,352.3 C398.5,350.8 401,348.8 403.2,346.7 C405.5,345 407,343.5 407.6,341.8 C409,339.8 409.5,338.5 409.8,336.8 C410.5,334 410.8,332 410.9,331.3 C411.2,328.5 411.4,326 411.5,324.1 Z" fill="#907c4a" stroke="none" stroke-width="0.8" />
<g clip-path="url(#cellc)">
<rect x="400.40" y="343.40" width="16.80" height="18.00" fill="#e47a62" stroke="none" stroke-width="0.8" />
<rect x="386.00" y="352.00" width="14.40" height="10.00" fill="#9a8250" stroke="none" stroke-width="0.8" />
</g>
<circle cx="409.30" cy="351.10" r="4.40" fill="#c2562e" stroke="none" stroke-width="0.5" />
<circle cx="409.00" cy="350.80" r="2.80" fill="#b0461f" stroke="none" stroke-width="0.5" />
<line x1="427.50" y1="349.40" x2="453.00" y2="349.40" stroke="#333" stroke-width="0.7" marker-end="url(#ah)"/>
<text x="456.80" y="346.20" font-size="7.3" text-anchor="start" fill="#1e1e1e" stroke="#1e1e1e" stroke-width="0.18" >qPCR</text>
<text x="454.20" y="354.20" font-size="7.3" text-anchor="start" fill="#1e1e1e" stroke="#1e1e1e" stroke-width="0.18" >Analyse</text>
<text x="384.8" y="373.2" font-size="7.4" fill="#c4703e" stroke="#c4703e" stroke-width="0.15"><tspan>mammary gland </tspan><tspan fill="#2a1a2a" stroke="#2a1a2a">EpCAM Cell</tspan></text>
<text x="388.8" y="381.5" font-size="7.4" fill="#2a1a2a" stroke="#2a1a2a" stroke-width="0.15"><tspan>or </tspan><tspan fill="#d0863e" stroke="#d0863e">PyMT tumor </tspan><tspan>EpCAM cell</tspan></text>
<text x="523.70" y="320.90" font-size="7.4" text-anchor="middle" fill="#1e1e1e" stroke="#1e1e1e" stroke-width="0.18" textLength="23.3" lengthAdjust="spacingAndGlyphs" >Slc6a6</text>
<line x1="500.30" y1="336.00" x2="500.30" y2="404.30" stroke="#222" stroke-width="0.8" />
<line x1="500.30" y1="404.30" x2="545.50" y2="404.30" stroke="#222" stroke-width="0.8" />
<line x1="512.60" y1="404.30" x2="512.60" y2="407.00" stroke="#222" stroke-width="0.7" />
<line x1="531.90" y1="404.30" x2="531.90" y2="407.00" stroke="#222" stroke-width="0.7" />
<line x1="497.60" y1="404.30" x2="500.30" y2="404.30" stroke="#222" stroke-width="0.8" />
<text x="496.60" y="406.20" font-size="7.0" text-anchor="end" fill="#1e1e1e" stroke="#1e1e1e" stroke-width="0.18" >0</text>
<line x1="497.60" y1="382.30" x2="500.30" y2="382.30" stroke="#222" stroke-width="0.8" />
<text x="496.60" y="384.20" font-size="7.0" text-anchor="end" fill="#1e1e1e" stroke="#1e1e1e" stroke-width="0.18" >2</text>
<line x1="497.60" y1="360.30" x2="500.30" y2="360.30" stroke="#222" stroke-width="0.8" />
<text x="496.60" y="362.20" font-size="7.0" text-anchor="end" fill="#1e1e1e" stroke="#1e1e1e" stroke-width="0.18" >4</text>
<line x1="497.60" y1="338.30" x2="500.30" y2="338.30" stroke="#222" stroke-width="0.8" />
<text x="496.60" y="340.20" font-size="7.0" text-anchor="end" fill="#1e1e1e" stroke="#1e1e1e" stroke-width="0.18" >6</text>
<rect x="506.40" y="392.40" width="12.70" height="11.90" fill="#fff" stroke="#222" stroke-width="0.8" />
<rect x="525.20" y="354.60" width="13.20" height="49.70" fill="#fff" stroke="#6a72bc" stroke-width="0.9" />
<path d="M532,344.1 L532,366.8 M529.2,344.1 L534.8,344.1 M529.2,366.8 L534.8,366.8" fill="none" stroke="#3a4a9a" stroke-width="0.8" />
<circle cx="532.00" cy="345.20" r="1.20" fill="#3a4aa0" stroke="none" stroke-width="0.5" />
<circle cx="532.00" cy="355.60" r="1.20" fill="#3a4aa0" stroke="none" stroke-width="0.5" />
<circle cx="532.00" cy="365.80" r="1.20" fill="#3a4aa0" stroke="none" stroke-width="0.5" />
<circle cx="512.60" cy="389.60" r="1.10" fill="#1a1a1a" stroke="none" stroke-width="0.5" />
<circle cx="509.50" cy="392.20" r="1.10" fill="#1a1a1a" stroke="none" stroke-width="0.5" />
<circle cx="515.80" cy="392.20" r="1.10" fill="#1a1a1a" stroke="none" stroke-width="0.5" />
<path d="M512.6,340.6 L512.6,336.8 L532.4,336.8 L532.4,340.6" fill="none" stroke="#222" stroke-width="0.8" />
<text x="521.40" y="335.60" font-size="7.4" text-anchor="middle" fill="#1e1e1e" stroke="#1e1e1e" stroke-width="0.18" >**</text>
<text transform="translate(491.60,364.10) rotate(-90)" font-size="7.0" text-anchor="middle" fill="#1e1e1e" stroke="#1e1e1e" stroke-width="0.18" textLength="62.0" lengthAdjust="spacingAndGlyphs">mRNA Change fold</text>
<text transform="translate(515.60,411.80) rotate(-45)" font-size="7.6" text-anchor="end" fill="#1e1e1e" stroke="#1e1e1e" stroke-width="0.18">Normal</text>
<text transform="translate(534.80,411.80) rotate(-45)" font-size="7.6" text-anchor="end" fill="#1e1e1e" stroke="#1e1e1e" stroke-width="0.18">Tumor</text>
</g></svg></body></html>
